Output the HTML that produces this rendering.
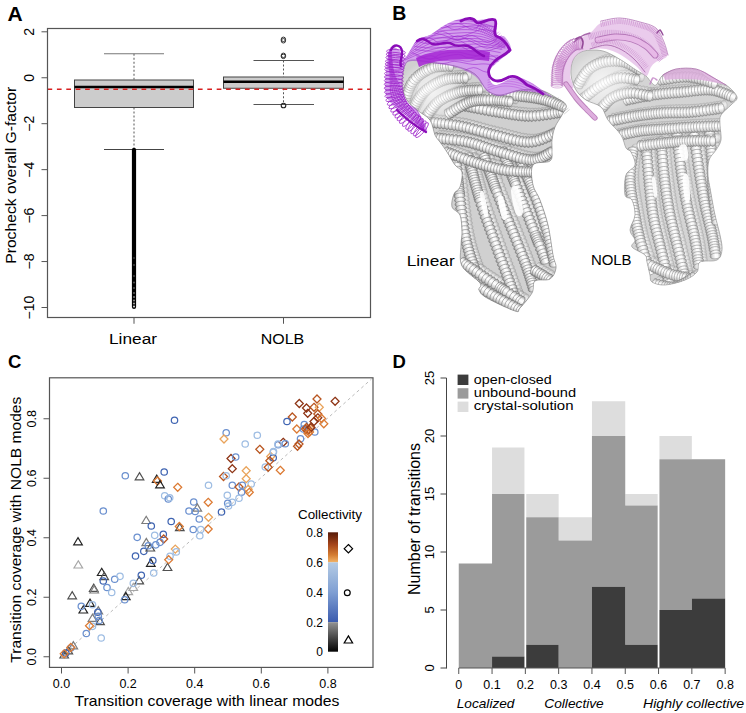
<!DOCTYPE html>
<html><head><meta charset="utf-8"><style>
html,body{margin:0;padding:0;background:#fff;}
svg{display:block;font-family:"Liberation Sans", sans-serif;}
</style></head><body>
<svg width="746" height="713" viewBox="0 0 746 713">
<rect width="746" height="713" fill="#fff"/>
<text x="7.5" y="21" font-size="21" text-anchor="start" font-weight="bold" font-style="normal" fill="#000">A</text>
<line x1="41.5" y1="31.8" x2="47.5" y2="31.8" stroke="#555" stroke-width="1"/>
<text x="34" y="31.8" font-size="14" text-anchor="middle" font-weight="normal" font-style="normal" fill="#000" transform="rotate(-90 34 31.8)">2</text>
<line x1="41.5" y1="77.75" x2="47.5" y2="77.75" stroke="#555" stroke-width="1"/>
<text x="34" y="77.75" font-size="14" text-anchor="middle" font-weight="normal" font-style="normal" fill="#000" transform="rotate(-90 34 77.75)">0</text>
<line x1="41.5" y1="123.7" x2="47.5" y2="123.7" stroke="#555" stroke-width="1"/>
<text x="34" y="123.7" font-size="14" text-anchor="middle" font-weight="normal" font-style="normal" fill="#000" transform="rotate(-90 34 123.7)">&#8722;2</text>
<line x1="41.5" y1="169.65" x2="47.5" y2="169.65" stroke="#555" stroke-width="1"/>
<text x="34" y="169.65" font-size="14" text-anchor="middle" font-weight="normal" font-style="normal" fill="#000" transform="rotate(-90 34 169.65)">&#8722;4</text>
<line x1="41.5" y1="215.6" x2="47.5" y2="215.6" stroke="#555" stroke-width="1"/>
<text x="34" y="215.6" font-size="14" text-anchor="middle" font-weight="normal" font-style="normal" fill="#000" transform="rotate(-90 34 215.6)">&#8722;6</text>
<line x1="41.5" y1="261.55" x2="47.5" y2="261.55" stroke="#555" stroke-width="1"/>
<text x="34" y="261.55" font-size="14" text-anchor="middle" font-weight="normal" font-style="normal" fill="#000" transform="rotate(-90 34 261.55)">&#8722;8</text>
<line x1="41.5" y1="307.5" x2="47.5" y2="307.5" stroke="#555" stroke-width="1"/>
<text x="34" y="307.5" font-size="14" text-anchor="middle" font-weight="normal" font-style="normal" fill="#000" transform="rotate(-90 34 307.5)">&#8722;10</text>
<text x="16.5" y="175.3" font-size="14.6" text-anchor="middle" font-weight="normal" font-style="normal" fill="#000" transform="rotate(-90 16.5 175.3)" textLength="177" lengthAdjust="spacingAndGlyphs">Procheck overall G-factor</text>
<line x1="134" y1="53.75" x2="134" y2="79.5" stroke="#555" stroke-width="1" stroke-dasharray="2,2"/>
<line x1="134" y1="107.5" x2="134" y2="149.5" stroke="#555" stroke-width="1" stroke-dasharray="2,2"/>
<line x1="104" y1="53.75" x2="164" y2="53.75" stroke="#777" stroke-width="1.2"/>
<line x1="104" y1="149.5" x2="164" y2="149.5" stroke="#444" stroke-width="1.2"/>
<rect x="74.5" y="80" width="119" height="27.5" fill="#cccccc" stroke="#444" stroke-width="1"/>
<line x1="74.5" y1="87" x2="193.5" y2="87" stroke="#000" stroke-width="2.6"/>
<rect x="131.9" y="147.7" width="4.2" height="161.3" rx="2.1" fill="#000"/>
<circle cx="134" cy="306.5" r="1.1" fill="#fff" opacity="0.8"/>
<circle cx="134" cy="303.5" r="1.1" fill="#fff" opacity="0.6"/>
<circle cx="134" cy="300.5" r="1.1" fill="#fff" opacity="0.5"/>
<circle cx="134" cy="297" r="1.1" fill="#fff" opacity="0.45"/>
<circle cx="134" cy="293" r="1.1" fill="#fff" opacity="0.35"/>
<circle cx="134" cy="288" r="1.1" fill="#fff" opacity="0.3"/>
<circle cx="134" cy="282.5" r="1.1" fill="#fff" opacity="0.3"/>
<circle cx="134" cy="276" r="1.1" fill="#fff" opacity="0.25"/>
<circle cx="134" cy="265" r="1.1" fill="#fff" opacity="0.25"/>
<circle cx="134" cy="258" r="1.1" fill="#fff" opacity="0.2"/>
<line x1="283.5" y1="60.5" x2="283.5" y2="76.75" stroke="#555" stroke-width="1" stroke-dasharray="2,2"/>
<line x1="283.5" y1="88.25" x2="283.5" y2="104.5" stroke="#555" stroke-width="1" stroke-dasharray="2,2"/>
<line x1="253.5" y1="60.5" x2="314" y2="60.5" stroke="#555" stroke-width="1.2"/>
<line x1="253.5" y1="104.5" x2="314" y2="104.5" stroke="#555" stroke-width="1.2"/>
<rect x="223.5" y="77" width="120" height="11.25" fill="#cccccc" stroke="#444" stroke-width="1"/>
<line x1="223.5" y1="81.75" x2="343.5" y2="81.75" stroke="#000" stroke-width="2.6"/>
<circle cx="283.4" cy="39.3" r="2.2" fill="none" stroke="#333" stroke-width="1"/>
<circle cx="283.4" cy="40.8" r="2.2" fill="none" stroke="#333" stroke-width="1"/>
<circle cx="283.4" cy="55.3" r="2.2" fill="none" stroke="#333" stroke-width="1"/>
<circle cx="283.4" cy="56.4" r="2.2" fill="none" stroke="#333" stroke-width="1"/>
<circle cx="283.5" cy="105.5" r="2.3" fill="none" stroke="#222" stroke-width="1.1"/>
<line x1="47.5" y1="89.25" x2="370.5" y2="89.25" stroke="#d82020" stroke-width="1.4" stroke-dasharray="4.7,4.7"/>
<rect x="47.5" y="28.5" width="323.0" height="289.0" fill="none" stroke="#555" stroke-width="1.2"/>
<line x1="134" y1="317.5" x2="134" y2="323.75" stroke="#555" stroke-width="1"/>
<line x1="283.5" y1="317.5" x2="283.5" y2="323.75" stroke="#555" stroke-width="1"/>
<text x="133" y="344.25" font-size="15.5" text-anchor="middle" font-weight="normal" font-style="normal" fill="#000" textLength="48" lengthAdjust="spacingAndGlyphs">Linear</text>
<text x="282.5" y="343.75" font-size="15.5" text-anchor="middle" font-weight="normal" font-style="normal" fill="#000" textLength="43.5" lengthAdjust="spacingAndGlyphs">NOLB</text>
<text x="392.3" y="20.4" font-size="19.5" text-anchor="start" font-weight="bold" font-style="normal" fill="#000">B</text>
<defs><linearGradient id="cg" x1="0" y1="0" x2="0" y2="1"><stop offset="0" stop-color="#9a9a9a"/><stop offset="0.3" stop-color="#f6f6f6"/><stop offset="0.5" stop-color="#ffffff"/><stop offset="0.8" stop-color="#cfcfcf"/><stop offset="1" stop-color="#888"/></linearGradient><linearGradient id="cg2" x1="0" y1="0" x2="0" y2="1"><stop offset="0" stop-color="#a8a8a8"/><stop offset="0.3" stop-color="#f8f8f8"/><stop offset="0.5" stop-color="#ffffff"/><stop offset="0.8" stop-color="#d8d8d8"/><stop offset="1" stop-color="#999"/></linearGradient></defs>
<clipPath id="clin"><path d="M405.0,65.0 C406.7,60.8 407.8,60.5 412.0,60.0 C416.2,59.5 422.8,61.0 430.0,62.0 C437.2,63.0 447.5,64.0 455.0,66.0 C462.5,68.0 469.7,70.0 475.0,74.0 C480.3,78.0 482.8,86.5 487.0,90.0 C491.2,93.5 494.5,95.0 500.0,95.0 C505.5,95.0 513.3,90.8 520.0,90.0 C526.7,89.2 534.2,88.8 540.0,90.0 C545.8,91.2 550.7,94.5 555.0,97.0 C559.3,99.5 564.8,102.0 566.0,105.0 C567.2,108.0 563.8,111.3 562.0,115.0 C560.2,118.7 556.7,122.8 555.0,127.0 C553.3,131.2 552.5,136.2 552.0,140.0 C551.5,143.8 552.3,146.5 552.0,150.0 C551.7,153.5 553.2,158.5 550.0,161.0 C546.8,163.5 535.8,161.0 533.0,165.0 C530.2,169.0 531.8,179.2 533.0,185.0 C534.2,190.8 537.5,193.3 540.0,200.0 C542.5,206.7 545.8,215.8 548.0,225.0 C550.2,234.2 551.7,247.8 553.0,255.0 C554.3,262.2 556.5,264.0 556.0,268.0 C555.5,272.0 553.5,276.8 550.0,279.0 C546.5,281.2 538.0,278.7 535.0,281.0 C532.0,283.3 534.5,288.5 532.0,293.0 C529.5,297.5 522.8,305.0 520.0,308.0 C517.2,311.0 520.5,312.7 515.0,311.0 C509.5,309.3 493.0,301.5 487.0,298.0 C481.0,294.5 480.2,292.5 479.0,290.0 C477.8,287.5 482.8,287.0 480.0,283.0 C477.2,279.0 465.2,272.3 462.0,266.0 C458.8,259.7 461.0,250.7 461.0,245.0 C461.0,239.3 462.2,237.0 462.0,232.0 C461.8,227.0 461.7,219.2 460.0,215.0 C458.3,210.8 453.0,210.5 452.0,207.0 C451.0,203.5 452.7,197.3 454.0,194.0 C455.3,190.7 458.7,190.7 460.0,187.0 C461.3,183.3 462.8,175.7 462.0,172.0 C461.2,168.3 457.5,168.3 455.0,165.0 C452.5,161.7 449.5,155.8 447.0,152.0 C444.5,148.2 442.0,144.8 440.0,142.0 C438.0,139.2 436.7,138.7 435.0,135.0 C433.3,131.3 433.0,124.2 430.0,120.0 C427.0,115.8 420.8,113.3 417.0,110.0 C413.2,106.7 409.5,104.2 407.0,100.0 C404.5,95.8 402.3,90.8 402.0,85.0 C401.7,79.2 403.3,69.2 405.0,65.0 Z"/></clipPath>
<path d="M405.0,65.0 C406.7,60.8 407.8,60.5 412.0,60.0 C416.2,59.5 422.8,61.0 430.0,62.0 C437.2,63.0 447.5,64.0 455.0,66.0 C462.5,68.0 469.7,70.0 475.0,74.0 C480.3,78.0 482.8,86.5 487.0,90.0 C491.2,93.5 494.5,95.0 500.0,95.0 C505.5,95.0 513.3,90.8 520.0,90.0 C526.7,89.2 534.2,88.8 540.0,90.0 C545.8,91.2 550.7,94.5 555.0,97.0 C559.3,99.5 564.8,102.0 566.0,105.0 C567.2,108.0 563.8,111.3 562.0,115.0 C560.2,118.7 556.7,122.8 555.0,127.0 C553.3,131.2 552.5,136.2 552.0,140.0 C551.5,143.8 552.3,146.5 552.0,150.0 C551.7,153.5 553.2,158.5 550.0,161.0 C546.8,163.5 535.8,161.0 533.0,165.0 C530.2,169.0 531.8,179.2 533.0,185.0 C534.2,190.8 537.5,193.3 540.0,200.0 C542.5,206.7 545.8,215.8 548.0,225.0 C550.2,234.2 551.7,247.8 553.0,255.0 C554.3,262.2 556.5,264.0 556.0,268.0 C555.5,272.0 553.5,276.8 550.0,279.0 C546.5,281.2 538.0,278.7 535.0,281.0 C532.0,283.3 534.5,288.5 532.0,293.0 C529.5,297.5 522.8,305.0 520.0,308.0 C517.2,311.0 520.5,312.7 515.0,311.0 C509.5,309.3 493.0,301.5 487.0,298.0 C481.0,294.5 480.2,292.5 479.0,290.0 C477.8,287.5 482.8,287.0 480.0,283.0 C477.2,279.0 465.2,272.3 462.0,266.0 C458.8,259.7 461.0,250.7 461.0,245.0 C461.0,239.3 462.2,237.0 462.0,232.0 C461.8,227.0 461.7,219.2 460.0,215.0 C458.3,210.8 453.0,210.5 452.0,207.0 C451.0,203.5 452.7,197.3 454.0,194.0 C455.3,190.7 458.7,190.7 460.0,187.0 C461.3,183.3 462.8,175.7 462.0,172.0 C461.2,168.3 457.5,168.3 455.0,165.0 C452.5,161.7 449.5,155.8 447.0,152.0 C444.5,148.2 442.0,144.8 440.0,142.0 C438.0,139.2 436.7,138.7 435.0,135.0 C433.3,131.3 433.0,124.2 430.0,120.0 C427.0,115.8 420.8,113.3 417.0,110.0 C413.2,106.7 409.5,104.2 407.0,100.0 C404.5,95.8 402.3,90.8 402.0,85.0 C401.7,79.2 403.3,69.2 405.0,65.0 Z" fill="#d0d0d0"/>
<g clip-path="url(#clin)">
<g fill="url(#cg)" stroke="#7a7a7a" stroke-width="0.45" opacity="0.55"><ellipse cx="460.0" cy="157.0" rx="2.8" ry="5.0" transform="rotate(84 460.0 157.0)"/><ellipse cx="460.4" cy="160.8" rx="2.8" ry="5.0" transform="rotate(85 460.4 160.8)"/><ellipse cx="460.7" cy="164.2" rx="2.8" ry="5.0" transform="rotate(85 460.7 164.2)"/><ellipse cx="461.0" cy="168.0" rx="2.8" ry="5.0" transform="rotate(85 461.0 168.0)"/><ellipse cx="461.4" cy="172.3" rx="2.8" ry="5.0" transform="rotate(85 461.4 172.3)"/><ellipse cx="461.8" cy="176.8" rx="2.8" ry="5.0" transform="rotate(85 461.8 176.8)"/><ellipse cx="462.3" cy="181.4" rx="2.8" ry="5.0" transform="rotate(84 462.3 181.4)"/><ellipse cx="462.8" cy="186.1" rx="2.8" ry="5.0" transform="rotate(84 462.8 186.1)"/><ellipse cx="463.3" cy="190.6" rx="2.8" ry="5.0" transform="rotate(84 463.3 190.6)"/><ellipse cx="463.8" cy="195.0" rx="2.8" ry="5.0" transform="rotate(83 463.8 195.0)"/><ellipse cx="464.3" cy="199.0" rx="2.8" ry="5.0" transform="rotate(83 464.3 199.0)"/><ellipse cx="464.8" cy="203.1" rx="2.8" ry="5.0" transform="rotate(83 464.8 203.1)"/><ellipse cx="465.3" cy="207.2" rx="2.8" ry="5.0" transform="rotate(83 465.3 207.2)"/><ellipse cx="465.8" cy="211.3" rx="2.8" ry="5.0" transform="rotate(83 465.8 211.3)"/><ellipse cx="466.3" cy="215.4" rx="2.8" ry="5.0" transform="rotate(82 466.3 215.4)"/><ellipse cx="466.9" cy="219.5" rx="2.8" ry="5.0" transform="rotate(82 466.9 219.5)"/><ellipse cx="467.5" cy="223.6" rx="2.8" ry="5.0" transform="rotate(81 467.5 223.6)"/><ellipse cx="468.2" cy="227.6" rx="2.8" ry="5.0" transform="rotate(80 468.2 227.6)"/><ellipse cx="468.9" cy="231.4" rx="2.8" ry="5.0" transform="rotate(79 468.9 231.4)"/><ellipse cx="469.6" cy="235.2" rx="2.8" ry="5.0" transform="rotate(78 469.6 235.2)"/><ellipse cx="470.4" cy="238.8" rx="2.8" ry="5.0" transform="rotate(77 470.4 238.8)"/><ellipse cx="471.2" cy="242.3" rx="2.8" ry="5.0" transform="rotate(76 471.2 242.3)"/><ellipse cx="472.1" cy="245.7" rx="2.8" ry="5.0" transform="rotate(75 472.1 245.7)"/><ellipse cx="473.0" cy="249.0" rx="2.8" ry="5.0" transform="rotate(74 473.0 249.0)"/><ellipse cx="474.0" cy="252.2" rx="2.8" ry="5.0" transform="rotate(73 474.0 252.2)"/><ellipse cx="475.0" cy="255.3" rx="2.8" ry="5.0" transform="rotate(72 475.0 255.3)"/><ellipse cx="476.0" cy="258.4" rx="2.8" ry="5.0" transform="rotate(71 476.0 258.4)"/><ellipse cx="477.1" cy="261.5" rx="2.8" ry="5.0" transform="rotate(70 477.1 261.5)"/><ellipse cx="478.2" cy="264.5" rx="2.8" ry="5.0" transform="rotate(69 478.2 264.5)"/><ellipse cx="479.4" cy="267.5" rx="2.8" ry="5.0" transform="rotate(69 479.4 267.5)"/><ellipse cx="480.6" cy="270.5" rx="2.8" ry="5.0" transform="rotate(67 480.6 270.5)"/><ellipse cx="482.0" cy="273.7" rx="2.8" ry="5.0" transform="rotate(65 482.0 273.7)"/><ellipse cx="483.5" cy="276.9" rx="2.8" ry="5.0" transform="rotate(64 483.5 276.9)"/><ellipse cx="485.2" cy="280.2" rx="2.8" ry="5.0" transform="rotate(63 485.2 280.2)"/><ellipse cx="486.8" cy="283.4" rx="2.8" ry="5.0" transform="rotate(63 486.8 283.4)"/><ellipse cx="488.4" cy="286.5" rx="2.8" ry="5.0" transform="rotate(62 488.4 286.5)"/><ellipse cx="490.0" cy="289.4" rx="2.8" ry="5.0" transform="rotate(62 490.0 289.4)"/><ellipse cx="491.4" cy="292.1" rx="2.8" ry="5.0" transform="rotate(62 491.4 292.1)"/><ellipse cx="492.6" cy="294.4" rx="2.8" ry="5.0" transform="rotate(62 492.6 294.4)"/><ellipse cx="494.0" cy="297.0" rx="2.8" ry="5.0" transform="rotate(63 494.0 297.0)"/></g>
<g fill="url(#cg)" stroke="#7a7a7a" stroke-width="0.45" opacity="0.55"><ellipse cx="472.0" cy="153.0" rx="2.8" ry="5.0" transform="rotate(75 472.0 153.0)"/><ellipse cx="472.7" cy="155.6" rx="2.8" ry="5.0" transform="rotate(75 472.7 155.6)"/><ellipse cx="473.6" cy="159.0" rx="2.8" ry="5.0" transform="rotate(75 473.6 159.0)"/><ellipse cx="474.7" cy="163.1" rx="2.8" ry="5.0" transform="rotate(75 474.7 163.1)"/><ellipse cx="475.8" cy="167.6" rx="2.8" ry="5.0" transform="rotate(75 475.8 167.6)"/><ellipse cx="476.5" cy="170.0" rx="2.8" ry="5.0" transform="rotate(75 476.5 170.0)"/><ellipse cx="477.1" cy="172.5" rx="2.8" ry="5.0" transform="rotate(75 477.1 172.5)"/><ellipse cx="477.8" cy="175.0" rx="2.8" ry="5.0" transform="rotate(75 477.8 175.0)"/><ellipse cx="478.5" cy="177.6" rx="2.8" ry="5.0" transform="rotate(75 478.5 177.6)"/><ellipse cx="479.2" cy="180.1" rx="2.8" ry="5.0" transform="rotate(75 479.2 180.1)"/><ellipse cx="479.9" cy="182.7" rx="2.8" ry="5.0" transform="rotate(75 479.9 182.7)"/><ellipse cx="480.6" cy="185.2" rx="2.8" ry="5.0" transform="rotate(74 480.6 185.2)"/><ellipse cx="481.3" cy="187.8" rx="2.8" ry="5.0" transform="rotate(74 481.3 187.8)"/><ellipse cx="482.0" cy="190.2" rx="2.8" ry="5.0" transform="rotate(74 482.0 190.2)"/><ellipse cx="482.7" cy="192.6" rx="2.8" ry="5.0" transform="rotate(74 482.7 192.6)"/><ellipse cx="484.0" cy="197.0" rx="2.8" ry="5.0" transform="rotate(73 484.0 197.0)"/><ellipse cx="485.3" cy="201.2" rx="2.8" ry="5.0" transform="rotate(72 485.3 201.2)"/><ellipse cx="486.7" cy="205.3" rx="2.8" ry="5.0" transform="rotate(72 486.7 205.3)"/><ellipse cx="488.1" cy="209.4" rx="2.8" ry="5.0" transform="rotate(71 488.1 209.4)"/><ellipse cx="489.5" cy="213.4" rx="2.8" ry="5.0" transform="rotate(71 489.5 213.4)"/><ellipse cx="490.9" cy="217.4" rx="2.8" ry="5.0" transform="rotate(70 490.9 217.4)"/><ellipse cx="492.3" cy="221.3" rx="2.8" ry="5.0" transform="rotate(70 492.3 221.3)"/><ellipse cx="493.7" cy="225.3" rx="2.8" ry="5.0" transform="rotate(70 493.7 225.3)"/><ellipse cx="495.2" cy="229.2" rx="2.8" ry="5.0" transform="rotate(70 495.2 229.2)"/><ellipse cx="496.6" cy="233.1" rx="2.8" ry="5.0" transform="rotate(70 496.6 233.1)"/><ellipse cx="498.0" cy="237.0" rx="2.8" ry="5.0" transform="rotate(70 498.0 237.0)"/><ellipse cx="499.4" cy="240.9" rx="2.8" ry="5.0" transform="rotate(70 499.4 240.9)"/><ellipse cx="500.9" cy="244.9" rx="2.8" ry="5.0" transform="rotate(70 500.9 244.9)"/><ellipse cx="502.3" cy="248.9" rx="2.8" ry="5.0" transform="rotate(70 502.3 248.9)"/><ellipse cx="503.8" cy="252.8" rx="2.8" ry="5.0" transform="rotate(70 503.8 252.8)"/><ellipse cx="505.2" cy="256.8" rx="2.8" ry="5.0" transform="rotate(70 505.2 256.8)"/><ellipse cx="506.7" cy="260.6" rx="2.8" ry="5.0" transform="rotate(70 506.7 260.6)"/><ellipse cx="508.1" cy="264.4" rx="2.8" ry="5.0" transform="rotate(70 508.1 264.4)"/><ellipse cx="509.5" cy="268.1" rx="2.8" ry="5.0" transform="rotate(70 509.5 268.1)"/><ellipse cx="510.8" cy="271.6" rx="2.8" ry="5.0" transform="rotate(70 510.8 271.6)"/><ellipse cx="512.0" cy="275.0" rx="2.8" ry="5.0" transform="rotate(70 512.0 275.0)"/><ellipse cx="513.2" cy="278.3" rx="2.8" ry="5.0" transform="rotate(70 513.2 278.3)"/><ellipse cx="514.4" cy="281.7" rx="2.8" ry="5.0" transform="rotate(70 514.4 281.7)"/><ellipse cx="515.6" cy="285.0" rx="2.8" ry="5.0" transform="rotate(70 515.6 285.0)"/><ellipse cx="516.8" cy="288.3" rx="2.8" ry="5.0" transform="rotate(70 516.8 288.3)"/><ellipse cx="517.9" cy="291.4" rx="2.8" ry="5.0" transform="rotate(70 517.9 291.4)"/><ellipse cx="518.9" cy="294.3" rx="2.8" ry="5.0" transform="rotate(70 518.9 294.3)"/><ellipse cx="519.9" cy="297.0" rx="2.8" ry="5.0" transform="rotate(70 519.9 297.0)"/><ellipse cx="520.7" cy="299.4" rx="2.8" ry="5.0" transform="rotate(70 520.7 299.4)"/><ellipse cx="521.7" cy="302.2" rx="2.8" ry="5.0" transform="rotate(70 521.7 302.2)"/></g>
<g fill="url(#cg)" stroke="#7a7a7a" stroke-width="0.45" opacity="0.55"><ellipse cx="488.0" cy="153.0" rx="2.8" ry="5.0" transform="rotate(70 488.0 153.0)"/><ellipse cx="488.8" cy="155.3" rx="2.8" ry="5.0" transform="rotate(71 488.8 155.3)"/><ellipse cx="489.9" cy="158.3" rx="2.8" ry="5.0" transform="rotate(71 489.9 158.3)"/><ellipse cx="491.1" cy="161.9" rx="2.8" ry="5.0" transform="rotate(71 491.1 161.9)"/><ellipse cx="492.5" cy="165.9" rx="2.8" ry="5.0" transform="rotate(71 492.5 165.9)"/><ellipse cx="494.1" cy="170.2" rx="2.8" ry="5.0" transform="rotate(70 494.1 170.2)"/><ellipse cx="495.7" cy="174.7" rx="2.8" ry="5.0" transform="rotate(70 495.7 174.7)"/><ellipse cx="496.5" cy="176.9" rx="2.8" ry="5.0" transform="rotate(70 496.5 176.9)"/><ellipse cx="497.3" cy="179.2" rx="2.8" ry="5.0" transform="rotate(70 497.3 179.2)"/><ellipse cx="498.1" cy="181.5" rx="2.8" ry="5.0" transform="rotate(70 498.1 181.5)"/><ellipse cx="499.7" cy="185.9" rx="2.8" ry="5.0" transform="rotate(70 499.7 185.9)"/><ellipse cx="501.3" cy="190.0" rx="2.8" ry="5.0" transform="rotate(69 501.3 190.0)"/><ellipse cx="502.7" cy="193.9" rx="2.8" ry="5.0" transform="rotate(69 502.7 193.9)"/><ellipse cx="504.2" cy="197.7" rx="2.8" ry="5.0" transform="rotate(68 504.2 197.7)"/><ellipse cx="505.7" cy="201.4" rx="2.8" ry="5.0" transform="rotate(68 505.7 201.4)"/><ellipse cx="507.2" cy="205.1" rx="2.8" ry="5.0" transform="rotate(68 507.2 205.1)"/><ellipse cx="508.7" cy="208.8" rx="2.8" ry="5.0" transform="rotate(68 508.7 208.8)"/><ellipse cx="510.3" cy="212.5" rx="2.8" ry="5.0" transform="rotate(68 510.3 212.5)"/><ellipse cx="511.8" cy="216.2" rx="2.8" ry="5.0" transform="rotate(68 511.8 216.2)"/><ellipse cx="513.3" cy="219.9" rx="2.8" ry="5.0" transform="rotate(68 513.3 219.9)"/><ellipse cx="514.8" cy="223.5" rx="2.8" ry="5.0" transform="rotate(68 514.8 223.5)"/><ellipse cx="516.3" cy="227.2" rx="2.8" ry="5.0" transform="rotate(68 516.3 227.2)"/><ellipse cx="517.7" cy="230.8" rx="2.8" ry="5.0" transform="rotate(68 517.7 230.8)"/><ellipse cx="519.2" cy="234.6" rx="2.8" ry="5.0" transform="rotate(68 519.2 234.6)"/><ellipse cx="520.7" cy="238.4" rx="2.8" ry="5.0" transform="rotate(68 520.7 238.4)"/><ellipse cx="522.3" cy="242.2" rx="2.8" ry="5.0" transform="rotate(68 522.3 242.2)"/><ellipse cx="523.8" cy="246.0" rx="2.8" ry="5.0" transform="rotate(69 523.8 246.0)"/><ellipse cx="525.2" cy="249.8" rx="2.8" ry="5.0" transform="rotate(69 525.2 249.8)"/><ellipse cx="526.7" cy="253.5" rx="2.8" ry="5.0" transform="rotate(69 526.7 253.5)"/><ellipse cx="528.0" cy="257.0" rx="2.8" ry="5.0" transform="rotate(69 528.0 257.0)"/><ellipse cx="529.3" cy="260.4" rx="2.8" ry="5.0" transform="rotate(69 529.3 260.4)"/><ellipse cx="530.5" cy="263.5" rx="2.8" ry="5.0" transform="rotate(70 530.5 263.5)"/><ellipse cx="531.5" cy="266.4" rx="2.8" ry="5.0" transform="rotate(70 531.5 266.4)"/><ellipse cx="532.5" cy="269.3" rx="2.8" ry="5.0" transform="rotate(71 532.5 269.3)"/><ellipse cx="533.4" cy="272.0" rx="2.8" ry="5.0" transform="rotate(72 533.4 272.0)"/><ellipse cx="534.2" cy="274.6" rx="2.8" ry="5.0" transform="rotate(72 534.2 274.6)"/><ellipse cx="535.0" cy="277.1" rx="2.8" ry="5.0" transform="rotate(73 535.0 277.1)"/><ellipse cx="535.7" cy="279.4" rx="2.8" ry="5.0" transform="rotate(73 535.7 279.4)"/><ellipse cx="536.6" cy="282.5" rx="2.8" ry="5.0" transform="rotate(74 536.6 282.5)"/><ellipse cx="537.4" cy="285.0" rx="2.8" ry="5.0" transform="rotate(73 537.4 285.0)"/></g>
<g fill="url(#cg)" stroke="#7a7a7a" stroke-width="0.45" opacity="0.55"><ellipse cx="506.0" cy="147.0" rx="2.8" ry="5.0" transform="rotate(68 506.0 147.0)"/><ellipse cx="506.9" cy="149.3" rx="2.8" ry="5.0" transform="rotate(68 506.9 149.3)"/><ellipse cx="508.0" cy="152.2" rx="2.8" ry="5.0" transform="rotate(68 508.0 152.2)"/><ellipse cx="509.4" cy="155.6" rx="2.8" ry="5.0" transform="rotate(68 509.4 155.6)"/><ellipse cx="510.9" cy="159.5" rx="2.8" ry="5.0" transform="rotate(68 510.9 159.5)"/><ellipse cx="512.6" cy="163.6" rx="2.8" ry="5.0" transform="rotate(68 512.6 163.6)"/><ellipse cx="514.3" cy="168.0" rx="2.8" ry="5.0" transform="rotate(68 514.3 168.0)"/><ellipse cx="516.0" cy="172.4" rx="2.8" ry="5.0" transform="rotate(68 516.0 172.4)"/><ellipse cx="517.8" cy="176.8" rx="2.8" ry="5.0" transform="rotate(68 517.8 176.8)"/><ellipse cx="519.4" cy="181.0" rx="2.8" ry="5.0" transform="rotate(68 519.4 181.0)"/><ellipse cx="521.0" cy="185.0" rx="2.8" ry="5.0" transform="rotate(68 521.0 185.0)"/><ellipse cx="522.5" cy="188.8" rx="2.8" ry="5.0" transform="rotate(68 522.5 188.8)"/><ellipse cx="524.0" cy="192.6" rx="2.8" ry="5.0" transform="rotate(68 524.0 192.6)"/><ellipse cx="525.5" cy="196.5" rx="2.8" ry="5.0" transform="rotate(68 525.5 196.5)"/><ellipse cx="527.0" cy="200.3" rx="2.8" ry="5.0" transform="rotate(68 527.0 200.3)"/><ellipse cx="528.6" cy="204.1" rx="2.8" ry="5.0" transform="rotate(68 528.6 204.1)"/><ellipse cx="530.1" cy="207.9" rx="2.8" ry="5.0" transform="rotate(68 530.1 207.9)"/><ellipse cx="531.6" cy="211.7" rx="2.8" ry="5.0" transform="rotate(68 531.6 211.7)"/><ellipse cx="533.1" cy="215.5" rx="2.8" ry="5.0" transform="rotate(69 533.1 215.5)"/><ellipse cx="534.5" cy="219.3" rx="2.8" ry="5.0" transform="rotate(69 534.5 219.3)"/><ellipse cx="536.0" cy="223.0" rx="2.8" ry="5.0" transform="rotate(69 536.0 223.0)"/><ellipse cx="537.5" cy="226.8" rx="2.8" ry="5.0" transform="rotate(69 537.5 226.8)"/><ellipse cx="539.1" cy="230.9" rx="2.8" ry="5.0" transform="rotate(69 539.1 230.9)"/><ellipse cx="540.7" cy="235.1" rx="2.8" ry="5.0" transform="rotate(69 540.7 235.1)"/><ellipse cx="542.3" cy="239.3" rx="2.8" ry="5.0" transform="rotate(69 542.3 239.3)"/><ellipse cx="543.9" cy="243.4" rx="2.8" ry="5.0" transform="rotate(69 543.9 243.4)"/><ellipse cx="545.5" cy="247.3" rx="2.8" ry="5.0" transform="rotate(69 545.5 247.3)"/><ellipse cx="546.9" cy="250.9" rx="2.8" ry="5.0" transform="rotate(69 546.9 250.9)"/><ellipse cx="548.1" cy="254.1" rx="2.8" ry="5.0" transform="rotate(69 548.1 254.1)"/><ellipse cx="549.2" cy="256.9" rx="2.8" ry="5.0" transform="rotate(69 549.2 256.9)"/></g>
<g fill="url(#cg)" stroke="#7a7a7a" stroke-width="0.45" opacity="0.55"><ellipse cx="524.0" cy="157.0" rx="2.8" ry="5.0" transform="rotate(67 524.0 157.0)"/><ellipse cx="525.0" cy="159.3" rx="2.8" ry="5.0" transform="rotate(67 525.0 159.3)"/><ellipse cx="526.2" cy="162.2" rx="2.8" ry="5.0" transform="rotate(66 526.2 162.2)"/><ellipse cx="527.8" cy="165.6" rx="2.8" ry="5.0" transform="rotate(66 527.8 165.6)"/><ellipse cx="529.4" cy="169.5" rx="2.8" ry="5.0" transform="rotate(66 529.4 169.5)"/><ellipse cx="531.2" cy="173.7" rx="2.8" ry="5.0" transform="rotate(67 531.2 173.7)"/><ellipse cx="533.1" cy="178.0" rx="2.8" ry="5.0" transform="rotate(67 533.1 178.0)"/><ellipse cx="534.1" cy="180.3" rx="2.8" ry="5.0" transform="rotate(67 534.1 180.3)"/><ellipse cx="535.0" cy="182.5" rx="2.8" ry="5.0" transform="rotate(67 535.0 182.5)"/><ellipse cx="536.8" cy="186.9" rx="2.8" ry="5.0" transform="rotate(68 536.8 186.9)"/><ellipse cx="538.5" cy="191.1" rx="2.8" ry="5.0" transform="rotate(69 538.5 191.1)"/><ellipse cx="540.0" cy="195.0" rx="2.8" ry="5.0" transform="rotate(69 540.0 195.0)"/><ellipse cx="541.4" cy="198.8" rx="2.8" ry="5.0" transform="rotate(70 541.4 198.8)"/><ellipse cx="542.7" cy="202.6" rx="2.8" ry="5.0" transform="rotate(71 542.7 202.6)"/><ellipse cx="544.1" cy="206.4" rx="2.8" ry="5.0" transform="rotate(71 544.1 206.4)"/><ellipse cx="545.3" cy="210.2" rx="2.8" ry="5.0" transform="rotate(72 545.3 210.2)"/><ellipse cx="546.6" cy="213.9" rx="2.8" ry="5.0" transform="rotate(72 546.6 213.9)"/><ellipse cx="547.8" cy="217.7" rx="2.8" ry="5.0" transform="rotate(73 547.8 217.7)"/><ellipse cx="548.9" cy="221.4" rx="2.8" ry="5.0" transform="rotate(73 548.9 221.4)"/><ellipse cx="550.0" cy="225.0" rx="2.8" ry="5.0" transform="rotate(73 550.0 225.0)"/><ellipse cx="551.0" cy="228.5" rx="2.8" ry="5.0" transform="rotate(74 551.0 228.5)"/><ellipse cx="552.0" cy="232.0" rx="2.8" ry="5.0" transform="rotate(74 552.0 232.0)"/><ellipse cx="552.9" cy="235.5" rx="2.8" ry="5.0" transform="rotate(76 552.9 235.5)"/><ellipse cx="553.8" cy="239.1" rx="2.8" ry="5.0" transform="rotate(76 553.8 239.1)"/><ellipse cx="554.7" cy="242.7" rx="2.8" ry="5.0" transform="rotate(77 554.7 242.7)"/><ellipse cx="555.5" cy="246.3" rx="2.8" ry="5.0" transform="rotate(78 555.5 246.3)"/><ellipse cx="556.2" cy="249.8" rx="2.8" ry="5.0" transform="rotate(78 556.2 249.8)"/><ellipse cx="556.9" cy="253.1" rx="2.8" ry="5.0" transform="rotate(78 556.9 253.1)"/><ellipse cx="557.6" cy="256.2" rx="2.8" ry="5.0" transform="rotate(78 557.6 256.2)"/><ellipse cx="558.1" cy="258.9" rx="2.8" ry="5.0" transform="rotate(78 558.1 258.9)"/><ellipse cx="558.8" cy="262.2" rx="2.8" ry="5.0" transform="rotate(78 558.8 262.2)"/></g>
<g fill="url(#cg)" stroke="#7a7a7a" stroke-width="0.45" opacity="0.55"><ellipse cx="466.0" cy="259.0" rx="2.8" ry="5.0" transform="rotate(34 466.0 259.0)"/><ellipse cx="468.6" cy="260.8" rx="2.8" ry="5.0" transform="rotate(34 468.6 260.8)"/><ellipse cx="470.9" cy="262.4" rx="2.8" ry="5.0" transform="rotate(34 470.9 262.4)"/><ellipse cx="473.6" cy="264.2" rx="2.8" ry="5.0" transform="rotate(34 473.6 264.2)"/><ellipse cx="476.5" cy="266.1" rx="2.8" ry="5.0" transform="rotate(34 476.5 266.1)"/><ellipse cx="479.6" cy="268.3" rx="2.8" ry="5.0" transform="rotate(34 479.6 268.3)"/><ellipse cx="482.8" cy="270.4" rx="2.8" ry="5.0" transform="rotate(34 482.8 270.4)"/><ellipse cx="486.1" cy="272.7" rx="2.8" ry="5.0" transform="rotate(34 486.1 272.7)"/><ellipse cx="489.3" cy="274.9" rx="2.8" ry="5.0" transform="rotate(34 489.3 274.9)"/><ellipse cx="492.5" cy="277.0" rx="2.8" ry="5.0" transform="rotate(34 492.5 277.0)"/><ellipse cx="495.5" cy="279.0" rx="2.8" ry="5.0" transform="rotate(34 495.5 279.0)"/><ellipse cx="498.9" cy="281.2" rx="2.8" ry="5.0" transform="rotate(33 498.9 281.2)"/><ellipse cx="502.5" cy="283.6" rx="2.8" ry="5.0" transform="rotate(33 502.5 283.6)"/><ellipse cx="506.2" cy="286.0" rx="2.8" ry="5.0" transform="rotate(33 506.2 286.0)"/><ellipse cx="509.9" cy="288.5" rx="2.8" ry="5.0" transform="rotate(33 509.9 288.5)"/><ellipse cx="513.6" cy="290.9" rx="2.8" ry="5.0" transform="rotate(33 513.6 290.9)"/><ellipse cx="517.0" cy="293.1" rx="2.8" ry="5.0" transform="rotate(33 517.0 293.1)"/><ellipse cx="520.2" cy="295.2" rx="2.8" ry="5.0" transform="rotate(33 520.2 295.2)"/><ellipse cx="522.9" cy="297.0" rx="2.8" ry="5.0" transform="rotate(33 522.9 297.0)"/><ellipse cx="525.1" cy="298.4" rx="2.8" ry="5.0" transform="rotate(33 525.1 298.4)"/></g>
<g fill="url(#cg)" stroke="#7a7a7a" stroke-width="0.45" opacity="0.55"><ellipse cx="474.0" cy="279.0" rx="2.8" ry="5.0" transform="rotate(30 474.0 279.0)"/><ellipse cx="476.7" cy="280.6" rx="2.8" ry="5.0" transform="rotate(30 476.7 280.6)"/><ellipse cx="479.1" cy="281.9" rx="2.8" ry="5.0" transform="rotate(30 479.1 281.9)"/><ellipse cx="481.8" cy="283.5" rx="2.8" ry="5.0" transform="rotate(30 481.8 283.5)"/><ellipse cx="484.8" cy="285.2" rx="2.8" ry="5.0" transform="rotate(30 484.8 285.2)"/><ellipse cx="488.0" cy="287.0" rx="2.8" ry="5.0" transform="rotate(30 488.0 287.0)"/><ellipse cx="491.2" cy="288.9" rx="2.8" ry="5.0" transform="rotate(30 491.2 288.9)"/><ellipse cx="494.5" cy="290.8" rx="2.8" ry="5.0" transform="rotate(30 494.5 290.8)"/><ellipse cx="497.6" cy="292.6" rx="2.8" ry="5.0" transform="rotate(29 497.6 292.6)"/><ellipse cx="500.6" cy="294.2" rx="2.8" ry="5.0" transform="rotate(29 500.6 294.2)"/><ellipse cx="503.4" cy="295.8" rx="2.8" ry="5.0" transform="rotate(29 503.4 295.8)"/><ellipse cx="506.3" cy="297.3" rx="2.8" ry="5.0" transform="rotate(29 506.3 297.3)"/><ellipse cx="509.2" cy="299.0" rx="2.8" ry="5.0" transform="rotate(28 509.2 299.0)"/><ellipse cx="512.3" cy="300.6" rx="2.8" ry="5.0" transform="rotate(28 512.3 300.6)"/><ellipse cx="515.3" cy="302.2" rx="2.8" ry="5.0" transform="rotate(28 515.3 302.2)"/><ellipse cx="518.2" cy="303.8" rx="2.8" ry="5.0" transform="rotate(28 518.2 303.8)"/><ellipse cx="520.9" cy="305.2" rx="2.8" ry="5.0" transform="rotate(28 520.9 305.2)"/><ellipse cx="523.4" cy="306.5" rx="2.8" ry="5.0" transform="rotate(28 523.4 306.5)"/><ellipse cx="525.5" cy="307.7" rx="2.8" ry="5.0" transform="rotate(28 525.5 307.7)"/><ellipse cx="528.0" cy="309.0" rx="2.8" ry="5.0" transform="rotate(28 528.0 309.0)"/></g>
<g fill="url(#cg)" stroke="#7a7a7a" stroke-width="0.45" opacity="0.55"><ellipse cx="538.0" cy="267.0" rx="2.8" ry="5.0" transform="rotate(31 538.0 267.0)"/><ellipse cx="540.7" cy="268.7" rx="2.8" ry="5.0" transform="rotate(31 540.7 268.7)"/><ellipse cx="543.7" cy="270.5" rx="2.8" ry="5.0" transform="rotate(31 543.7 270.5)"/><ellipse cx="545.9" cy="271.8" rx="2.8" ry="5.0" transform="rotate(31 545.9 271.8)"/><ellipse cx="548.1" cy="273.2" rx="2.8" ry="5.0" transform="rotate(31 548.1 273.2)"/><ellipse cx="550.3" cy="274.5" rx="2.8" ry="5.0" transform="rotate(31 550.3 274.5)"/><ellipse cx="553.3" cy="276.3" rx="2.8" ry="5.0" transform="rotate(31 553.3 276.3)"/><ellipse cx="555.5" cy="277.7" rx="2.8" ry="5.0" transform="rotate(31 555.5 277.7)"/></g>
<g fill="url(#cg)" stroke="#7a7a7a" stroke-width="0.45" opacity="0.55"><ellipse cx="440.0" cy="135.0" rx="2.8" ry="5.0" transform="rotate(7 440.0 135.0)"/><ellipse cx="443.1" cy="135.3" rx="2.8" ry="5.0" transform="rotate(6 443.1 135.3)"/><ellipse cx="445.8" cy="135.6" rx="2.8" ry="5.0" transform="rotate(5 445.8 135.6)"/><ellipse cx="448.8" cy="135.9" rx="2.8" ry="5.0" transform="rotate(5 448.8 135.9)"/><ellipse cx="452.2" cy="136.2" rx="2.8" ry="5.0" transform="rotate(6 452.2 136.2)"/><ellipse cx="455.8" cy="136.6" rx="2.8" ry="5.0" transform="rotate(6 455.8 136.6)"/><ellipse cx="459.5" cy="137.0" rx="2.8" ry="5.0" transform="rotate(7 459.5 137.0)"/><ellipse cx="463.2" cy="137.5" rx="2.8" ry="5.0" transform="rotate(8 463.2 137.5)"/><ellipse cx="466.9" cy="138.0" rx="2.8" ry="5.0" transform="rotate(9 466.9 138.0)"/><ellipse cx="470.4" cy="138.7" rx="2.8" ry="5.0" transform="rotate(11 470.4 138.7)"/><ellipse cx="473.6" cy="139.4" rx="2.8" ry="5.0" transform="rotate(13 473.6 139.4)"/><ellipse cx="476.8" cy="140.2" rx="2.8" ry="5.0" transform="rotate(15 476.8 140.2)"/><ellipse cx="480.0" cy="141.1" rx="2.8" ry="5.0" transform="rotate(17 480.0 141.1)"/><ellipse cx="483.2" cy="142.1" rx="2.8" ry="5.0" transform="rotate(18 483.2 142.1)"/><ellipse cx="486.4" cy="143.2" rx="2.8" ry="5.0" transform="rotate(19 486.4 143.2)"/><ellipse cx="489.6" cy="144.3" rx="2.8" ry="5.0" transform="rotate(19 489.6 144.3)"/><ellipse cx="492.8" cy="145.4" rx="2.8" ry="5.0" transform="rotate(19 492.8 145.4)"/><ellipse cx="496.0" cy="146.5" rx="2.8" ry="5.0" transform="rotate(19 496.0 146.5)"/><ellipse cx="499.2" cy="147.6" rx="2.8" ry="5.0" transform="rotate(18 499.2 147.6)"/><ellipse cx="502.4" cy="148.5" rx="2.8" ry="5.0" transform="rotate(16 502.4 148.5)"/><ellipse cx="505.6" cy="149.5" rx="2.8" ry="5.0" transform="rotate(16 505.6 149.5)"/><ellipse cx="508.9" cy="150.5" rx="2.8" ry="5.0" transform="rotate(17 508.9 150.5)"/><ellipse cx="512.3" cy="151.5" rx="2.8" ry="5.0" transform="rotate(17 512.3 151.5)"/><ellipse cx="515.7" cy="152.6" rx="2.8" ry="5.0" transform="rotate(17 515.7 152.6)"/><ellipse cx="519.1" cy="153.6" rx="2.8" ry="5.0" transform="rotate(17 519.1 153.6)"/><ellipse cx="522.4" cy="154.6" rx="2.8" ry="5.0" transform="rotate(16 522.4 154.6)"/><ellipse cx="525.7" cy="155.5" rx="2.8" ry="5.0" transform="rotate(14 525.7 155.5)"/><ellipse cx="528.8" cy="156.2" rx="2.8" ry="5.0" transform="rotate(11 528.8 156.2)"/><ellipse cx="531.9" cy="156.7" rx="2.8" ry="5.0" transform="rotate(8 531.9 156.7)"/><ellipse cx="534.7" cy="157.0" rx="2.8" ry="5.0" transform="rotate(3 534.7 157.0)"/><ellipse cx="537.3" cy="157.0" rx="2.8" ry="5.0" transform="rotate(-4 537.3 157.0)"/><ellipse cx="539.8" cy="156.6" rx="2.8" ry="5.0" transform="rotate(-12 539.8 156.6)"/><ellipse cx="542.3" cy="155.9" rx="2.8" ry="5.0" transform="rotate(-18 542.3 155.9)"/><ellipse cx="544.7" cy="155.1" rx="2.8" ry="5.0" transform="rotate(-22 544.7 155.1)"/><ellipse cx="546.9" cy="154.0" rx="2.8" ry="5.0" transform="rotate(-26 546.9 154.0)"/><ellipse cx="550.0" cy="152.4" rx="2.8" ry="5.0" transform="rotate(-30 550.0 152.4)"/><ellipse cx="552.7" cy="150.8" rx="2.8" ry="5.0" transform="rotate(-31 552.7 150.8)"/><ellipse cx="554.9" cy="149.5" rx="2.8" ry="5.0" transform="rotate(-28 554.9 149.5)"/></g>
<g fill="url(#cg)" stroke="#7a7a7a" stroke-width="0.45" opacity="0.55"><ellipse cx="432.0" cy="119.0" rx="2.8" ry="5.0" transform="rotate(7 432.0 119.0)"/><ellipse cx="435.0" cy="119.3" rx="2.8" ry="5.0" transform="rotate(6 435.0 119.3)"/><ellipse cx="437.7" cy="119.6" rx="2.8" ry="5.0" transform="rotate(6 437.7 119.6)"/><ellipse cx="440.7" cy="119.9" rx="2.8" ry="5.0" transform="rotate(6 440.7 119.9)"/><ellipse cx="444.1" cy="120.2" rx="2.8" ry="5.0" transform="rotate(6 444.1 120.2)"/><ellipse cx="447.6" cy="120.6" rx="2.8" ry="5.0" transform="rotate(6 447.6 120.6)"/><ellipse cx="451.3" cy="121.1" rx="2.8" ry="5.0" transform="rotate(7 451.3 121.1)"/><ellipse cx="455.0" cy="121.6" rx="2.8" ry="5.0" transform="rotate(8 455.0 121.6)"/><ellipse cx="458.7" cy="122.1" rx="2.8" ry="5.0" transform="rotate(9 458.7 122.1)"/><ellipse cx="462.3" cy="122.7" rx="2.8" ry="5.0" transform="rotate(10 462.3 122.7)"/><ellipse cx="465.7" cy="123.3" rx="2.8" ry="5.0" transform="rotate(12 465.7 123.3)"/><ellipse cx="469.1" cy="124.1" rx="2.8" ry="5.0" transform="rotate(13 469.1 124.1)"/><ellipse cx="472.5" cy="124.9" rx="2.8" ry="5.0" transform="rotate(14 472.5 124.9)"/><ellipse cx="476.0" cy="125.9" rx="2.8" ry="5.0" transform="rotate(15 476.0 125.9)"/><ellipse cx="479.5" cy="126.8" rx="2.8" ry="5.0" transform="rotate(15 479.5 126.8)"/><ellipse cx="483.1" cy="127.8" rx="2.8" ry="5.0" transform="rotate(16 483.1 127.8)"/><ellipse cx="486.6" cy="128.8" rx="2.8" ry="5.0" transform="rotate(16 486.6 128.8)"/><ellipse cx="490.2" cy="129.8" rx="2.8" ry="5.0" transform="rotate(15 490.2 129.8)"/><ellipse cx="493.7" cy="130.7" rx="2.8" ry="5.0" transform="rotate(14 493.7 130.7)"/><ellipse cx="497.2" cy="131.6" rx="2.8" ry="5.0" transform="rotate(13 497.2 131.6)"/><ellipse cx="500.8" cy="132.4" rx="2.8" ry="5.0" transform="rotate(14 500.8 132.4)"/><ellipse cx="504.3" cy="133.3" rx="2.8" ry="5.0" transform="rotate(15 504.3 133.3)"/><ellipse cx="507.9" cy="134.3" rx="2.8" ry="5.0" transform="rotate(15 507.9 134.3)"/><ellipse cx="511.5" cy="135.3" rx="2.8" ry="5.0" transform="rotate(15 511.5 135.3)"/><ellipse cx="515.1" cy="136.2" rx="2.8" ry="5.0" transform="rotate(14 515.1 136.2)"/><ellipse cx="518.7" cy="137.1" rx="2.8" ry="5.0" transform="rotate(13 518.7 137.1)"/><ellipse cx="522.3" cy="137.9" rx="2.8" ry="5.0" transform="rotate(11 522.3 137.9)"/><ellipse cx="525.7" cy="138.5" rx="2.8" ry="5.0" transform="rotate(8 525.7 138.5)"/><ellipse cx="529.1" cy="138.9" rx="2.8" ry="5.0" transform="rotate(5 529.1 138.9)"/><ellipse cx="532.4" cy="139.0" rx="2.8" ry="5.0" transform="rotate(0 532.4 139.0)"/><ellipse cx="535.6" cy="138.9" rx="2.8" ry="5.0" transform="rotate(-6 535.6 138.9)"/><ellipse cx="538.8" cy="138.3" rx="2.8" ry="5.0" transform="rotate(-12 538.8 138.3)"/><ellipse cx="542.1" cy="137.5" rx="2.8" ry="5.0" transform="rotate(-17 542.1 137.5)"/><ellipse cx="545.4" cy="136.4" rx="2.8" ry="5.0" transform="rotate(-20 545.4 136.4)"/><ellipse cx="548.6" cy="135.1" rx="2.8" ry="5.0" transform="rotate(-23 548.6 135.1)"/><ellipse cx="551.7" cy="133.8" rx="2.8" ry="5.0" transform="rotate(-24 551.7 133.8)"/><ellipse cx="554.5" cy="132.4" rx="2.8" ry="5.0" transform="rotate(-25 554.5 132.4)"/><ellipse cx="557.1" cy="131.2" rx="2.8" ry="5.0" transform="rotate(-26 557.1 131.2)"/><ellipse cx="559.4" cy="130.1" rx="2.8" ry="5.0" transform="rotate(-25 559.4 130.1)"/><ellipse cx="562.0" cy="129.0" rx="2.8" ry="5.0" transform="rotate(-21 562.0 129.0)"/></g>
<g fill="url(#cg)" stroke="#7a7a7a" stroke-width="0.45" opacity="0.55"><ellipse cx="470.0" cy="103.0" rx="2.8" ry="5.0" transform="rotate(11 470.0 103.0)"/><ellipse cx="473.1" cy="103.6" rx="2.8" ry="5.0" transform="rotate(11 473.1 103.6)"/><ellipse cx="475.8" cy="104.1" rx="2.8" ry="5.0" transform="rotate(11 475.8 104.1)"/><ellipse cx="478.8" cy="104.7" rx="2.8" ry="5.0" transform="rotate(11 478.8 104.7)"/><ellipse cx="482.2" cy="105.4" rx="2.8" ry="5.0" transform="rotate(11 482.2 105.4)"/><ellipse cx="485.8" cy="106.1" rx="2.8" ry="5.0" transform="rotate(11 485.8 106.1)"/><ellipse cx="489.5" cy="106.8" rx="2.8" ry="5.0" transform="rotate(11 489.5 106.8)"/><ellipse cx="493.2" cy="107.5" rx="2.8" ry="5.0" transform="rotate(10 493.2 107.5)"/><ellipse cx="496.9" cy="108.2" rx="2.8" ry="5.0" transform="rotate(10 496.9 108.2)"/><ellipse cx="500.4" cy="108.7" rx="2.8" ry="5.0" transform="rotate(9 500.4 108.7)"/><ellipse cx="503.6" cy="109.3" rx="2.8" ry="5.0" transform="rotate(9 503.6 109.3)"/><ellipse cx="506.8" cy="109.8" rx="2.8" ry="5.0" transform="rotate(10 506.8 109.8)"/><ellipse cx="510.0" cy="110.3" rx="2.8" ry="5.0" transform="rotate(10 510.0 110.3)"/><ellipse cx="513.2" cy="110.9" rx="2.8" ry="5.0" transform="rotate(9 513.2 110.9)"/><ellipse cx="516.4" cy="111.4" rx="2.8" ry="5.0" transform="rotate(9 516.4 111.4)"/><ellipse cx="519.6" cy="111.9" rx="2.8" ry="5.0" transform="rotate(8 519.6 111.9)"/><ellipse cx="522.8" cy="112.3" rx="2.8" ry="5.0" transform="rotate(7 522.8 112.3)"/><ellipse cx="526.0" cy="112.6" rx="2.8" ry="5.0" transform="rotate(5 526.0 112.6)"/><ellipse cx="529.2" cy="112.9" rx="2.8" ry="5.0" transform="rotate(3 529.2 112.9)"/><ellipse cx="532.4" cy="113.0" rx="2.8" ry="5.0" transform="rotate(1 532.4 113.0)"/><ellipse cx="535.6" cy="113.0" rx="2.8" ry="5.0" transform="rotate(-2 535.6 113.0)"/><ellipse cx="539.1" cy="112.8" rx="2.8" ry="5.0" transform="rotate(-4 539.1 112.8)"/><ellipse cx="542.8" cy="112.5" rx="2.8" ry="5.0" transform="rotate(-6 542.8 112.5)"/><ellipse cx="546.5" cy="112.0" rx="2.8" ry="5.0" transform="rotate(-7 546.5 112.0)"/><ellipse cx="550.2" cy="111.5" rx="2.8" ry="5.0" transform="rotate(-8 550.2 111.5)"/><ellipse cx="553.8" cy="111.0" rx="2.8" ry="5.0" transform="rotate(-9 553.8 111.0)"/><ellipse cx="557.2" cy="110.4" rx="2.8" ry="5.0" transform="rotate(-9 557.2 110.4)"/><ellipse cx="560.2" cy="109.9" rx="2.8" ry="5.0" transform="rotate(-10 560.2 109.9)"/><ellipse cx="562.9" cy="109.5" rx="2.8" ry="5.0" transform="rotate(-9 562.9 109.5)"/><ellipse cx="566.0" cy="109.0" rx="2.8" ry="5.0" transform="rotate(-8 566.0 109.0)"/></g>
<g fill="url(#cg)" stroke="#7a7a7a" stroke-width="0.45" opacity="0.55"><ellipse cx="496.0" cy="91.0" rx="2.8" ry="5.0" transform="rotate(4 496.0 91.0)"/><ellipse cx="498.7" cy="91.2" rx="2.8" ry="5.0" transform="rotate(3 498.7 91.2)"/><ellipse cx="502.4" cy="91.4" rx="2.8" ry="5.0" transform="rotate(3 502.4 91.4)"/><ellipse cx="505.3" cy="91.6" rx="2.8" ry="5.0" transform="rotate(3 505.3 91.6)"/><ellipse cx="508.4" cy="91.8" rx="2.8" ry="5.0" transform="rotate(4 508.4 91.8)"/><ellipse cx="511.7" cy="92.0" rx="2.8" ry="5.0" transform="rotate(4 511.7 92.0)"/><ellipse cx="514.9" cy="92.2" rx="2.8" ry="5.0" transform="rotate(4 514.9 92.2)"/><ellipse cx="518.1" cy="92.4" rx="2.8" ry="5.0" transform="rotate(5 518.1 92.4)"/><ellipse cx="521.2" cy="92.7" rx="2.8" ry="5.0" transform="rotate(5 521.2 92.7)"/><ellipse cx="524.0" cy="93.0" rx="2.8" ry="5.0" transform="rotate(6 524.0 93.0)"/><ellipse cx="526.6" cy="93.3" rx="2.8" ry="5.0" transform="rotate(7 526.6 93.3)"/><ellipse cx="529.3" cy="93.6" rx="2.8" ry="5.0" transform="rotate(7 529.3 93.6)"/><ellipse cx="531.8" cy="93.9" rx="2.8" ry="5.0" transform="rotate(7 531.8 93.9)"/><ellipse cx="534.4" cy="94.3" rx="2.8" ry="5.0" transform="rotate(8 534.4 94.3)"/><ellipse cx="536.9" cy="94.6" rx="2.8" ry="5.0" transform="rotate(8 536.9 94.6)"/><ellipse cx="539.4" cy="95.0" rx="2.8" ry="5.0" transform="rotate(9 539.4 95.0)"/><ellipse cx="541.9" cy="95.4" rx="2.8" ry="5.0" transform="rotate(10 541.9 95.4)"/><ellipse cx="544.3" cy="95.9" rx="2.8" ry="5.0" transform="rotate(12 544.3 95.9)"/><ellipse cx="546.7" cy="96.4" rx="2.8" ry="5.0" transform="rotate(13 546.7 96.4)"/><ellipse cx="550.2" cy="97.3" rx="2.8" ry="5.0" transform="rotate(16 550.2 97.3)"/><ellipse cx="552.6" cy="98.1" rx="2.8" ry="5.0" transform="rotate(18 552.6 98.1)"/><ellipse cx="555.0" cy="98.9" rx="2.8" ry="5.0" transform="rotate(20 555.0 98.9)"/><ellipse cx="557.5" cy="99.8" rx="2.8" ry="5.0" transform="rotate(21 557.5 99.8)"/><ellipse cx="559.9" cy="100.8" rx="2.8" ry="5.0" transform="rotate(22 559.9 100.8)"/><ellipse cx="562.2" cy="101.7" rx="2.8" ry="5.0" transform="rotate(23 562.2 101.7)"/><ellipse cx="565.4" cy="103.1" rx="2.8" ry="5.0" transform="rotate(23 565.4 103.1)"/><ellipse cx="568.0" cy="104.2" rx="2.8" ry="5.0" transform="rotate(23 568.0 104.2)"/></g>
<g fill="url(#cg)" stroke="#7a7a7a" stroke-width="0.45" opacity="0.55"><ellipse cx="450.0" cy="149.0" rx="2.8" ry="5.0" transform="rotate(20 450.0 149.0)"/><ellipse cx="452.7" cy="150.0" rx="2.8" ry="5.0" transform="rotate(20 452.7 150.0)"/><ellipse cx="455.0" cy="150.8" rx="2.8" ry="5.0" transform="rotate(21 455.0 150.8)"/><ellipse cx="457.7" cy="151.8" rx="2.8" ry="5.0" transform="rotate(20 457.7 151.8)"/><ellipse cx="460.6" cy="152.9" rx="2.8" ry="5.0" transform="rotate(20 460.6 152.9)"/><ellipse cx="463.7" cy="154.1" rx="2.8" ry="5.0" transform="rotate(20 463.7 154.1)"/><ellipse cx="466.9" cy="155.2" rx="2.8" ry="5.0" transform="rotate(20 466.9 155.2)"/><ellipse cx="470.2" cy="156.4" rx="2.8" ry="5.0" transform="rotate(19 470.2 156.4)"/><ellipse cx="473.4" cy="157.5" rx="2.8" ry="5.0" transform="rotate(19 473.4 157.5)"/><ellipse cx="476.5" cy="158.5" rx="2.8" ry="5.0" transform="rotate(18 476.5 158.5)"/><ellipse cx="479.5" cy="159.5" rx="2.8" ry="5.0" transform="rotate(17 479.5 159.5)"/><ellipse cx="482.4" cy="160.4" rx="2.8" ry="5.0" transform="rotate(17 482.4 160.4)"/><ellipse cx="485.4" cy="161.3" rx="2.8" ry="5.0" transform="rotate(17 485.4 161.3)"/><ellipse cx="488.4" cy="162.2" rx="2.8" ry="5.0" transform="rotate(16 488.4 162.2)"/><ellipse cx="491.5" cy="163.1" rx="2.8" ry="5.0" transform="rotate(16 491.5 163.1)"/><ellipse cx="494.5" cy="163.9" rx="2.8" ry="5.0" transform="rotate(15 494.5 163.9)"/><ellipse cx="497.6" cy="164.7" rx="2.8" ry="5.0" transform="rotate(14 497.6 164.7)"/><ellipse cx="500.6" cy="165.5" rx="2.8" ry="5.0" transform="rotate(13 500.6 165.5)"/><ellipse cx="503.6" cy="166.1" rx="2.8" ry="5.0" transform="rotate(12 503.6 166.1)"/><ellipse cx="506.5" cy="166.7" rx="2.8" ry="5.0" transform="rotate(11 506.5 166.7)"/><ellipse cx="509.5" cy="167.2" rx="2.8" ry="5.0" transform="rotate(9 509.5 167.2)"/><ellipse cx="512.6" cy="167.6" rx="2.8" ry="5.0" transform="rotate(7 512.6 167.6)"/><ellipse cx="515.8" cy="168.0" rx="2.8" ry="5.0" transform="rotate(5 515.8 168.0)"/><ellipse cx="519.1" cy="168.2" rx="2.8" ry="5.0" transform="rotate(4 519.1 168.2)"/><ellipse cx="522.3" cy="168.4" rx="2.8" ry="5.0" transform="rotate(3 522.3 168.4)"/><ellipse cx="525.4" cy="168.6" rx="2.8" ry="5.0" transform="rotate(2 525.4 168.6)"/><ellipse cx="528.3" cy="168.7" rx="2.8" ry="5.0" transform="rotate(2 528.3 168.7)"/><ellipse cx="531.0" cy="168.8" rx="2.8" ry="5.0" transform="rotate(2 531.0 168.8)"/><ellipse cx="534.3" cy="168.9" rx="2.8" ry="5.0" transform="rotate(3 534.3 168.9)"/></g>
<g fill="url(#cg)" stroke="#7a7a7a" stroke-width="0.45" opacity="0.55"><ellipse cx="410.0" cy="95.0" rx="2.8" ry="5.0" transform="rotate(-67 410.0 95.0)"/><ellipse cx="410.9" cy="92.5" rx="2.8" ry="5.0" transform="rotate(-72 410.9 92.5)"/><ellipse cx="411.8" cy="89.8" rx="2.8" ry="5.0" transform="rotate(-71 411.8 89.8)"/><ellipse cx="412.9" cy="86.8" rx="2.8" ry="5.0" transform="rotate(-70 412.9 86.8)"/><ellipse cx="414.1" cy="83.6" rx="2.8" ry="5.0" transform="rotate(-66 414.1 83.6)"/><ellipse cx="415.6" cy="80.5" rx="2.8" ry="5.0" transform="rotate(-61 415.6 80.5)"/><ellipse cx="417.4" cy="77.8" rx="2.8" ry="5.0" transform="rotate(-53 417.4 77.8)"/><ellipse cx="419.4" cy="75.5" rx="2.8" ry="5.0" transform="rotate(-45 419.4 75.5)"/><ellipse cx="421.8" cy="73.3" rx="2.8" ry="5.0" transform="rotate(-40 421.8 73.3)"/><ellipse cx="424.4" cy="71.3" rx="2.8" ry="5.0" transform="rotate(-36 424.4 71.3)"/><ellipse cx="427.2" cy="69.4" rx="2.8" ry="5.0" transform="rotate(-32 427.2 69.4)"/><ellipse cx="430.1" cy="67.7" rx="2.8" ry="5.0" transform="rotate(-28 430.1 67.7)"/><ellipse cx="433.1" cy="66.2" rx="2.8" ry="5.0" transform="rotate(-25 433.1 66.2)"/><ellipse cx="436.0" cy="65.0" rx="2.8" ry="5.0" transform="rotate(-20 436.0 65.0)"/><ellipse cx="439.1" cy="64.1" rx="2.8" ry="5.0" transform="rotate(-12 439.1 64.1)"/><ellipse cx="442.5" cy="63.6" rx="2.8" ry="5.0" transform="rotate(-7 442.5 63.6)"/><ellipse cx="446.0" cy="63.3" rx="2.8" ry="5.0" transform="rotate(-3 446.0 63.3)"/><ellipse cx="449.3" cy="63.2" rx="2.8" ry="5.0" transform="rotate(-1 449.3 63.2)"/><ellipse cx="452.4" cy="63.1" rx="2.8" ry="5.0" transform="rotate(-1 452.4 63.1)"/><ellipse cx="454.8" cy="63.1" rx="2.8" ry="5.0" transform="rotate(-2 454.8 63.1)"/></g>
<g fill="url(#cg)" stroke="#7a7a7a" stroke-width="0.45" opacity="0.55"><ellipse cx="416.0" cy="107.0" rx="2.8" ry="5.0" transform="rotate(-57 416.0 107.0)"/><ellipse cx="417.5" cy="104.5" rx="2.8" ry="5.0" transform="rotate(-61 417.5 104.5)"/><ellipse cx="419.0" cy="101.8" rx="2.8" ry="5.0" transform="rotate(-61 419.0 101.8)"/><ellipse cx="420.8" cy="98.8" rx="2.8" ry="5.0" transform="rotate(-59 420.8 98.8)"/><ellipse cx="422.0" cy="96.6" rx="2.8" ry="5.0" transform="rotate(-58 422.0 96.6)"/><ellipse cx="423.4" cy="94.5" rx="2.8" ry="5.0" transform="rotate(-55 423.4 94.5)"/><ellipse cx="424.9" cy="92.5" rx="2.8" ry="5.0" transform="rotate(-53 424.9 92.5)"/><ellipse cx="426.4" cy="90.6" rx="2.8" ry="5.0" transform="rotate(-49 426.4 90.6)"/><ellipse cx="428.8" cy="88.3" rx="2.8" ry="5.0" transform="rotate(-42 428.8 88.3)"/><ellipse cx="431.5" cy="86.1" rx="2.8" ry="5.0" transform="rotate(-38 431.5 86.1)"/><ellipse cx="434.3" cy="84.0" rx="2.8" ry="5.0" transform="rotate(-34 434.3 84.0)"/><ellipse cx="436.3" cy="82.6" rx="2.8" ry="5.0" transform="rotate(-32 436.3 82.6)"/><ellipse cx="438.4" cy="81.4" rx="2.8" ry="5.0" transform="rotate(-30 438.4 81.4)"/><ellipse cx="440.5" cy="80.2" rx="2.8" ry="5.0" transform="rotate(-28 440.5 80.2)"/><ellipse cx="443.7" cy="78.7" rx="2.8" ry="5.0" transform="rotate(-24 443.7 78.7)"/><ellipse cx="446.9" cy="77.4" rx="2.8" ry="5.0" transform="rotate(-20 446.9 77.4)"/><ellipse cx="450.2" cy="76.4" rx="2.8" ry="5.0" transform="rotate(-13 450.2 76.4)"/><ellipse cx="452.6" cy="75.9" rx="2.8" ry="5.0" transform="rotate(-9 452.6 75.9)"/><ellipse cx="455.1" cy="75.6" rx="2.8" ry="5.0" transform="rotate(-6 455.1 75.6)"/><ellipse cx="457.7" cy="75.4" rx="2.8" ry="5.0" transform="rotate(-4 457.7 75.4)"/><ellipse cx="460.2" cy="75.2" rx="2.8" ry="5.0" transform="rotate(-2 460.2 75.2)"/><ellipse cx="462.7" cy="75.2" rx="2.8" ry="5.0" transform="rotate(-1 462.7 75.2)"/><ellipse cx="466.0" cy="75.1" rx="2.8" ry="5.0" transform="rotate(-1 466.0 75.1)"/><ellipse cx="468.7" cy="75.1" rx="2.8" ry="5.0" transform="rotate(-2 468.7 75.1)"/></g>
<g fill="url(#cg)" stroke="#7a7a7a" stroke-width="0.45" opacity="0.55"><ellipse cx="428.0" cy="117.0" rx="2.8" ry="5.0" transform="rotate(-53 428.0 117.0)"/><ellipse cx="429.8" cy="114.4" rx="2.8" ry="5.0" transform="rotate(-57 429.8 114.4)"/><ellipse cx="431.5" cy="111.7" rx="2.8" ry="5.0" transform="rotate(-57 431.5 111.7)"/><ellipse cx="432.9" cy="109.7" rx="2.8" ry="5.0" transform="rotate(-56 432.9 109.7)"/><ellipse cx="434.4" cy="107.6" rx="2.8" ry="5.0" transform="rotate(-54 434.4 107.6)"/><ellipse cx="436.0" cy="105.4" rx="2.8" ry="5.0" transform="rotate(-52 436.0 105.4)"/><ellipse cx="437.6" cy="103.4" rx="2.8" ry="5.0" transform="rotate(-50 437.6 103.4)"/><ellipse cx="439.3" cy="101.4" rx="2.8" ry="5.0" transform="rotate(-46 439.3 101.4)"/><ellipse cx="441.1" cy="99.7" rx="2.8" ry="5.0" transform="rotate(-41 441.1 99.7)"/><ellipse cx="443.9" cy="97.6" rx="2.8" ry="5.0" transform="rotate(-34 443.9 97.6)"/><ellipse cx="446.9" cy="95.8" rx="2.8" ry="5.0" transform="rotate(-29 446.9 95.8)"/><ellipse cx="449.1" cy="94.6" rx="2.8" ry="5.0" transform="rotate(-27 449.1 94.6)"/><ellipse cx="451.4" cy="93.5" rx="2.8" ry="5.0" transform="rotate(-25 451.4 93.5)"/><ellipse cx="453.7" cy="92.5" rx="2.8" ry="5.0" transform="rotate(-23 453.7 92.5)"/><ellipse cx="456.0" cy="91.6" rx="2.8" ry="5.0" transform="rotate(-21 456.0 91.6)"/><ellipse cx="458.3" cy="90.8" rx="2.8" ry="5.0" transform="rotate(-19 458.3 90.8)"/><ellipse cx="460.6" cy="90.0" rx="2.8" ry="5.0" transform="rotate(-17 460.6 90.0)"/><ellipse cx="464.0" cy="89.0" rx="2.8" ry="5.0" transform="rotate(-15 464.0 89.0)"/><ellipse cx="467.5" cy="88.2" rx="2.8" ry="5.0" transform="rotate(-10 467.5 88.2)"/><ellipse cx="470.0" cy="87.9" rx="2.8" ry="5.0" transform="rotate(-7 470.0 87.9)"/><ellipse cx="472.6" cy="87.6" rx="2.8" ry="5.0" transform="rotate(-5 472.6 87.6)"/><ellipse cx="475.1" cy="87.4" rx="2.8" ry="5.0" transform="rotate(-3 475.1 87.4)"/><ellipse cx="477.6" cy="87.3" rx="2.8" ry="5.0" transform="rotate(-2 477.6 87.3)"/><ellipse cx="481.0" cy="87.2" rx="2.8" ry="5.0" transform="rotate(-2 481.0 87.2)"/><ellipse cx="483.9" cy="87.1" rx="2.8" ry="5.0" transform="rotate(-2 483.9 87.1)"/></g>
<g fill="url(#cg)" stroke="#7a7a7a" stroke-width="0.45" opacity="0.55"><ellipse cx="452.0" cy="111.0" rx="2.8" ry="5.0" transform="rotate(-29 452.0 111.0)"/><ellipse cx="454.1" cy="109.8" rx="2.8" ry="5.0" transform="rotate(-32 454.1 109.8)"/><ellipse cx="457.0" cy="108.0" rx="2.8" ry="5.0" transform="rotate(-32 457.0 108.0)"/><ellipse cx="459.2" cy="106.6" rx="2.8" ry="5.0" transform="rotate(-32 459.2 106.6)"/><ellipse cx="461.6" cy="105.1" rx="2.8" ry="5.0" transform="rotate(-31 461.6 105.1)"/><ellipse cx="464.1" cy="103.7" rx="2.8" ry="5.0" transform="rotate(-30 464.1 103.7)"/><ellipse cx="466.7" cy="102.2" rx="2.8" ry="5.0" transform="rotate(-28 466.7 102.2)"/><ellipse cx="469.2" cy="101.0" rx="2.8" ry="5.0" transform="rotate(-26 469.2 101.0)"/><ellipse cx="471.7" cy="99.8" rx="2.8" ry="5.0" transform="rotate(-22 471.7 99.8)"/><ellipse cx="474.0" cy="99.0" rx="2.8" ry="5.0" transform="rotate(-18 474.0 99.0)"/><ellipse cx="477.3" cy="98.1" rx="2.8" ry="5.0" transform="rotate(-12 477.3 98.1)"/><ellipse cx="480.7" cy="97.5" rx="2.8" ry="5.0" transform="rotate(-8 480.7 97.5)"/><ellipse cx="484.0" cy="97.2" rx="2.8" ry="5.0" transform="rotate(-4 484.0 97.2)"/><ellipse cx="487.3" cy="97.0" rx="2.8" ry="5.0" transform="rotate(-2 487.3 97.0)"/><ellipse cx="490.6" cy="97.0" rx="2.8" ry="5.0" transform="rotate(-0 490.6 97.0)"/><ellipse cx="493.9" cy="97.0" rx="2.8" ry="5.0" transform="rotate(0 493.9 97.0)"/><ellipse cx="497.1" cy="97.0" rx="2.8" ry="5.0" transform="rotate(1 497.1 97.0)"/><ellipse cx="500.4" cy="97.2" rx="2.8" ry="5.0" transform="rotate(4 500.4 97.2)"/><ellipse cx="503.9" cy="97.5" rx="2.8" ry="5.0" transform="rotate(6 503.9 97.5)"/><ellipse cx="507.4" cy="97.9" rx="2.8" ry="5.0" transform="rotate(7 507.4 97.9)"/><ellipse cx="510.6" cy="98.3" rx="2.8" ry="5.0" transform="rotate(8 510.6 98.3)"/><ellipse cx="513.3" cy="98.7" rx="2.8" ry="5.0" transform="rotate(8 513.3 98.7)"/><ellipse cx="516.0" cy="99.0" rx="2.8" ry="5.0" transform="rotate(6 516.0 99.0)"/></g>
<g fill="url(#cg)" stroke="#6c6c6c" stroke-width="0.5" opacity="1"><ellipse cx="456.0" cy="160.0" rx="2.8" ry="5.5" transform="rotate(84 456.0 160.0)"/><ellipse cx="456.2" cy="162.4" rx="2.8" ry="5.5" transform="rotate(85 456.2 162.4)"/><ellipse cx="456.5" cy="165.4" rx="2.8" ry="5.5" transform="rotate(85 456.5 165.4)"/><ellipse cx="456.8" cy="169.1" rx="2.8" ry="5.5" transform="rotate(85 456.8 169.1)"/><ellipse cx="457.2" cy="173.1" rx="2.8" ry="5.5" transform="rotate(85 457.2 173.1)"/><ellipse cx="457.6" cy="177.5" rx="2.8" ry="5.5" transform="rotate(85 457.6 177.5)"/><ellipse cx="457.8" cy="179.8" rx="2.8" ry="5.5" transform="rotate(85 457.8 179.8)"/><ellipse cx="458.1" cy="182.1" rx="2.8" ry="5.5" transform="rotate(84 458.1 182.1)"/><ellipse cx="458.3" cy="184.4" rx="2.8" ry="5.5" transform="rotate(84 458.3 184.4)"/><ellipse cx="458.5" cy="186.7" rx="2.8" ry="5.5" transform="rotate(84 458.5 186.7)"/><ellipse cx="458.8" cy="189.1" rx="2.8" ry="5.5" transform="rotate(84 458.8 189.1)"/><ellipse cx="459.0" cy="191.4" rx="2.8" ry="5.5" transform="rotate(84 459.0 191.4)"/><ellipse cx="459.3" cy="193.6" rx="2.8" ry="5.5" transform="rotate(84 459.3 193.6)"/><ellipse cx="459.5" cy="195.8" rx="2.8" ry="5.5" transform="rotate(83 459.5 195.8)"/><ellipse cx="460.0" cy="200.0" rx="2.8" ry="5.5" transform="rotate(83 460.0 200.0)"/><ellipse cx="460.5" cy="204.0" rx="2.8" ry="5.5" transform="rotate(83 460.5 204.0)"/><ellipse cx="461.0" cy="208.1" rx="2.8" ry="5.5" transform="rotate(83 461.0 208.1)"/><ellipse cx="461.5" cy="212.3" rx="2.8" ry="5.5" transform="rotate(83 461.5 212.3)"/><ellipse cx="462.1" cy="216.4" rx="2.8" ry="5.5" transform="rotate(82 462.1 216.4)"/><ellipse cx="462.6" cy="220.5" rx="2.8" ry="5.5" transform="rotate(82 462.6 220.5)"/><ellipse cx="463.2" cy="224.6" rx="2.8" ry="5.5" transform="rotate(81 463.2 224.6)"/><ellipse cx="463.8" cy="228.6" rx="2.8" ry="5.5" transform="rotate(81 463.8 228.6)"/><ellipse cx="464.5" cy="232.5" rx="2.8" ry="5.5" transform="rotate(80 464.5 232.5)"/><ellipse cx="465.2" cy="236.3" rx="2.8" ry="5.5" transform="rotate(79 465.2 236.3)"/><ellipse cx="466.0" cy="240.0" rx="2.8" ry="5.5" transform="rotate(78 466.0 240.0)"/><ellipse cx="466.8" cy="243.5" rx="2.8" ry="5.5" transform="rotate(76 466.8 243.5)"/><ellipse cx="467.7" cy="247.0" rx="2.8" ry="5.5" transform="rotate(75 467.7 247.0)"/><ellipse cx="468.6" cy="250.3" rx="2.8" ry="5.5" transform="rotate(74 468.6 250.3)"/><ellipse cx="469.5" cy="253.6" rx="2.8" ry="5.5" transform="rotate(73 469.5 253.6)"/><ellipse cx="470.5" cy="256.8" rx="2.8" ry="5.5" transform="rotate(72 470.5 256.8)"/><ellipse cx="471.5" cy="259.9" rx="2.8" ry="5.5" transform="rotate(71 471.5 259.9)"/><ellipse cx="472.6" cy="262.9" rx="2.8" ry="5.5" transform="rotate(71 472.6 262.9)"/><ellipse cx="473.7" cy="266.0" rx="2.8" ry="5.5" transform="rotate(70 473.7 266.0)"/><ellipse cx="474.8" cy="269.0" rx="2.8" ry="5.5" transform="rotate(69 474.8 269.0)"/><ellipse cx="476.0" cy="272.0" rx="2.8" ry="5.5" transform="rotate(68 476.0 272.0)"/><ellipse cx="477.3" cy="275.1" rx="2.8" ry="5.5" transform="rotate(66 477.3 275.1)"/><ellipse cx="478.8" cy="278.3" rx="2.8" ry="5.5" transform="rotate(65 478.8 278.3)"/><ellipse cx="480.3" cy="281.6" rx="2.8" ry="5.5" transform="rotate(64 480.3 281.6)"/><ellipse cx="482.0" cy="284.8" rx="2.8" ry="5.5" transform="rotate(63 482.0 284.8)"/><ellipse cx="483.6" cy="288.0" rx="2.8" ry="5.5" transform="rotate(62 483.6 288.0)"/><ellipse cx="485.2" cy="291.0" rx="2.8" ry="5.5" transform="rotate(62 485.2 291.0)"/><ellipse cx="486.7" cy="293.8" rx="2.8" ry="5.5" transform="rotate(62 486.7 293.8)"/><ellipse cx="488.0" cy="296.3" rx="2.8" ry="5.5" transform="rotate(62 488.0 296.3)"/><ellipse cx="489.1" cy="298.4" rx="2.8" ry="5.5" transform="rotate(62 489.1 298.4)"/></g>
<g fill="url(#cg)" stroke="#6c6c6c" stroke-width="0.5" opacity="1"><ellipse cx="468.0" cy="156.0" rx="2.8" ry="5.5" transform="rotate(75 468.0 156.0)"/><ellipse cx="468.7" cy="158.6" rx="2.8" ry="5.5" transform="rotate(75 468.7 158.6)"/><ellipse cx="469.6" cy="162.0" rx="2.8" ry="5.5" transform="rotate(75 469.6 162.0)"/><ellipse cx="470.7" cy="166.1" rx="2.8" ry="5.5" transform="rotate(75 470.7 166.1)"/><ellipse cx="471.2" cy="168.3" rx="2.8" ry="5.5" transform="rotate(75 471.2 168.3)"/><ellipse cx="471.8" cy="170.6" rx="2.8" ry="5.5" transform="rotate(75 471.8 170.6)"/><ellipse cx="472.5" cy="173.0" rx="2.8" ry="5.5" transform="rotate(75 472.5 173.0)"/><ellipse cx="473.1" cy="175.5" rx="2.8" ry="5.5" transform="rotate(75 473.1 175.5)"/><ellipse cx="473.8" cy="178.0" rx="2.8" ry="5.5" transform="rotate(75 473.8 178.0)"/><ellipse cx="474.5" cy="180.6" rx="2.8" ry="5.5" transform="rotate(75 474.5 180.6)"/><ellipse cx="475.2" cy="183.1" rx="2.8" ry="5.5" transform="rotate(75 475.2 183.1)"/><ellipse cx="475.9" cy="185.7" rx="2.8" ry="5.5" transform="rotate(75 475.9 185.7)"/><ellipse cx="476.6" cy="188.2" rx="2.8" ry="5.5" transform="rotate(74 476.6 188.2)"/><ellipse cx="477.3" cy="190.8" rx="2.8" ry="5.5" transform="rotate(74 477.3 190.8)"/><ellipse cx="478.0" cy="193.2" rx="2.8" ry="5.5" transform="rotate(74 478.0 193.2)"/><ellipse cx="478.7" cy="195.6" rx="2.8" ry="5.5" transform="rotate(74 478.7 195.6)"/><ellipse cx="479.3" cy="197.8" rx="2.8" ry="5.5" transform="rotate(73 479.3 197.8)"/><ellipse cx="480.0" cy="200.0" rx="2.8" ry="5.5" transform="rotate(73 480.0 200.0)"/><ellipse cx="481.3" cy="204.2" rx="2.8" ry="5.5" transform="rotate(72 481.3 204.2)"/><ellipse cx="482.7" cy="208.3" rx="2.8" ry="5.5" transform="rotate(72 482.7 208.3)"/><ellipse cx="484.1" cy="212.4" rx="2.8" ry="5.5" transform="rotate(71 484.1 212.4)"/><ellipse cx="485.5" cy="216.4" rx="2.8" ry="5.5" transform="rotate(71 485.5 216.4)"/><ellipse cx="486.9" cy="220.4" rx="2.8" ry="5.5" transform="rotate(70 486.9 220.4)"/><ellipse cx="488.3" cy="224.3" rx="2.8" ry="5.5" transform="rotate(70 488.3 224.3)"/><ellipse cx="489.7" cy="228.3" rx="2.8" ry="5.5" transform="rotate(70 489.7 228.3)"/><ellipse cx="491.2" cy="232.2" rx="2.8" ry="5.5" transform="rotate(70 491.2 232.2)"/><ellipse cx="492.6" cy="236.1" rx="2.8" ry="5.5" transform="rotate(70 492.6 236.1)"/><ellipse cx="494.0" cy="240.0" rx="2.8" ry="5.5" transform="rotate(70 494.0 240.0)"/><ellipse cx="495.4" cy="243.9" rx="2.8" ry="5.5" transform="rotate(70 495.4 243.9)"/><ellipse cx="496.9" cy="247.9" rx="2.8" ry="5.5" transform="rotate(70 496.9 247.9)"/><ellipse cx="498.3" cy="251.9" rx="2.8" ry="5.5" transform="rotate(70 498.3 251.9)"/><ellipse cx="499.8" cy="255.8" rx="2.8" ry="5.5" transform="rotate(70 499.8 255.8)"/><ellipse cx="501.2" cy="259.8" rx="2.8" ry="5.5" transform="rotate(70 501.2 259.8)"/><ellipse cx="502.7" cy="263.6" rx="2.8" ry="5.5" transform="rotate(70 502.7 263.6)"/><ellipse cx="504.1" cy="267.4" rx="2.8" ry="5.5" transform="rotate(70 504.1 267.4)"/><ellipse cx="505.5" cy="271.1" rx="2.8" ry="5.5" transform="rotate(70 505.5 271.1)"/><ellipse cx="506.8" cy="274.6" rx="2.8" ry="5.5" transform="rotate(70 506.8 274.6)"/><ellipse cx="508.0" cy="278.0" rx="2.8" ry="5.5" transform="rotate(70 508.0 278.0)"/><ellipse cx="509.2" cy="281.3" rx="2.8" ry="5.5" transform="rotate(70 509.2 281.3)"/><ellipse cx="510.4" cy="284.7" rx="2.8" ry="5.5" transform="rotate(70 510.4 284.7)"/><ellipse cx="511.6" cy="288.0" rx="2.8" ry="5.5" transform="rotate(70 511.6 288.0)"/><ellipse cx="512.8" cy="291.3" rx="2.8" ry="5.5" transform="rotate(70 512.8 291.3)"/><ellipse cx="513.9" cy="294.4" rx="2.8" ry="5.5" transform="rotate(70 513.9 294.4)"/><ellipse cx="514.9" cy="297.3" rx="2.8" ry="5.5" transform="rotate(70 514.9 297.3)"/><ellipse cx="515.9" cy="300.0" rx="2.8" ry="5.5" transform="rotate(70 515.9 300.0)"/><ellipse cx="516.7" cy="302.4" rx="2.8" ry="5.5" transform="rotate(70 516.7 302.4)"/><ellipse cx="517.7" cy="305.2" rx="2.8" ry="5.5" transform="rotate(70 517.7 305.2)"/></g>
<g fill="url(#cg)" stroke="#6c6c6c" stroke-width="0.5" opacity="1"><ellipse cx="484.0" cy="156.0" rx="2.8" ry="5.5" transform="rotate(70 484.0 156.0)"/><ellipse cx="484.8" cy="158.3" rx="2.8" ry="5.5" transform="rotate(71 484.8 158.3)"/><ellipse cx="485.9" cy="161.3" rx="2.8" ry="5.5" transform="rotate(71 485.9 161.3)"/><ellipse cx="487.1" cy="164.9" rx="2.8" ry="5.5" transform="rotate(71 487.1 164.9)"/><ellipse cx="488.5" cy="168.9" rx="2.8" ry="5.5" transform="rotate(71 488.5 168.9)"/><ellipse cx="489.3" cy="171.0" rx="2.8" ry="5.5" transform="rotate(71 489.3 171.0)"/><ellipse cx="490.1" cy="173.2" rx="2.8" ry="5.5" transform="rotate(70 490.1 173.2)"/><ellipse cx="490.9" cy="175.4" rx="2.8" ry="5.5" transform="rotate(70 490.9 175.4)"/><ellipse cx="491.7" cy="177.7" rx="2.8" ry="5.5" transform="rotate(70 491.7 177.7)"/><ellipse cx="492.5" cy="179.9" rx="2.8" ry="5.5" transform="rotate(70 492.5 179.9)"/><ellipse cx="493.3" cy="182.2" rx="2.8" ry="5.5" transform="rotate(70 493.3 182.2)"/><ellipse cx="494.1" cy="184.5" rx="2.8" ry="5.5" transform="rotate(70 494.1 184.5)"/><ellipse cx="494.9" cy="186.7" rx="2.8" ry="5.5" transform="rotate(70 494.9 186.7)"/><ellipse cx="495.7" cy="188.9" rx="2.8" ry="5.5" transform="rotate(70 495.7 188.9)"/><ellipse cx="496.5" cy="191.0" rx="2.8" ry="5.5" transform="rotate(70 496.5 191.0)"/><ellipse cx="498.0" cy="195.0" rx="2.8" ry="5.5" transform="rotate(69 498.0 195.0)"/><ellipse cx="499.5" cy="198.8" rx="2.8" ry="5.5" transform="rotate(69 499.5 198.8)"/><ellipse cx="501.0" cy="202.5" rx="2.8" ry="5.5" transform="rotate(68 501.0 202.5)"/><ellipse cx="502.5" cy="206.3" rx="2.8" ry="5.5" transform="rotate(68 502.5 206.3)"/><ellipse cx="504.0" cy="210.0" rx="2.8" ry="5.5" transform="rotate(68 504.0 210.0)"/><ellipse cx="505.5" cy="213.7" rx="2.8" ry="5.5" transform="rotate(68 505.5 213.7)"/><ellipse cx="507.0" cy="217.4" rx="2.8" ry="5.5" transform="rotate(68 507.0 217.4)"/><ellipse cx="508.5" cy="221.0" rx="2.8" ry="5.5" transform="rotate(68 508.5 221.0)"/><ellipse cx="510.0" cy="224.7" rx="2.8" ry="5.5" transform="rotate(68 510.0 224.7)"/><ellipse cx="511.5" cy="228.3" rx="2.8" ry="5.5" transform="rotate(68 511.5 228.3)"/><ellipse cx="513.0" cy="232.0" rx="2.8" ry="5.5" transform="rotate(68 513.0 232.0)"/><ellipse cx="514.5" cy="235.7" rx="2.8" ry="5.5" transform="rotate(68 514.5 235.7)"/><ellipse cx="516.0" cy="239.5" rx="2.8" ry="5.5" transform="rotate(68 516.0 239.5)"/><ellipse cx="517.5" cy="243.3" rx="2.8" ry="5.5" transform="rotate(68 517.5 243.3)"/><ellipse cx="519.0" cy="247.1" rx="2.8" ry="5.5" transform="rotate(68 519.0 247.1)"/><ellipse cx="520.5" cy="250.9" rx="2.8" ry="5.5" transform="rotate(69 520.5 250.9)"/><ellipse cx="522.0" cy="254.7" rx="2.8" ry="5.5" transform="rotate(69 522.0 254.7)"/><ellipse cx="523.3" cy="258.3" rx="2.8" ry="5.5" transform="rotate(69 523.3 258.3)"/><ellipse cx="524.7" cy="261.7" rx="2.8" ry="5.5" transform="rotate(69 524.7 261.7)"/><ellipse cx="525.9" cy="265.0" rx="2.8" ry="5.5" transform="rotate(70 525.9 265.0)"/><ellipse cx="527.0" cy="268.0" rx="2.8" ry="5.5" transform="rotate(70 527.0 268.0)"/><ellipse cx="528.0" cy="270.9" rx="2.8" ry="5.5" transform="rotate(71 528.0 270.9)"/><ellipse cx="529.0" cy="273.6" rx="2.8" ry="5.5" transform="rotate(72 529.0 273.6)"/><ellipse cx="529.8" cy="276.3" rx="2.8" ry="5.5" transform="rotate(72 529.8 276.3)"/><ellipse cx="530.6" cy="278.9" rx="2.8" ry="5.5" transform="rotate(73 530.6 278.9)"/><ellipse cx="531.4" cy="281.2" rx="2.8" ry="5.5" transform="rotate(73 531.4 281.2)"/><ellipse cx="532.0" cy="283.5" rx="2.8" ry="5.5" transform="rotate(73 532.0 283.5)"/><ellipse cx="532.9" cy="286.4" rx="2.8" ry="5.5" transform="rotate(74 532.9 286.4)"/><ellipse cx="533.6" cy="288.8" rx="2.8" ry="5.5" transform="rotate(73 533.6 288.8)"/></g>
<g fill="url(#cg)" stroke="#6c6c6c" stroke-width="0.5" opacity="1"><ellipse cx="502.0" cy="150.0" rx="2.8" ry="5.5" transform="rotate(68 502.0 150.0)"/><ellipse cx="502.9" cy="152.3" rx="2.8" ry="5.5" transform="rotate(68 502.9 152.3)"/><ellipse cx="504.0" cy="155.2" rx="2.8" ry="5.5" transform="rotate(68 504.0 155.2)"/><ellipse cx="505.4" cy="158.6" rx="2.8" ry="5.5" transform="rotate(68 505.4 158.6)"/><ellipse cx="506.9" cy="162.5" rx="2.8" ry="5.5" transform="rotate(68 506.9 162.5)"/><ellipse cx="507.7" cy="164.5" rx="2.8" ry="5.5" transform="rotate(68 507.7 164.5)"/><ellipse cx="508.6" cy="166.6" rx="2.8" ry="5.5" transform="rotate(68 508.6 166.6)"/><ellipse cx="509.4" cy="168.8" rx="2.8" ry="5.5" transform="rotate(68 509.4 168.8)"/><ellipse cx="510.3" cy="171.0" rx="2.8" ry="5.5" transform="rotate(68 510.3 171.0)"/><ellipse cx="511.2" cy="173.2" rx="2.8" ry="5.5" transform="rotate(68 511.2 173.2)"/><ellipse cx="512.0" cy="175.4" rx="2.8" ry="5.5" transform="rotate(68 512.0 175.4)"/><ellipse cx="512.9" cy="177.6" rx="2.8" ry="5.5" transform="rotate(68 512.9 177.6)"/><ellipse cx="513.8" cy="179.8" rx="2.8" ry="5.5" transform="rotate(68 513.8 179.8)"/><ellipse cx="514.6" cy="181.9" rx="2.8" ry="5.5" transform="rotate(68 514.6 181.9)"/><ellipse cx="515.4" cy="184.0" rx="2.8" ry="5.5" transform="rotate(68 515.4 184.0)"/><ellipse cx="517.0" cy="188.0" rx="2.8" ry="5.5" transform="rotate(68 517.0 188.0)"/><ellipse cx="518.5" cy="191.8" rx="2.8" ry="5.5" transform="rotate(68 518.5 191.8)"/><ellipse cx="520.0" cy="195.6" rx="2.8" ry="5.5" transform="rotate(68 520.0 195.6)"/><ellipse cx="521.5" cy="199.5" rx="2.8" ry="5.5" transform="rotate(68 521.5 199.5)"/><ellipse cx="523.0" cy="203.3" rx="2.8" ry="5.5" transform="rotate(68 523.0 203.3)"/><ellipse cx="524.6" cy="207.1" rx="2.8" ry="5.5" transform="rotate(68 524.6 207.1)"/><ellipse cx="526.1" cy="210.9" rx="2.8" ry="5.5" transform="rotate(68 526.1 210.9)"/><ellipse cx="527.6" cy="214.7" rx="2.8" ry="5.5" transform="rotate(68 527.6 214.7)"/><ellipse cx="529.1" cy="218.5" rx="2.8" ry="5.5" transform="rotate(69 529.1 218.5)"/><ellipse cx="530.5" cy="222.3" rx="2.8" ry="5.5" transform="rotate(69 530.5 222.3)"/><ellipse cx="532.0" cy="226.0" rx="2.8" ry="5.5" transform="rotate(69 532.0 226.0)"/><ellipse cx="533.5" cy="229.8" rx="2.8" ry="5.5" transform="rotate(69 533.5 229.8)"/><ellipse cx="535.1" cy="233.9" rx="2.8" ry="5.5" transform="rotate(69 535.1 233.9)"/><ellipse cx="535.9" cy="236.0" rx="2.8" ry="5.5" transform="rotate(69 535.9 236.0)"/><ellipse cx="536.7" cy="238.1" rx="2.8" ry="5.5" transform="rotate(69 536.7 238.1)"/><ellipse cx="537.5" cy="240.2" rx="2.8" ry="5.5" transform="rotate(69 537.5 240.2)"/><ellipse cx="538.3" cy="242.3" rx="2.8" ry="5.5" transform="rotate(69 538.3 242.3)"/><ellipse cx="539.1" cy="244.3" rx="2.8" ry="5.5" transform="rotate(69 539.1 244.3)"/><ellipse cx="540.7" cy="248.4" rx="2.8" ry="5.5" transform="rotate(69 540.7 248.4)"/><ellipse cx="542.2" cy="252.1" rx="2.8" ry="5.5" transform="rotate(69 542.2 252.1)"/><ellipse cx="543.5" cy="255.6" rx="2.8" ry="5.5" transform="rotate(69 543.5 255.6)"/><ellipse cx="544.7" cy="258.6" rx="2.8" ry="5.5" transform="rotate(69 544.7 258.6)"/><ellipse cx="545.6" cy="261.0" rx="2.8" ry="5.5" transform="rotate(69 545.6 261.0)"/></g>
<g fill="url(#cg)" stroke="#6c6c6c" stroke-width="0.5" opacity="1"><ellipse cx="520.0" cy="160.0" rx="2.8" ry="5.5" transform="rotate(67 520.0 160.0)"/><ellipse cx="521.0" cy="162.3" rx="2.8" ry="5.5" transform="rotate(67 521.0 162.3)"/><ellipse cx="522.2" cy="165.2" rx="2.8" ry="5.5" transform="rotate(66 522.2 165.2)"/><ellipse cx="523.8" cy="168.6" rx="2.8" ry="5.5" transform="rotate(66 523.8 168.6)"/><ellipse cx="525.4" cy="172.5" rx="2.8" ry="5.5" transform="rotate(66 525.4 172.5)"/><ellipse cx="526.3" cy="174.6" rx="2.8" ry="5.5" transform="rotate(67 526.3 174.6)"/><ellipse cx="527.2" cy="176.7" rx="2.8" ry="5.5" transform="rotate(67 527.2 176.7)"/><ellipse cx="528.2" cy="178.9" rx="2.8" ry="5.5" transform="rotate(67 528.2 178.9)"/><ellipse cx="529.1" cy="181.0" rx="2.8" ry="5.5" transform="rotate(67 529.1 181.0)"/><ellipse cx="530.1" cy="183.3" rx="2.8" ry="5.5" transform="rotate(67 530.1 183.3)"/><ellipse cx="531.0" cy="185.5" rx="2.8" ry="5.5" transform="rotate(67 531.0 185.5)"/><ellipse cx="531.9" cy="187.7" rx="2.8" ry="5.5" transform="rotate(68 531.9 187.7)"/><ellipse cx="532.8" cy="189.9" rx="2.8" ry="5.5" transform="rotate(68 532.8 189.9)"/><ellipse cx="533.7" cy="192.0" rx="2.8" ry="5.5" transform="rotate(68 533.7 192.0)"/><ellipse cx="534.5" cy="194.1" rx="2.8" ry="5.5" transform="rotate(69 534.5 194.1)"/><ellipse cx="536.0" cy="198.0" rx="2.8" ry="5.5" transform="rotate(69 536.0 198.0)"/><ellipse cx="537.4" cy="201.8" rx="2.8" ry="5.5" transform="rotate(70 537.4 201.8)"/><ellipse cx="538.7" cy="205.6" rx="2.8" ry="5.5" transform="rotate(71 538.7 205.6)"/><ellipse cx="540.1" cy="209.4" rx="2.8" ry="5.5" transform="rotate(71 540.1 209.4)"/><ellipse cx="541.3" cy="213.2" rx="2.8" ry="5.5" transform="rotate(72 541.3 213.2)"/><ellipse cx="542.6" cy="216.9" rx="2.8" ry="5.5" transform="rotate(72 542.6 216.9)"/><ellipse cx="543.8" cy="220.7" rx="2.8" ry="5.5" transform="rotate(73 543.8 220.7)"/><ellipse cx="544.9" cy="224.4" rx="2.8" ry="5.5" transform="rotate(73 544.9 224.4)"/><ellipse cx="546.0" cy="228.0" rx="2.8" ry="5.5" transform="rotate(73 546.0 228.0)"/><ellipse cx="547.0" cy="231.5" rx="2.8" ry="5.5" transform="rotate(74 547.0 231.5)"/><ellipse cx="548.0" cy="235.0" rx="2.8" ry="5.5" transform="rotate(74 548.0 235.0)"/><ellipse cx="548.9" cy="238.5" rx="2.8" ry="5.5" transform="rotate(76 548.9 238.5)"/><ellipse cx="549.8" cy="242.1" rx="2.8" ry="5.5" transform="rotate(76 549.8 242.1)"/><ellipse cx="550.7" cy="245.7" rx="2.8" ry="5.5" transform="rotate(77 550.7 245.7)"/><ellipse cx="551.5" cy="249.3" rx="2.8" ry="5.5" transform="rotate(78 551.5 249.3)"/><ellipse cx="552.2" cy="252.8" rx="2.8" ry="5.5" transform="rotate(78 552.2 252.8)"/><ellipse cx="552.9" cy="256.1" rx="2.8" ry="5.5" transform="rotate(78 552.9 256.1)"/><ellipse cx="553.6" cy="259.2" rx="2.8" ry="5.5" transform="rotate(78 553.6 259.2)"/><ellipse cx="554.1" cy="261.9" rx="2.8" ry="5.5" transform="rotate(78 554.1 261.9)"/><ellipse cx="554.6" cy="264.2" rx="2.8" ry="5.5" transform="rotate(78 554.6 264.2)"/></g>
<g fill="url(#cg)" stroke="#6c6c6c" stroke-width="0.5" opacity="1"><ellipse cx="462.0" cy="262.0" rx="2.8" ry="5.5" transform="rotate(34 462.0 262.0)"/><ellipse cx="464.6" cy="263.8" rx="2.8" ry="5.5" transform="rotate(34 464.6 263.8)"/><ellipse cx="466.9" cy="265.4" rx="2.8" ry="5.5" transform="rotate(34 466.9 265.4)"/><ellipse cx="469.6" cy="267.2" rx="2.8" ry="5.5" transform="rotate(34 469.6 267.2)"/><ellipse cx="472.5" cy="269.1" rx="2.8" ry="5.5" transform="rotate(34 472.5 269.1)"/><ellipse cx="475.6" cy="271.3" rx="2.8" ry="5.5" transform="rotate(34 475.6 271.3)"/><ellipse cx="478.8" cy="273.4" rx="2.8" ry="5.5" transform="rotate(34 478.8 273.4)"/><ellipse cx="482.1" cy="275.7" rx="2.8" ry="5.5" transform="rotate(34 482.1 275.7)"/><ellipse cx="485.3" cy="277.9" rx="2.8" ry="5.5" transform="rotate(34 485.3 277.9)"/><ellipse cx="488.5" cy="280.0" rx="2.8" ry="5.5" transform="rotate(34 488.5 280.0)"/><ellipse cx="491.5" cy="282.0" rx="2.8" ry="5.5" transform="rotate(34 491.5 282.0)"/><ellipse cx="494.9" cy="284.2" rx="2.8" ry="5.5" transform="rotate(33 494.9 284.2)"/><ellipse cx="498.5" cy="286.6" rx="2.8" ry="5.5" transform="rotate(33 498.5 286.6)"/><ellipse cx="500.3" cy="287.8" rx="2.8" ry="5.5" transform="rotate(33 500.3 287.8)"/><ellipse cx="502.2" cy="289.0" rx="2.8" ry="5.5" transform="rotate(33 502.2 289.0)"/><ellipse cx="504.0" cy="290.3" rx="2.8" ry="5.5" transform="rotate(33 504.0 290.3)"/><ellipse cx="505.9" cy="291.5" rx="2.8" ry="5.5" transform="rotate(33 505.9 291.5)"/><ellipse cx="509.6" cy="293.9" rx="2.8" ry="5.5" transform="rotate(33 509.6 293.9)"/><ellipse cx="513.0" cy="296.1" rx="2.8" ry="5.5" transform="rotate(33 513.0 296.1)"/><ellipse cx="516.2" cy="298.2" rx="2.8" ry="5.5" transform="rotate(33 516.2 298.2)"/><ellipse cx="518.9" cy="300.0" rx="2.8" ry="5.5" transform="rotate(33 518.9 300.0)"/><ellipse cx="521.1" cy="301.4" rx="2.8" ry="5.5" transform="rotate(33 521.1 301.4)"/></g>
<g fill="url(#cg)" stroke="#6c6c6c" stroke-width="0.5" opacity="1"><ellipse cx="470.0" cy="282.0" rx="2.8" ry="5.5" transform="rotate(30 470.0 282.0)"/><ellipse cx="472.7" cy="283.6" rx="2.8" ry="5.5" transform="rotate(30 472.7 283.6)"/><ellipse cx="475.1" cy="284.9" rx="2.8" ry="5.5" transform="rotate(30 475.1 284.9)"/><ellipse cx="477.8" cy="286.5" rx="2.8" ry="5.5" transform="rotate(30 477.8 286.5)"/><ellipse cx="480.8" cy="288.2" rx="2.8" ry="5.5" transform="rotate(30 480.8 288.2)"/><ellipse cx="484.0" cy="290.0" rx="2.8" ry="5.5" transform="rotate(30 484.0 290.0)"/><ellipse cx="487.2" cy="291.9" rx="2.8" ry="5.5" transform="rotate(30 487.2 291.9)"/><ellipse cx="490.5" cy="293.8" rx="2.8" ry="5.5" transform="rotate(30 490.5 293.8)"/><ellipse cx="493.6" cy="295.6" rx="2.8" ry="5.5" transform="rotate(29 493.6 295.6)"/><ellipse cx="496.6" cy="297.2" rx="2.8" ry="5.5" transform="rotate(29 496.6 297.2)"/><ellipse cx="499.4" cy="298.8" rx="2.8" ry="5.5" transform="rotate(29 499.4 298.8)"/><ellipse cx="502.3" cy="300.3" rx="2.8" ry="5.5" transform="rotate(29 502.3 300.3)"/><ellipse cx="505.2" cy="302.0" rx="2.8" ry="5.5" transform="rotate(28 505.2 302.0)"/><ellipse cx="508.3" cy="303.6" rx="2.8" ry="5.5" transform="rotate(28 508.3 303.6)"/><ellipse cx="511.3" cy="305.2" rx="2.8" ry="5.5" transform="rotate(28 511.3 305.2)"/><ellipse cx="514.2" cy="306.8" rx="2.8" ry="5.5" transform="rotate(28 514.2 306.8)"/><ellipse cx="516.9" cy="308.2" rx="2.8" ry="5.5" transform="rotate(28 516.9 308.2)"/><ellipse cx="519.4" cy="309.5" rx="2.8" ry="5.5" transform="rotate(28 519.4 309.5)"/><ellipse cx="521.5" cy="310.7" rx="2.8" ry="5.5" transform="rotate(28 521.5 310.7)"/><ellipse cx="524.0" cy="312.0" rx="2.8" ry="5.5" transform="rotate(28 524.0 312.0)"/></g>
<g fill="url(#cg)" stroke="#6c6c6c" stroke-width="0.5" opacity="1"><ellipse cx="534.0" cy="270.0" rx="2.8" ry="5.5" transform="rotate(31 534.0 270.0)"/><ellipse cx="535.9" cy="271.2" rx="2.8" ry="5.5" transform="rotate(31 535.9 271.2)"/><ellipse cx="538.6" cy="272.8" rx="2.8" ry="5.5" transform="rotate(31 538.6 272.8)"/><ellipse cx="540.8" cy="274.1" rx="2.8" ry="5.5" transform="rotate(31 540.8 274.1)"/><ellipse cx="543.0" cy="275.5" rx="2.8" ry="5.5" transform="rotate(31 543.0 275.5)"/><ellipse cx="545.2" cy="276.9" rx="2.8" ry="5.5" transform="rotate(31 545.2 276.9)"/><ellipse cx="547.4" cy="278.2" rx="2.8" ry="5.5" transform="rotate(31 547.4 278.2)"/><ellipse cx="549.3" cy="279.3" rx="2.8" ry="5.5" transform="rotate(31 549.3 279.3)"/><ellipse cx="551.5" cy="280.7" rx="2.8" ry="5.5" transform="rotate(31 551.5 280.7)"/></g>
<g fill="url(#cg)" stroke="#6c6c6c" stroke-width="0.5" opacity="1"><ellipse cx="436.0" cy="138.0" rx="2.8" ry="5.5" transform="rotate(7 436.0 138.0)"/><ellipse cx="439.1" cy="138.3" rx="2.8" ry="5.5" transform="rotate(6 439.1 138.3)"/><ellipse cx="441.8" cy="138.6" rx="2.8" ry="5.5" transform="rotate(5 441.8 138.6)"/><ellipse cx="444.8" cy="138.9" rx="2.8" ry="5.5" transform="rotate(5 444.8 138.9)"/><ellipse cx="448.2" cy="139.2" rx="2.8" ry="5.5" transform="rotate(6 448.2 139.2)"/><ellipse cx="451.8" cy="139.6" rx="2.8" ry="5.5" transform="rotate(6 451.8 139.6)"/><ellipse cx="455.5" cy="140.0" rx="2.8" ry="5.5" transform="rotate(7 455.5 140.0)"/><ellipse cx="459.2" cy="140.5" rx="2.8" ry="5.5" transform="rotate(8 459.2 140.5)"/><ellipse cx="462.9" cy="141.0" rx="2.8" ry="5.5" transform="rotate(9 462.9 141.0)"/><ellipse cx="466.4" cy="141.7" rx="2.8" ry="5.5" transform="rotate(11 466.4 141.7)"/><ellipse cx="469.6" cy="142.4" rx="2.8" ry="5.5" transform="rotate(13 469.6 142.4)"/><ellipse cx="472.8" cy="143.2" rx="2.8" ry="5.5" transform="rotate(15 472.8 143.2)"/><ellipse cx="476.0" cy="144.1" rx="2.8" ry="5.5" transform="rotate(17 476.0 144.1)"/><ellipse cx="479.2" cy="145.1" rx="2.8" ry="5.5" transform="rotate(18 479.2 145.1)"/><ellipse cx="482.4" cy="146.2" rx="2.8" ry="5.5" transform="rotate(19 482.4 146.2)"/><ellipse cx="485.6" cy="147.3" rx="2.8" ry="5.5" transform="rotate(19 485.6 147.3)"/><ellipse cx="488.8" cy="148.4" rx="2.8" ry="5.5" transform="rotate(19 488.8 148.4)"/><ellipse cx="492.0" cy="149.5" rx="2.8" ry="5.5" transform="rotate(19 492.0 149.5)"/><ellipse cx="495.2" cy="150.6" rx="2.8" ry="5.5" transform="rotate(18 495.2 150.6)"/><ellipse cx="498.4" cy="151.5" rx="2.8" ry="5.5" transform="rotate(16 498.4 151.5)"/><ellipse cx="501.6" cy="152.5" rx="2.8" ry="5.5" transform="rotate(16 501.6 152.5)"/><ellipse cx="504.9" cy="153.5" rx="2.8" ry="5.5" transform="rotate(17 504.9 153.5)"/><ellipse cx="508.3" cy="154.5" rx="2.8" ry="5.5" transform="rotate(17 508.3 154.5)"/><ellipse cx="511.7" cy="155.6" rx="2.8" ry="5.5" transform="rotate(17 511.7 155.6)"/><ellipse cx="515.1" cy="156.6" rx="2.8" ry="5.5" transform="rotate(17 515.1 156.6)"/><ellipse cx="518.4" cy="157.6" rx="2.8" ry="5.5" transform="rotate(16 518.4 157.6)"/><ellipse cx="521.7" cy="158.5" rx="2.8" ry="5.5" transform="rotate(14 521.7 158.5)"/><ellipse cx="524.8" cy="159.2" rx="2.8" ry="5.5" transform="rotate(11 524.8 159.2)"/><ellipse cx="527.9" cy="159.7" rx="2.8" ry="5.5" transform="rotate(8 527.9 159.7)"/><ellipse cx="530.7" cy="160.0" rx="2.8" ry="5.5" transform="rotate(3 530.7 160.0)"/><ellipse cx="533.3" cy="160.0" rx="2.8" ry="5.5" transform="rotate(-4 533.3 160.0)"/><ellipse cx="535.8" cy="159.6" rx="2.8" ry="5.5" transform="rotate(-12 535.8 159.6)"/><ellipse cx="538.3" cy="158.9" rx="2.8" ry="5.5" transform="rotate(-18 538.3 158.9)"/><ellipse cx="540.7" cy="158.1" rx="2.8" ry="5.5" transform="rotate(-22 540.7 158.1)"/><ellipse cx="542.9" cy="157.0" rx="2.8" ry="5.5" transform="rotate(-26 542.9 157.0)"/><ellipse cx="545.0" cy="155.9" rx="2.8" ry="5.5" transform="rotate(-29 545.0 155.9)"/><ellipse cx="547.0" cy="154.8" rx="2.8" ry="5.5" transform="rotate(-30 547.0 154.8)"/><ellipse cx="549.5" cy="153.3" rx="2.8" ry="5.5" transform="rotate(-31 549.5 153.3)"/><ellipse cx="551.5" cy="152.2" rx="2.8" ry="5.5" transform="rotate(-26 551.5 152.2)"/></g>
<g fill="url(#cg)" stroke="#6c6c6c" stroke-width="0.5" opacity="1"><ellipse cx="428.0" cy="122.0" rx="2.8" ry="5.5" transform="rotate(7 428.0 122.0)"/><ellipse cx="431.0" cy="122.3" rx="2.8" ry="5.5" transform="rotate(6 431.0 122.3)"/><ellipse cx="433.7" cy="122.6" rx="2.8" ry="5.5" transform="rotate(6 433.7 122.6)"/><ellipse cx="436.7" cy="122.9" rx="2.8" ry="5.5" transform="rotate(6 436.7 122.9)"/><ellipse cx="440.1" cy="123.2" rx="2.8" ry="5.5" transform="rotate(6 440.1 123.2)"/><ellipse cx="443.6" cy="123.6" rx="2.8" ry="5.5" transform="rotate(6 443.6 123.6)"/><ellipse cx="447.3" cy="124.1" rx="2.8" ry="5.5" transform="rotate(7 447.3 124.1)"/><ellipse cx="451.0" cy="124.6" rx="2.8" ry="5.5" transform="rotate(8 451.0 124.6)"/><ellipse cx="454.7" cy="125.1" rx="2.8" ry="5.5" transform="rotate(9 454.7 125.1)"/><ellipse cx="458.3" cy="125.7" rx="2.8" ry="5.5" transform="rotate(10 458.3 125.7)"/><ellipse cx="461.7" cy="126.3" rx="2.8" ry="5.5" transform="rotate(12 461.7 126.3)"/><ellipse cx="465.1" cy="127.1" rx="2.8" ry="5.5" transform="rotate(13 465.1 127.1)"/><ellipse cx="468.5" cy="127.9" rx="2.8" ry="5.5" transform="rotate(14 468.5 127.9)"/><ellipse cx="472.0" cy="128.9" rx="2.8" ry="5.5" transform="rotate(15 472.0 128.9)"/><ellipse cx="475.5" cy="129.8" rx="2.8" ry="5.5" transform="rotate(15 475.5 129.8)"/><ellipse cx="479.1" cy="130.8" rx="2.8" ry="5.5" transform="rotate(16 479.1 130.8)"/><ellipse cx="482.6" cy="131.8" rx="2.8" ry="5.5" transform="rotate(16 482.6 131.8)"/><ellipse cx="486.2" cy="132.8" rx="2.8" ry="5.5" transform="rotate(15 486.2 132.8)"/><ellipse cx="489.7" cy="133.7" rx="2.8" ry="5.5" transform="rotate(14 489.7 133.7)"/><ellipse cx="493.2" cy="134.6" rx="2.8" ry="5.5" transform="rotate(13 493.2 134.6)"/><ellipse cx="496.8" cy="135.4" rx="2.8" ry="5.5" transform="rotate(14 496.8 135.4)"/><ellipse cx="500.3" cy="136.3" rx="2.8" ry="5.5" transform="rotate(15 500.3 136.3)"/><ellipse cx="503.9" cy="137.3" rx="2.8" ry="5.5" transform="rotate(15 503.9 137.3)"/><ellipse cx="507.5" cy="138.3" rx="2.8" ry="5.5" transform="rotate(15 507.5 138.3)"/><ellipse cx="511.1" cy="139.2" rx="2.8" ry="5.5" transform="rotate(14 511.1 139.2)"/><ellipse cx="514.7" cy="140.1" rx="2.8" ry="5.5" transform="rotate(13 514.7 140.1)"/><ellipse cx="518.3" cy="140.9" rx="2.8" ry="5.5" transform="rotate(11 518.3 140.9)"/><ellipse cx="521.7" cy="141.5" rx="2.8" ry="5.5" transform="rotate(8 521.7 141.5)"/><ellipse cx="525.1" cy="141.9" rx="2.8" ry="5.5" transform="rotate(5 525.1 141.9)"/><ellipse cx="528.4" cy="142.0" rx="2.8" ry="5.5" transform="rotate(0 528.4 142.0)"/><ellipse cx="531.6" cy="141.9" rx="2.8" ry="5.5" transform="rotate(-6 531.6 141.9)"/><ellipse cx="534.8" cy="141.3" rx="2.8" ry="5.5" transform="rotate(-12 534.8 141.3)"/><ellipse cx="538.1" cy="140.5" rx="2.8" ry="5.5" transform="rotate(-17 538.1 140.5)"/><ellipse cx="541.4" cy="139.4" rx="2.8" ry="5.5" transform="rotate(-20 541.4 139.4)"/><ellipse cx="544.6" cy="138.1" rx="2.8" ry="5.5" transform="rotate(-23 544.6 138.1)"/><ellipse cx="547.7" cy="136.8" rx="2.8" ry="5.5" transform="rotate(-24 547.7 136.8)"/><ellipse cx="550.5" cy="135.4" rx="2.8" ry="5.5" transform="rotate(-25 550.5 135.4)"/><ellipse cx="553.1" cy="134.2" rx="2.8" ry="5.5" transform="rotate(-26 553.1 134.2)"/><ellipse cx="555.4" cy="133.1" rx="2.8" ry="5.5" transform="rotate(-25 555.4 133.1)"/><ellipse cx="558.0" cy="132.0" rx="2.8" ry="5.5" transform="rotate(-21 558.0 132.0)"/></g>
<g fill="url(#cg)" stroke="#6c6c6c" stroke-width="0.5" opacity="1"><ellipse cx="466.0" cy="106.0" rx="2.8" ry="5.5" transform="rotate(11 466.0 106.0)"/><ellipse cx="469.1" cy="106.6" rx="2.8" ry="5.5" transform="rotate(11 469.1 106.6)"/><ellipse cx="471.8" cy="107.1" rx="2.8" ry="5.5" transform="rotate(11 471.8 107.1)"/><ellipse cx="474.8" cy="107.7" rx="2.8" ry="5.5" transform="rotate(11 474.8 107.7)"/><ellipse cx="478.2" cy="108.4" rx="2.8" ry="5.5" transform="rotate(11 478.2 108.4)"/><ellipse cx="481.8" cy="109.1" rx="2.8" ry="5.5" transform="rotate(11 481.8 109.1)"/><ellipse cx="485.5" cy="109.8" rx="2.8" ry="5.5" transform="rotate(11 485.5 109.8)"/><ellipse cx="489.2" cy="110.5" rx="2.8" ry="5.5" transform="rotate(10 489.2 110.5)"/><ellipse cx="492.9" cy="111.2" rx="2.8" ry="5.5" transform="rotate(10 492.9 111.2)"/><ellipse cx="496.4" cy="111.7" rx="2.8" ry="5.5" transform="rotate(9 496.4 111.7)"/><ellipse cx="499.6" cy="112.3" rx="2.8" ry="5.5" transform="rotate(9 499.6 112.3)"/><ellipse cx="502.8" cy="112.8" rx="2.8" ry="5.5" transform="rotate(10 502.8 112.8)"/><ellipse cx="506.0" cy="113.3" rx="2.8" ry="5.5" transform="rotate(10 506.0 113.3)"/><ellipse cx="509.2" cy="113.9" rx="2.8" ry="5.5" transform="rotate(9 509.2 113.9)"/><ellipse cx="512.4" cy="114.4" rx="2.8" ry="5.5" transform="rotate(9 512.4 114.4)"/><ellipse cx="515.6" cy="114.9" rx="2.8" ry="5.5" transform="rotate(8 515.6 114.9)"/><ellipse cx="518.8" cy="115.3" rx="2.8" ry="5.5" transform="rotate(7 518.8 115.3)"/><ellipse cx="522.0" cy="115.6" rx="2.8" ry="5.5" transform="rotate(5 522.0 115.6)"/><ellipse cx="525.2" cy="115.9" rx="2.8" ry="5.5" transform="rotate(3 525.2 115.9)"/><ellipse cx="528.4" cy="116.0" rx="2.8" ry="5.5" transform="rotate(1 528.4 116.0)"/><ellipse cx="531.6" cy="116.0" rx="2.8" ry="5.5" transform="rotate(-2 531.6 116.0)"/><ellipse cx="535.1" cy="115.8" rx="2.8" ry="5.5" transform="rotate(-4 535.1 115.8)"/><ellipse cx="538.8" cy="115.5" rx="2.8" ry="5.5" transform="rotate(-6 538.8 115.5)"/><ellipse cx="542.5" cy="115.0" rx="2.8" ry="5.5" transform="rotate(-7 542.5 115.0)"/><ellipse cx="546.2" cy="114.5" rx="2.8" ry="5.5" transform="rotate(-8 546.2 114.5)"/><ellipse cx="549.8" cy="114.0" rx="2.8" ry="5.5" transform="rotate(-9 549.8 114.0)"/><ellipse cx="553.2" cy="113.4" rx="2.8" ry="5.5" transform="rotate(-9 553.2 113.4)"/><ellipse cx="556.2" cy="112.9" rx="2.8" ry="5.5" transform="rotate(-10 556.2 112.9)"/><ellipse cx="558.9" cy="112.5" rx="2.8" ry="5.5" transform="rotate(-9 558.9 112.5)"/><ellipse cx="561.1" cy="112.1" rx="2.8" ry="5.5" transform="rotate(-8 561.1 112.1)"/></g>
<g fill="url(#cg)" stroke="#6c6c6c" stroke-width="0.5" opacity="1"><ellipse cx="492.0" cy="94.0" rx="2.8" ry="5.5" transform="rotate(4 492.0 94.0)"/><ellipse cx="494.7" cy="94.2" rx="2.8" ry="5.5" transform="rotate(3 494.7 94.2)"/><ellipse cx="497.1" cy="94.3" rx="2.8" ry="5.5" transform="rotate(3 497.1 94.3)"/><ellipse cx="499.8" cy="94.5" rx="2.8" ry="5.5" transform="rotate(3 499.8 94.5)"/><ellipse cx="502.9" cy="94.7" rx="2.8" ry="5.5" transform="rotate(3 502.9 94.7)"/><ellipse cx="506.0" cy="94.9" rx="2.8" ry="5.5" transform="rotate(4 506.0 94.9)"/><ellipse cx="509.3" cy="95.1" rx="2.8" ry="5.5" transform="rotate(4 509.3 95.1)"/><ellipse cx="512.6" cy="95.3" rx="2.8" ry="5.5" transform="rotate(4 512.6 95.3)"/><ellipse cx="515.7" cy="95.6" rx="2.8" ry="5.5" transform="rotate(5 515.7 95.6)"/><ellipse cx="518.6" cy="95.9" rx="2.8" ry="5.5" transform="rotate(6 518.6 95.9)"/><ellipse cx="521.3" cy="96.2" rx="2.8" ry="5.5" transform="rotate(7 521.3 96.2)"/><ellipse cx="524.0" cy="96.5" rx="2.8" ry="5.5" transform="rotate(7 524.0 96.5)"/><ellipse cx="526.6" cy="96.8" rx="2.8" ry="5.5" transform="rotate(7 526.6 96.8)"/><ellipse cx="529.1" cy="97.1" rx="2.8" ry="5.5" transform="rotate(7 529.1 97.1)"/><ellipse cx="531.7" cy="97.4" rx="2.8" ry="5.5" transform="rotate(8 531.7 97.4)"/><ellipse cx="534.2" cy="97.8" rx="2.8" ry="5.5" transform="rotate(9 534.2 97.8)"/><ellipse cx="536.7" cy="98.2" rx="2.8" ry="5.5" transform="rotate(10 536.7 98.2)"/><ellipse cx="539.1" cy="98.7" rx="2.8" ry="5.5" transform="rotate(11 539.1 98.7)"/><ellipse cx="541.5" cy="99.2" rx="2.8" ry="5.5" transform="rotate(12 541.5 99.2)"/><ellipse cx="543.8" cy="99.7" rx="2.8" ry="5.5" transform="rotate(14 543.8 99.7)"/><ellipse cx="546.2" cy="100.3" rx="2.8" ry="5.5" transform="rotate(16 546.2 100.3)"/><ellipse cx="548.6" cy="101.1" rx="2.8" ry="5.5" transform="rotate(18 548.6 101.1)"/><ellipse cx="551.0" cy="101.9" rx="2.8" ry="5.5" transform="rotate(20 551.0 101.9)"/><ellipse cx="553.5" cy="102.8" rx="2.8" ry="5.5" transform="rotate(21 553.5 102.8)"/><ellipse cx="555.9" cy="103.8" rx="2.8" ry="5.5" transform="rotate(22 555.9 103.8)"/><ellipse cx="558.2" cy="104.7" rx="2.8" ry="5.5" transform="rotate(23 558.2 104.7)"/><ellipse cx="560.4" cy="105.6" rx="2.8" ry="5.5" transform="rotate(23 560.4 105.6)"/><ellipse cx="563.2" cy="106.8" rx="2.8" ry="5.5" transform="rotate(23 563.2 106.8)"/><ellipse cx="565.4" cy="107.8" rx="2.8" ry="5.5" transform="rotate(22 565.4 107.8)"/></g>
<g fill="url(#cg)" stroke="#6c6c6c" stroke-width="0.5" opacity="1"><ellipse cx="446.0" cy="152.0" rx="2.8" ry="5.5" transform="rotate(20 446.0 152.0)"/><ellipse cx="448.7" cy="153.0" rx="2.8" ry="5.5" transform="rotate(20 448.7 153.0)"/><ellipse cx="451.0" cy="153.8" rx="2.8" ry="5.5" transform="rotate(21 451.0 153.8)"/><ellipse cx="453.7" cy="154.8" rx="2.8" ry="5.5" transform="rotate(20 453.7 154.8)"/><ellipse cx="456.6" cy="155.9" rx="2.8" ry="5.5" transform="rotate(20 456.6 155.9)"/><ellipse cx="459.7" cy="157.1" rx="2.8" ry="5.5" transform="rotate(20 459.7 157.1)"/><ellipse cx="462.9" cy="158.2" rx="2.8" ry="5.5" transform="rotate(20 462.9 158.2)"/><ellipse cx="466.2" cy="159.4" rx="2.8" ry="5.5" transform="rotate(19 466.2 159.4)"/><ellipse cx="469.4" cy="160.5" rx="2.8" ry="5.5" transform="rotate(19 469.4 160.5)"/><ellipse cx="472.5" cy="161.5" rx="2.8" ry="5.5" transform="rotate(18 472.5 161.5)"/><ellipse cx="475.5" cy="162.5" rx="2.8" ry="5.5" transform="rotate(17 475.5 162.5)"/><ellipse cx="478.4" cy="163.4" rx="2.8" ry="5.5" transform="rotate(17 478.4 163.4)"/><ellipse cx="481.4" cy="164.3" rx="2.8" ry="5.5" transform="rotate(17 481.4 164.3)"/><ellipse cx="484.4" cy="165.2" rx="2.8" ry="5.5" transform="rotate(16 484.4 165.2)"/><ellipse cx="487.5" cy="166.1" rx="2.8" ry="5.5" transform="rotate(16 487.5 166.1)"/><ellipse cx="490.5" cy="166.9" rx="2.8" ry="5.5" transform="rotate(15 490.5 166.9)"/><ellipse cx="493.6" cy="167.7" rx="2.8" ry="5.5" transform="rotate(14 493.6 167.7)"/><ellipse cx="496.6" cy="168.5" rx="2.8" ry="5.5" transform="rotate(13 496.6 168.5)"/><ellipse cx="499.6" cy="169.1" rx="2.8" ry="5.5" transform="rotate(12 499.6 169.1)"/><ellipse cx="502.5" cy="169.7" rx="2.8" ry="5.5" transform="rotate(11 502.5 169.7)"/><ellipse cx="505.5" cy="170.2" rx="2.8" ry="5.5" transform="rotate(9 505.5 170.2)"/><ellipse cx="508.6" cy="170.6" rx="2.8" ry="5.5" transform="rotate(7 508.6 170.6)"/><ellipse cx="511.8" cy="171.0" rx="2.8" ry="5.5" transform="rotate(5 511.8 171.0)"/><ellipse cx="515.1" cy="171.2" rx="2.8" ry="5.5" transform="rotate(4 515.1 171.2)"/><ellipse cx="518.3" cy="171.4" rx="2.8" ry="5.5" transform="rotate(3 518.3 171.4)"/><ellipse cx="521.4" cy="171.6" rx="2.8" ry="5.5" transform="rotate(2 521.4 171.6)"/><ellipse cx="524.3" cy="171.7" rx="2.8" ry="5.5" transform="rotate(2 524.3 171.7)"/><ellipse cx="527.0" cy="171.8" rx="2.8" ry="5.5" transform="rotate(2 527.0 171.8)"/><ellipse cx="529.3" cy="171.9" rx="2.8" ry="5.5" transform="rotate(2 529.3 171.9)"/><ellipse cx="532.0" cy="172.0" rx="2.8" ry="5.5" transform="rotate(4 532.0 172.0)"/></g>
<g fill="url(#cg)" stroke="#6c6c6c" stroke-width="0.5" opacity="1"><ellipse cx="406.0" cy="98.0" rx="2.8" ry="5.5" transform="rotate(-67 406.0 98.0)"/><ellipse cx="406.9" cy="95.5" rx="2.8" ry="5.5" transform="rotate(-72 406.9 95.5)"/><ellipse cx="407.8" cy="92.8" rx="2.8" ry="5.5" transform="rotate(-71 407.8 92.8)"/><ellipse cx="408.9" cy="89.8" rx="2.8" ry="5.5" transform="rotate(-70 408.9 89.8)"/><ellipse cx="409.7" cy="87.6" rx="2.8" ry="5.5" transform="rotate(-68 409.7 87.6)"/><ellipse cx="410.6" cy="85.5" rx="2.8" ry="5.5" transform="rotate(-65 410.6 85.5)"/><ellipse cx="411.6" cy="83.5" rx="2.8" ry="5.5" transform="rotate(-61 411.6 83.5)"/><ellipse cx="413.4" cy="80.8" rx="2.8" ry="5.5" transform="rotate(-53 413.4 80.8)"/><ellipse cx="415.4" cy="78.5" rx="2.8" ry="5.5" transform="rotate(-45 415.4 78.5)"/><ellipse cx="417.8" cy="76.3" rx="2.8" ry="5.5" transform="rotate(-40 417.8 76.3)"/><ellipse cx="419.5" cy="75.0" rx="2.8" ry="5.5" transform="rotate(-37 419.5 75.0)"/><ellipse cx="421.3" cy="73.6" rx="2.8" ry="5.5" transform="rotate(-35 421.3 73.6)"/><ellipse cx="423.2" cy="72.4" rx="2.8" ry="5.5" transform="rotate(-32 423.2 72.4)"/><ellipse cx="425.2" cy="71.2" rx="2.8" ry="5.5" transform="rotate(-30 425.2 71.2)"/><ellipse cx="427.1" cy="70.2" rx="2.8" ry="5.5" transform="rotate(-27 427.1 70.2)"/><ellipse cx="430.1" cy="68.8" rx="2.8" ry="5.5" transform="rotate(-23 430.1 68.8)"/><ellipse cx="433.0" cy="67.7" rx="2.8" ry="5.5" transform="rotate(-17 433.0 67.7)"/><ellipse cx="436.2" cy="66.9" rx="2.8" ry="5.5" transform="rotate(-10 436.2 66.9)"/><ellipse cx="438.5" cy="66.6" rx="2.8" ry="5.5" transform="rotate(-7 438.5 66.6)"/><ellipse cx="440.8" cy="66.4" rx="2.8" ry="5.5" transform="rotate(-4 440.8 66.4)"/><ellipse cx="443.1" cy="66.2" rx="2.8" ry="5.5" transform="rotate(-3 443.1 66.2)"/><ellipse cx="445.3" cy="66.2" rx="2.8" ry="5.5" transform="rotate(-1 445.3 66.2)"/><ellipse cx="448.4" cy="66.1" rx="2.8" ry="5.5" transform="rotate(-1 448.4 66.1)"/><ellipse cx="450.8" cy="66.1" rx="2.8" ry="5.5" transform="rotate(-2 450.8 66.1)"/></g>
<g fill="url(#cg)" stroke="#6c6c6c" stroke-width="0.5" opacity="1"><ellipse cx="412.0" cy="110.0" rx="2.8" ry="5.5" transform="rotate(-57 412.0 110.0)"/><ellipse cx="413.5" cy="107.5" rx="2.8" ry="5.5" transform="rotate(-61 413.5 107.5)"/><ellipse cx="415.0" cy="104.8" rx="2.8" ry="5.5" transform="rotate(-61 415.0 104.8)"/><ellipse cx="416.1" cy="102.8" rx="2.8" ry="5.5" transform="rotate(-60 416.1 102.8)"/><ellipse cx="417.4" cy="100.7" rx="2.8" ry="5.5" transform="rotate(-58 417.4 100.7)"/><ellipse cx="418.7" cy="98.6" rx="2.8" ry="5.5" transform="rotate(-57 418.7 98.6)"/><ellipse cx="420.2" cy="96.5" rx="2.8" ry="5.5" transform="rotate(-54 420.2 96.5)"/><ellipse cx="421.7" cy="94.5" rx="2.8" ry="5.5" transform="rotate(-51 421.7 94.5)"/><ellipse cx="423.2" cy="92.8" rx="2.8" ry="5.5" transform="rotate(-46 423.2 92.8)"/><ellipse cx="424.8" cy="91.3" rx="2.8" ry="5.5" transform="rotate(-42 424.8 91.3)"/><ellipse cx="426.5" cy="89.8" rx="2.8" ry="5.5" transform="rotate(-39 426.5 89.8)"/><ellipse cx="428.4" cy="88.3" rx="2.8" ry="5.5" transform="rotate(-37 428.4 88.3)"/><ellipse cx="430.3" cy="87.0" rx="2.8" ry="5.5" transform="rotate(-34 430.3 87.0)"/><ellipse cx="432.3" cy="85.6" rx="2.8" ry="5.5" transform="rotate(-32 432.3 85.6)"/><ellipse cx="434.4" cy="84.4" rx="2.8" ry="5.5" transform="rotate(-30 434.4 84.4)"/><ellipse cx="436.5" cy="83.2" rx="2.8" ry="5.5" transform="rotate(-28 436.5 83.2)"/><ellipse cx="438.7" cy="82.2" rx="2.8" ry="5.5" transform="rotate(-25 438.7 82.2)"/><ellipse cx="440.8" cy="81.2" rx="2.8" ry="5.5" transform="rotate(-23 440.8 81.2)"/><ellipse cx="442.9" cy="80.4" rx="2.8" ry="5.5" transform="rotate(-20 442.9 80.4)"/><ellipse cx="445.1" cy="79.7" rx="2.8" ry="5.5" transform="rotate(-15 445.1 79.7)"/><ellipse cx="447.4" cy="79.1" rx="2.8" ry="5.5" transform="rotate(-11 447.4 79.1)"/><ellipse cx="449.9" cy="78.8" rx="2.8" ry="5.5" transform="rotate(-7 449.9 78.8)"/><ellipse cx="452.4" cy="78.5" rx="2.8" ry="5.5" transform="rotate(-5 452.4 78.5)"/><ellipse cx="455.0" cy="78.3" rx="2.8" ry="5.5" transform="rotate(-3 455.0 78.3)"/><ellipse cx="457.5" cy="78.2" rx="2.8" ry="5.5" transform="rotate(-2 457.5 78.2)"/><ellipse cx="459.8" cy="78.2" rx="2.8" ry="5.5" transform="rotate(-1 459.8 78.2)"/><ellipse cx="463.0" cy="78.1" rx="2.8" ry="5.5" transform="rotate(-1 463.0 78.1)"/><ellipse cx="465.4" cy="78.0" rx="2.8" ry="5.5" transform="rotate(-3 465.4 78.0)"/></g>
<g fill="url(#cg)" stroke="#6c6c6c" stroke-width="0.5" opacity="1"><ellipse cx="424.0" cy="120.0" rx="2.8" ry="5.5" transform="rotate(-53 424.0 120.0)"/><ellipse cx="425.3" cy="118.2" rx="2.8" ry="5.5" transform="rotate(-56 425.3 118.2)"/><ellipse cx="426.9" cy="115.7" rx="2.8" ry="5.5" transform="rotate(-57 426.9 115.7)"/><ellipse cx="428.2" cy="113.7" rx="2.8" ry="5.5" transform="rotate(-56 428.2 113.7)"/><ellipse cx="429.6" cy="111.6" rx="2.8" ry="5.5" transform="rotate(-55 429.6 111.6)"/><ellipse cx="431.2" cy="109.5" rx="2.8" ry="5.5" transform="rotate(-54 431.2 109.5)"/><ellipse cx="432.8" cy="107.4" rx="2.8" ry="5.5" transform="rotate(-51 432.8 107.4)"/><ellipse cx="434.5" cy="105.4" rx="2.8" ry="5.5" transform="rotate(-48 434.5 105.4)"/><ellipse cx="436.2" cy="103.6" rx="2.8" ry="5.5" transform="rotate(-44 436.2 103.6)"/><ellipse cx="438.0" cy="102.0" rx="2.8" ry="5.5" transform="rotate(-38 438.0 102.0)"/><ellipse cx="439.9" cy="100.6" rx="2.8" ry="5.5" transform="rotate(-34 439.9 100.6)"/><ellipse cx="441.9" cy="99.4" rx="2.8" ry="5.5" transform="rotate(-31 441.9 99.4)"/><ellipse cx="444.0" cy="98.2" rx="2.8" ry="5.5" transform="rotate(-28 444.0 98.2)"/><ellipse cx="446.2" cy="97.0" rx="2.8" ry="5.5" transform="rotate(-26 446.2 97.0)"/><ellipse cx="448.5" cy="96.0" rx="2.8" ry="5.5" transform="rotate(-24 448.5 96.0)"/><ellipse cx="450.8" cy="95.0" rx="2.8" ry="5.5" transform="rotate(-22 450.8 95.0)"/><ellipse cx="453.1" cy="94.2" rx="2.8" ry="5.5" transform="rotate(-20 453.1 94.2)"/><ellipse cx="455.5" cy="93.4" rx="2.8" ry="5.5" transform="rotate(-18 455.5 93.4)"/><ellipse cx="457.8" cy="92.6" rx="2.8" ry="5.5" transform="rotate(-17 457.8 92.6)"/><ellipse cx="460.0" cy="92.0" rx="2.8" ry="5.5" transform="rotate(-15 460.0 92.0)"/><ellipse cx="462.3" cy="91.5" rx="2.8" ry="5.5" transform="rotate(-11 462.3 91.5)"/><ellipse cx="464.8" cy="91.1" rx="2.8" ry="5.5" transform="rotate(-8 464.8 91.1)"/><ellipse cx="467.3" cy="90.7" rx="2.8" ry="5.5" transform="rotate(-6 467.3 90.7)"/><ellipse cx="469.9" cy="90.5" rx="2.8" ry="5.5" transform="rotate(-4 469.9 90.5)"/><ellipse cx="472.4" cy="90.4" rx="2.8" ry="5.5" transform="rotate(-3 472.4 90.4)"/><ellipse cx="474.8" cy="90.3" rx="2.8" ry="5.5" transform="rotate(-2 474.8 90.3)"/><ellipse cx="477.0" cy="90.2" rx="2.8" ry="5.5" transform="rotate(-2 477.0 90.2)"/><ellipse cx="479.9" cy="90.1" rx="2.8" ry="5.5" transform="rotate(-2 479.9 90.1)"/></g>
<g fill="url(#cg)" stroke="#6c6c6c" stroke-width="0.5" opacity="1"><ellipse cx="448.0" cy="114.0" rx="2.8" ry="5.5" transform="rotate(-29 448.0 114.0)"/><ellipse cx="450.1" cy="112.8" rx="2.8" ry="5.5" transform="rotate(-32 450.1 112.8)"/><ellipse cx="453.0" cy="111.0" rx="2.8" ry="5.5" transform="rotate(-32 453.0 111.0)"/><ellipse cx="455.2" cy="109.6" rx="2.8" ry="5.5" transform="rotate(-32 455.2 109.6)"/><ellipse cx="457.6" cy="108.1" rx="2.8" ry="5.5" transform="rotate(-31 457.6 108.1)"/><ellipse cx="460.1" cy="106.7" rx="2.8" ry="5.5" transform="rotate(-30 460.1 106.7)"/><ellipse cx="462.7" cy="105.2" rx="2.8" ry="5.5" transform="rotate(-28 462.7 105.2)"/><ellipse cx="465.2" cy="104.0" rx="2.8" ry="5.5" transform="rotate(-26 465.2 104.0)"/><ellipse cx="467.7" cy="102.8" rx="2.8" ry="5.5" transform="rotate(-22 467.7 102.8)"/><ellipse cx="470.0" cy="102.0" rx="2.8" ry="5.5" transform="rotate(-18 470.0 102.0)"/><ellipse cx="472.2" cy="101.4" rx="2.8" ry="5.5" transform="rotate(-14 472.2 101.4)"/><ellipse cx="474.4" cy="100.9" rx="2.8" ry="5.5" transform="rotate(-11 474.4 100.9)"/><ellipse cx="476.7" cy="100.5" rx="2.8" ry="5.5" transform="rotate(-8 476.7 100.5)"/><ellipse cx="478.9" cy="100.3" rx="2.8" ry="5.5" transform="rotate(-5 478.9 100.3)"/><ellipse cx="481.1" cy="100.1" rx="2.8" ry="5.5" transform="rotate(-3 481.1 100.1)"/><ellipse cx="483.3" cy="100.0" rx="2.8" ry="5.5" transform="rotate(-2 483.3 100.0)"/><ellipse cx="485.5" cy="100.0" rx="2.8" ry="5.5" transform="rotate(-1 485.5 100.0)"/><ellipse cx="488.8" cy="100.0" rx="2.8" ry="5.5" transform="rotate(0 488.8 100.0)"/><ellipse cx="492.0" cy="100.0" rx="2.8" ry="5.5" transform="rotate(0 492.0 100.0)"/><ellipse cx="495.3" cy="100.1" rx="2.8" ry="5.5" transform="rotate(3 495.3 100.1)"/><ellipse cx="497.6" cy="100.3" rx="2.8" ry="5.5" transform="rotate(5 497.6 100.3)"/><ellipse cx="499.9" cy="100.5" rx="2.8" ry="5.5" transform="rotate(6 499.9 100.5)"/><ellipse cx="502.2" cy="100.7" rx="2.8" ry="5.5" transform="rotate(7 502.2 100.7)"/><ellipse cx="504.5" cy="101.0" rx="2.8" ry="5.5" transform="rotate(7 504.5 101.0)"/><ellipse cx="507.5" cy="101.4" rx="2.8" ry="5.5" transform="rotate(8 507.5 101.4)"/><ellipse cx="510.1" cy="101.8" rx="2.8" ry="5.5" transform="rotate(8 510.1 101.8)"/></g>
<defs><radialGradient id="rgw"><stop offset="0" stop-color="#fff" stop-opacity="0.75"/><stop offset="0.6" stop-color="#fff" stop-opacity="0.45"/><stop offset="1" stop-color="#fff" stop-opacity="0"/></radialGradient></defs>
<ellipse cx="432" cy="92" rx="34" ry="32" fill="url(#rgw)"/>
<path d="M480.0,194.0 C480.0,190.3 482.7,189.7 484.0,193.0 C485.3,196.3 488.0,210.3 488.0,214.0 C488.0,217.7 485.3,218.3 484.0,215.0 C482.7,211.7 480.0,197.7 480.0,194.0 Z" fill="#fff" opacity="0.92"/>
<path d="M498.0,198.0 C498.2,194.5 501.5,193.8 503.0,197.0 C504.5,200.2 507.2,213.5 507.0,217.0 C506.8,220.5 503.5,221.2 502.0,218.0 C500.5,214.8 497.8,201.5 498.0,198.0 Z" fill="#fff" opacity="0.92"/>
<path d="M511.0,190.0 C511.3,185.7 516.0,184.3 518.0,188.0 C520.0,191.7 523.3,207.7 523.0,212.0 C522.7,216.3 518.0,217.7 516.0,214.0 C514.0,210.3 510.7,194.3 511.0,190.0 Z" fill="#fff" opacity="0.92"/>
</g>
<path d="M405.0,65.0 C406.7,60.8 407.8,60.5 412.0,60.0 C416.2,59.5 422.8,61.0 430.0,62.0 C437.2,63.0 447.5,64.0 455.0,66.0 C462.5,68.0 469.7,70.0 475.0,74.0 C480.3,78.0 482.8,86.5 487.0,90.0 C491.2,93.5 494.5,95.0 500.0,95.0 C505.5,95.0 513.3,90.8 520.0,90.0 C526.7,89.2 534.2,88.8 540.0,90.0 C545.8,91.2 550.7,94.5 555.0,97.0 C559.3,99.5 564.8,102.0 566.0,105.0 C567.2,108.0 563.8,111.3 562.0,115.0 C560.2,118.7 556.7,122.8 555.0,127.0 C553.3,131.2 552.5,136.2 552.0,140.0 C551.5,143.8 552.3,146.5 552.0,150.0 C551.7,153.5 553.2,158.5 550.0,161.0 C546.8,163.5 535.8,161.0 533.0,165.0 C530.2,169.0 531.8,179.2 533.0,185.0 C534.2,190.8 537.5,193.3 540.0,200.0 C542.5,206.7 545.8,215.8 548.0,225.0 C550.2,234.2 551.7,247.8 553.0,255.0 C554.3,262.2 556.5,264.0 556.0,268.0 C555.5,272.0 553.5,276.8 550.0,279.0 C546.5,281.2 538.0,278.7 535.0,281.0 C532.0,283.3 534.5,288.5 532.0,293.0 C529.5,297.5 522.8,305.0 520.0,308.0 C517.2,311.0 520.5,312.7 515.0,311.0 C509.5,309.3 493.0,301.5 487.0,298.0 C481.0,294.5 480.2,292.5 479.0,290.0 C477.8,287.5 482.8,287.0 480.0,283.0 C477.2,279.0 465.2,272.3 462.0,266.0 C458.8,259.7 461.0,250.7 461.0,245.0 C461.0,239.3 462.2,237.0 462.0,232.0 C461.8,227.0 461.7,219.2 460.0,215.0 C458.3,210.8 453.0,210.5 452.0,207.0 C451.0,203.5 452.7,197.3 454.0,194.0 C455.3,190.7 458.7,190.7 460.0,187.0 C461.3,183.3 462.8,175.7 462.0,172.0 C461.2,168.3 457.5,168.3 455.0,165.0 C452.5,161.7 449.5,155.8 447.0,152.0 C444.5,148.2 442.0,144.8 440.0,142.0 C438.0,139.2 436.7,138.7 435.0,135.0 C433.3,131.3 433.0,124.2 430.0,120.0 C427.0,115.8 420.8,113.3 417.0,110.0 C413.2,106.7 409.5,104.2 407.0,100.0 C404.5,95.8 402.3,90.8 402.0,85.0 C401.7,79.2 403.3,69.2 405.0,65.0 Z" fill="none" stroke="#8a8a8a" stroke-width="0.7"/>
<path d="M386.0,72.0 C386.7,64.2 387.8,51.7 390.0,48.0 C392.2,44.3 396.5,48.3 399.0,50.0 C401.5,51.7 402.0,59.7 405.0,58.0 C408.0,56.3 412.8,43.8 417.0,40.0 C421.2,36.2 425.3,37.5 430.0,35.0 C434.7,32.5 440.0,27.7 445.0,25.0 C450.0,22.3 455.0,19.8 460.0,19.0 C465.0,18.2 469.2,19.8 475.0,20.0 C480.8,20.2 491.3,17.5 495.0,20.0 C498.7,22.5 495.3,32.2 497.0,35.0 C498.7,37.8 502.7,34.5 505.0,37.0 C507.3,39.5 511.8,46.2 511.0,50.0 C510.2,53.8 503.5,56.7 500.0,60.0 C496.5,63.3 491.7,66.7 490.0,70.0 C488.3,73.3 488.8,77.5 490.0,80.0 C491.2,82.5 492.8,85.5 497.0,85.0 C501.2,84.5 509.5,77.5 515.0,77.0 C520.5,76.5 525.5,79.8 530.0,82.0 C534.5,84.2 538.3,87.5 542.0,90.0 C545.7,92.5 552.3,96.5 552.0,97.0 C551.7,97.5 545.3,94.0 540.0,93.0 C534.7,92.0 526.7,90.5 520.0,91.0 C513.3,91.5 505.5,96.0 500.0,96.0 C494.5,96.0 491.2,94.3 487.0,91.0 C482.8,87.7 480.3,80.0 475.0,76.0 C469.7,72.0 462.5,69.2 455.0,67.0 C447.5,64.8 437.2,64.0 430.0,63.0 C422.8,62.0 416.2,60.5 412.0,61.0 C407.8,61.5 406.7,62.0 405.0,66.0 C403.3,70.0 401.7,79.0 402.0,85.0 C402.3,91.0 404.5,97.8 407.0,102.0 C409.5,106.2 413.8,106.0 417.0,110.0 C420.2,114.0 424.5,122.3 426.0,126.0 C427.5,129.7 427.5,132.2 426.0,132.0 C424.5,131.8 420.5,127.8 417.0,125.0 C413.5,122.2 408.7,118.0 405.0,115.0 C401.3,112.0 398.2,110.3 395.0,107.0 C391.8,103.7 387.5,100.8 386.0,95.0 C384.5,89.2 385.3,79.8 386.0,72.0 Z" fill="#a840dc" opacity="0.5"/>
<clipPath id="cpur"><path d="M386.0,72.0 C386.7,64.2 387.8,51.7 390.0,48.0 C392.2,44.3 396.5,48.3 399.0,50.0 C401.5,51.7 402.0,59.7 405.0,58.0 C408.0,56.3 412.8,43.8 417.0,40.0 C421.2,36.2 425.3,37.5 430.0,35.0 C434.7,32.5 440.0,27.7 445.0,25.0 C450.0,22.3 455.0,19.8 460.0,19.0 C465.0,18.2 469.2,19.8 475.0,20.0 C480.8,20.2 491.3,17.5 495.0,20.0 C498.7,22.5 495.3,32.2 497.0,35.0 C498.7,37.8 502.7,34.5 505.0,37.0 C507.3,39.5 511.8,46.2 511.0,50.0 C510.2,53.8 503.5,56.7 500.0,60.0 C496.5,63.3 491.7,66.7 490.0,70.0 C488.3,73.3 488.8,77.5 490.0,80.0 C491.2,82.5 492.8,85.5 497.0,85.0 C501.2,84.5 509.5,77.5 515.0,77.0 C520.5,76.5 525.5,79.8 530.0,82.0 C534.5,84.2 538.3,87.5 542.0,90.0 C545.7,92.5 552.3,96.5 552.0,97.0 C551.7,97.5 545.3,94.0 540.0,93.0 C534.7,92.0 526.7,90.5 520.0,91.0 C513.3,91.5 505.5,96.0 500.0,96.0 C494.5,96.0 491.2,94.3 487.0,91.0 C482.8,87.7 480.3,80.0 475.0,76.0 C469.7,72.0 462.5,69.2 455.0,67.0 C447.5,64.8 437.2,64.0 430.0,63.0 C422.8,62.0 416.2,60.5 412.0,61.0 C407.8,61.5 406.7,62.0 405.0,66.0 C403.3,70.0 401.7,79.0 402.0,85.0 C402.3,91.0 404.5,97.8 407.0,102.0 C409.5,106.2 413.8,106.0 417.0,110.0 C420.2,114.0 424.5,122.3 426.0,126.0 C427.5,129.7 427.5,132.2 426.0,132.0 C424.5,131.8 420.5,127.8 417.0,125.0 C413.5,122.2 408.7,118.0 405.0,115.0 C401.3,112.0 398.2,110.3 395.0,107.0 C391.8,103.7 387.5,100.8 386.0,95.0 C384.5,89.2 385.3,79.8 386.0,72.0 Z"/></clipPath>
<g clip-path="url(#cpur)">
<path d="M405.0,60.0 C409.2,58.3 421.7,52.3 430.0,50.0 C438.3,47.7 446.7,47.0 455.0,46.0 C463.3,45.0 471.7,43.7 480.0,44.0 C488.3,44.3 500.8,47.3 505.0,48.0" fill="none" stroke="#a028d0" stroke-width="0.7" opacity="0.8" stroke-linecap="round"/>
<path d="M405.0,58.7 C409.2,56.7 421.7,49.5 430.0,46.8 C438.3,44.1 446.7,43.7 455.0,42.8 C463.3,41.9 471.7,40.7 480.0,41.4 C488.3,42.1 500.8,46.1 505.0,47.0" fill="none" stroke="#a028d0" stroke-width="0.7" opacity="0.8" stroke-linecap="round"/>
<path d="M405.0,57.4 C409.2,55.1 421.7,46.6 430.0,43.6 C438.3,40.6 446.7,40.4 455.0,39.6 C463.3,38.8 471.7,37.8 480.0,38.9 C488.3,40.0 500.8,44.9 505.0,46.1" fill="none" stroke="#a028d0" stroke-width="0.7" opacity="0.8" stroke-linecap="round"/>
<path d="M405.0,56.2 C409.2,53.5 421.7,43.7 430.0,40.4 C438.3,37.1 446.7,37.1 455.0,36.4 C463.3,35.7 471.7,34.9 480.0,36.3 C488.3,37.8 500.8,43.7 505.0,45.1" fill="none" stroke="#a028d0" stroke-width="0.7" opacity="0.8" stroke-linecap="round"/>
<path d="M405.0,54.9 C409.2,51.9 421.7,40.8 430.0,37.2 C438.3,33.6 446.7,33.8 455.0,33.2 C463.3,32.6 471.7,31.9 480.0,33.8 C488.3,35.6 500.8,42.4 505.0,44.2" fill="none" stroke="#a028d0" stroke-width="0.7" opacity="0.8" stroke-linecap="round"/>
<path d="M405.0,53.6 C409.2,50.3 421.7,37.9 430.0,34.0 C438.3,30.1 446.7,30.5 455.0,30.0 C463.3,29.5 471.7,29.0 480.0,31.2 C488.3,33.4 500.8,41.2 505.0,43.2" fill="none" stroke="#a028d0" stroke-width="0.7" opacity="0.8" stroke-linecap="round"/>
<path d="M405.0,52.3 C409.2,48.7 421.7,35.1 430.0,30.8 C438.3,26.5 446.7,27.2 455.0,26.8 C463.3,26.4 471.7,26.1 480.0,28.6 C488.3,31.2 500.8,40.0 505.0,42.2" fill="none" stroke="#a028d0" stroke-width="0.7" opacity="0.8" stroke-linecap="round"/>
<path d="M405.0,51.0 C409.2,47.1 421.7,32.2 430.0,27.6 C438.3,23.0 446.7,23.9 455.0,23.6 C463.3,23.3 471.7,23.1 480.0,26.1 C488.3,29.0 500.8,38.7 505.0,41.3" fill="none" stroke="#a028d0" stroke-width="0.7" opacity="0.8" stroke-linecap="round"/>
<path d="M405.0,49.8 C409.2,45.5 421.7,29.3 430.0,24.4 C438.3,19.5 446.7,20.5 455.0,20.4 C463.3,20.3 471.7,20.2 480.0,23.5 C488.3,26.8 500.8,37.5 505.0,40.3" fill="none" stroke="#a028d0" stroke-width="0.7" opacity="0.8" stroke-linecap="round"/>
<path d="M388.0,50.0 C388.3,54.2 389.3,67.0 390.0,75.0 C390.7,83.0 389.5,91.8 392.0,98.0 C394.5,104.2 399.7,106.7 405.0,112.0 C410.3,117.3 420.8,127.0 424.0,130.0" fill="none" stroke="#a028d0" stroke-width="0.7" opacity="0.8" stroke-linecap="round"/>
<path d="M388.5,50.0 C388.9,54.2 389.8,67.0 390.8,75.0 C391.8,83.0 391.8,91.8 394.6,98.0 C397.4,104.2 402.7,106.7 407.6,112.0 C412.5,117.3 421.3,127.0 424.0,130.0" fill="none" stroke="#a028d0" stroke-width="0.7" opacity="0.8" stroke-linecap="round"/>
<path d="M389.0,50.0 C389.5,54.2 390.2,67.0 391.6,75.0 C392.9,83.0 394.1,91.8 397.2,98.0 C400.3,104.2 405.7,106.7 410.2,112.0 C414.7,117.3 421.7,127.0 424.0,130.0" fill="none" stroke="#a028d0" stroke-width="0.7" opacity="0.8" stroke-linecap="round"/>
<path d="M389.6,50.0 C390.0,54.2 390.6,67.0 392.3,75.0 C394.0,83.0 396.4,91.8 399.8,98.0 C403.2,104.2 408.8,106.7 412.8,112.0 C416.8,117.3 422.1,127.0 424.0,130.0" fill="none" stroke="#a028d0" stroke-width="0.7" opacity="0.8" stroke-linecap="round"/>
<path d="M390.1,50.0 C390.6,54.2 391.1,67.0 393.1,75.0 C395.2,83.0 398.7,91.8 402.4,98.0 C406.1,104.2 411.8,106.7 415.4,112.0 C419.0,117.3 422.6,127.0 424.0,130.0" fill="none" stroke="#a028d0" stroke-width="0.7" opacity="0.8" stroke-linecap="round"/>
<path d="M390.6,50.0 C391.2,54.2 391.5,67.0 393.9,75.0 C396.3,83.0 401.0,91.8 405.0,98.0 C409.0,104.2 414.8,106.7 418.0,112.0 C421.2,117.3 423.0,127.0 424.0,130.0" fill="none" stroke="#a028d0" stroke-width="0.7" opacity="0.8" stroke-linecap="round"/>
<path d="M391.1,50.0 C391.7,54.2 391.9,67.0 394.7,75.0 C397.4,83.0 403.3,91.8 407.6,98.0 C411.9,104.2 417.9,106.7 420.6,112.0 C423.3,117.3 423.4,127.0 424.0,130.0" fill="none" stroke="#a028d0" stroke-width="0.7" opacity="0.8" stroke-linecap="round"/>
<path d="M488.0,80.0 C490.8,79.3 498.8,76.0 505.0,76.0 C511.2,76.0 517.8,77.0 525.0,80.0 C532.2,83.0 544.2,91.7 548.0,94.0" fill="none" stroke="#b040d8" stroke-width="0.6" opacity="0.7" stroke-linecap="round"/>
<path d="M488.0,82.5 C490.8,81.8 498.8,78.5 505.0,78.5 C511.2,78.5 517.8,79.5 525.0,82.5 C532.2,85.5 544.2,94.2 548.0,96.5" fill="none" stroke="#b040d8" stroke-width="0.6" opacity="0.7" stroke-linecap="round"/>
<path d="M488.0,85.0 C490.8,84.3 498.8,81.0 505.0,81.0 C511.2,81.0 517.8,82.0 525.0,85.0 C532.2,88.0 544.2,96.7 548.0,99.0" fill="none" stroke="#b040d8" stroke-width="0.6" opacity="0.7" stroke-linecap="round"/>
<path d="M488.0,87.5 C490.8,86.8 498.8,83.5 505.0,83.5 C511.2,83.5 517.8,84.5 525.0,87.5 C532.2,90.5 544.2,99.2 548.0,101.5" fill="none" stroke="#b040d8" stroke-width="0.6" opacity="0.7" stroke-linecap="round"/>
<path d="M488.0,90.0 C490.8,89.3 498.8,86.0 505.0,86.0 C511.2,86.0 517.8,87.0 525.0,90.0 C532.2,93.0 544.2,101.7 548.0,104.0" fill="none" stroke="#b040d8" stroke-width="0.6" opacity="0.7" stroke-linecap="round"/>
<path d="M413.4,24.0 C415.9,24.3 423.2,25.6 428.2,25.7 C433.3,25.9 439.4,24.4 443.8,25.0 C448.1,25.6 449.8,29.4 454.1,29.5 C458.4,29.7 463.9,26.6 469.6,26.0 C475.2,25.4 482.7,26.0 488.0,26.1 C493.2,26.3 498.8,26.9 501.0,27.0" fill="none" stroke="#9a22d0" stroke-width="0.7" opacity="0.75" stroke-linecap="round"/>
<path d="M415.8,27.2 C418.2,28.0 425.3,31.9 429.8,32.1 C434.4,32.3 438.4,29.6 443.1,28.2 C447.8,26.8 453.1,23.3 458.0,23.5 C462.9,23.6 468.3,29.1 472.5,29.2 C476.8,29.3 479.0,23.9 483.8,24.1 C488.6,24.2 498.3,29.2 501.2,30.2" fill="none" stroke="#9a22d0" stroke-width="0.7" opacity="0.75" stroke-linecap="round"/>
<path d="M416.3,30.4 C418.6,31.3 425.9,35.8 430.3,36.0 C434.6,36.1 438.0,31.2 442.4,31.4 C446.8,31.6 451.5,37.0 456.7,37.1 C461.8,37.3 468.9,33.7 473.3,32.4 C477.6,31.1 478.1,29.3 482.8,29.5 C487.6,29.7 498.6,32.8 501.8,33.4" fill="none" stroke="#9a22d0" stroke-width="0.7" opacity="0.75" stroke-linecap="round"/>
<path d="M415.8,33.6 C418.0,33.5 424.7,32.6 429.0,32.7 C433.4,32.9 437.4,33.4 442.1,34.6 C446.8,35.8 452.5,39.8 457.5,40.0 C462.5,40.1 467.2,35.3 472.1,35.6 C477.0,35.9 482.5,41.8 487.1,42.0 C491.8,42.2 497.9,37.5 500.0,36.6" fill="none" stroke="#9a22d0" stroke-width="0.7" opacity="0.75" stroke-linecap="round"/>
<path d="M417.2,36.8 C419.5,37.0 426.9,38.0 431.4,38.1 C435.9,38.3 439.7,37.6 444.3,37.8 C448.9,38.0 454.8,39.0 459.0,39.2 C463.2,39.3 465.0,37.8 469.7,38.8 C474.4,39.8 482.7,45.0 487.1,45.2 C491.6,45.3 495.0,40.7 496.5,39.8" fill="none" stroke="#9a22d0" stroke-width="0.7" opacity="0.75" stroke-linecap="round"/>
<path d="M414.5,40.0 C416.7,40.6 422.6,43.6 427.8,43.7 C432.9,43.9 440.2,42.3 445.2,41.0 C450.2,39.7 453.2,35.9 457.7,36.0 C462.2,36.2 467.4,40.0 472.3,42.0 C477.2,44.0 482.8,48.1 487.3,48.3 C491.7,48.4 497.1,43.9 499.0,43.0" fill="none" stroke="#9a22d0" stroke-width="0.7" opacity="0.75" stroke-linecap="round"/>
<path d="M413.9,43.2 C416.5,42.3 425.0,37.9 429.6,38.1 C434.2,38.2 436.5,43.8 441.2,44.2 C445.9,44.6 453.2,40.4 457.7,40.6 C462.2,40.7 463.9,43.4 468.3,45.2 C472.6,47.0 478.4,51.0 483.9,51.2 C489.4,51.4 498.5,47.0 501.4,46.2" fill="none" stroke="#9a22d0" stroke-width="0.7" opacity="0.75" stroke-linecap="round"/>
<path d="M414.8,46.4 C417.3,46.7 425.1,47.9 429.9,48.0 C434.6,48.2 438.4,47.4 443.4,47.4 C448.3,47.4 455.1,47.8 459.6,48.0 C464.2,48.2 466.6,48.6 470.6,48.4 C474.6,48.2 478.2,46.3 483.4,46.5 C488.6,46.7 498.8,48.9 501.9,49.4" fill="none" stroke="#9a22d0" stroke-width="0.7" opacity="0.75" stroke-linecap="round"/>
<path d="M415.3,49.6 C417.5,49.8 424.4,50.9 428.5,51.1 C432.6,51.2 435.2,51.5 440.1,50.6 C445.0,49.7 452.5,45.7 457.8,45.8 C463.1,46.0 467.1,50.8 471.8,51.6 C476.5,52.4 481.3,50.2 486.1,50.3 C490.8,50.5 497.9,52.2 500.2,52.6" fill="none" stroke="#9a22d0" stroke-width="0.7" opacity="0.75" stroke-linecap="round"/>
<path d="M412.1,52.8 C415.1,53.8 425.2,58.7 430.1,58.9 C435.0,59.0 436.9,54.9 441.5,53.8 C446.1,52.7 452.8,52.0 457.6,52.1 C462.3,52.3 465.7,54.1 470.2,54.8 C474.6,55.5 479.6,56.3 484.2,56.4 C488.8,56.6 495.5,55.9 497.8,55.8" fill="none" stroke="#9a22d0" stroke-width="0.7" opacity="0.75" stroke-linecap="round"/>
<path d="M416.6,56.0 C418.8,56.6 425.2,59.2 429.4,59.3 C433.6,59.5 437.0,57.8 441.9,57.0 C446.8,56.2 454.3,54.2 458.8,54.4 C463.4,54.5 464.6,58.1 469.1,58.0 C473.7,57.9 481.4,53.6 486.2,53.7 C491.0,53.9 496.0,58.1 497.9,59.0" fill="none" stroke="#9a22d0" stroke-width="0.7" opacity="0.75" stroke-linecap="round"/>
<path d="M417.0,59.2 C419.4,58.6 427.0,55.6 431.1,55.7 C435.3,55.9 437.3,59.5 442.0,60.2 C446.7,60.9 454.8,59.9 459.3,60.1 C463.9,60.3 465.0,61.6 469.4,61.2 C473.7,60.8 479.9,57.8 485.2,58.0 C490.4,58.2 498.2,61.5 500.8,62.2" fill="none" stroke="#9a22d0" stroke-width="0.7" opacity="0.75" stroke-linecap="round"/>
<path d="M413.1,62.4 C416.1,62.8 425.6,64.4 430.8,64.6 C436.1,64.8 440.8,63.9 444.8,63.4 C448.8,62.9 450.1,61.2 454.8,61.4 C459.4,61.6 467.9,64.0 472.8,64.4 C477.6,64.8 479.8,63.7 484.1,63.9 C488.4,64.1 496.1,65.2 498.5,65.4" fill="none" stroke="#9a22d0" stroke-width="0.7" opacity="0.75" stroke-linecap="round"/>
<path d="M417.5,65.6 C418.9,66.6 421.4,71.3 426.0,71.4 C430.7,71.6 440.2,66.4 445.3,66.6 C450.4,66.8 451.9,72.3 456.6,72.5 C461.3,72.7 468.6,67.7 473.6,67.6 C478.5,67.5 482.1,72.0 486.5,72.1 C490.9,72.3 497.7,69.2 500.0,68.6" fill="none" stroke="#9a22d0" stroke-width="0.7" opacity="0.75" stroke-linecap="round"/>
</g>
<g fill="none" stroke="#9a1cc8" stroke-width="0.8" opacity="0.9"><ellipse cx="396.0" cy="52.0" rx="2.6" ry="9.5" transform="rotate(95 396.0 52.0)"/><ellipse cx="395.7" cy="55.1" rx="2.6" ry="9.5" transform="rotate(96 395.7 55.1)"/><ellipse cx="395.3" cy="58.3" rx="2.6" ry="9.5" transform="rotate(96 395.3 58.3)"/><ellipse cx="394.9" cy="62.1" rx="2.6" ry="9.5" transform="rotate(96 394.9 62.1)"/><ellipse cx="394.7" cy="64.7" rx="2.6" ry="9.5" transform="rotate(95 394.7 64.7)"/><ellipse cx="394.4" cy="67.4" rx="2.6" ry="9.5" transform="rotate(95 394.4 67.4)"/><ellipse cx="394.2" cy="70.0" rx="2.6" ry="9.5" transform="rotate(94 394.2 70.0)"/><ellipse cx="394.0" cy="73.8" rx="2.6" ry="9.5" transform="rotate(92 394.0 73.8)"/><ellipse cx="393.9" cy="77.3" rx="2.6" ry="9.5" transform="rotate(92 393.9 77.3)"/><ellipse cx="393.8" cy="80.9" rx="2.6" ry="9.5" transform="rotate(92 393.8 80.9)"/><ellipse cx="393.7" cy="84.4" rx="2.6" ry="9.5" transform="rotate(91 393.7 84.4)"/><ellipse cx="393.7" cy="88.0" rx="2.6" ry="9.5" transform="rotate(89 393.7 88.0)"/><ellipse cx="393.9" cy="91.5" rx="2.6" ry="9.5" transform="rotate(85 393.9 91.5)"/><ellipse cx="394.3" cy="94.8" rx="2.6" ry="9.5" transform="rotate(80 394.3 94.8)"/><ellipse cx="395.0" cy="98.0" rx="2.6" ry="9.5" transform="rotate(74 395.0 98.0)"/><ellipse cx="396.1" cy="101.0" rx="2.6" ry="9.5" transform="rotate(68 396.1 101.0)"/><ellipse cx="397.4" cy="103.9" rx="2.6" ry="9.5" transform="rotate(63 397.4 103.9)"/><ellipse cx="398.9" cy="106.6" rx="2.6" ry="9.5" transform="rotate(58 398.9 106.6)"/><ellipse cx="400.7" cy="109.3" rx="2.6" ry="9.5" transform="rotate(55 400.7 109.3)"/><ellipse cx="402.6" cy="111.8" rx="2.6" ry="9.5" transform="rotate(52 402.6 111.8)"/><ellipse cx="404.6" cy="114.3" rx="2.6" ry="9.5" transform="rotate(50 404.6 114.3)"/><ellipse cx="406.7" cy="116.8" rx="2.6" ry="9.5" transform="rotate(48 406.7 116.8)"/><ellipse cx="409.3" cy="119.4" rx="2.6" ry="9.5" transform="rotate(44 409.3 119.4)"/><ellipse cx="412.2" cy="122.1" rx="2.6" ry="9.5" transform="rotate(41 412.2 122.1)"/><ellipse cx="414.2" cy="123.8" rx="2.6" ry="9.5" transform="rotate(40 414.2 123.8)"/><ellipse cx="417.1" cy="126.2" rx="2.6" ry="9.5" transform="rotate(39 417.1 126.2)"/><ellipse cx="419.8" cy="128.4" rx="2.6" ry="9.5" transform="rotate(39 419.8 128.4)"/><ellipse cx="422.0" cy="130.1" rx="2.6" ry="9.5" transform="rotate(40 422.0 130.1)"/></g>
<path d="M475.8,30.5L480.2,21.5M478.3,31.6L482.2,22.4M480.7,32.6L484.5,23.4M482.4,33.3L486.4,24.1M484.2,34.1L488.3,25.0M485.9,34.9L490.3,26.0M487.6,35.8L492.4,27.0M489.1,36.6L494.4,28.1M490.3,37.5L496.3,29.4M491.8,38.8L498.9,31.7M493.0,40.0L500.4,33.3M494.1,41.3L501.9,35.1M495.3,42.8L503.3,36.8M496.4,44.4L504.6,38.6M497.5,46.0L505.8,40.3M498.5,47.4L506.8,41.8M499.9,49.4L508.1,43.8" fill="none" stroke="#a030d0" stroke-width="0.55" opacity="0.7"/>
<path d="M416,58 C432,50 460,47 490,52 L489,61 C460,57 432,60 419,67 Z" fill="#a524d4" opacity="0.85"/>
<path d="M461,21 C468,17 474,18 476,22 C480,26 488,17 495,20 C498,24 492,32 496,36 C502,38 506,42 510,50 C505,56 498,57 494,62 C489,66 487,72 490,77 C494,82 500,82 507,78 C514,74 520,78 527,85 C533,87 538,90 543,94" fill="none" stroke="#8a0cb8" stroke-width="2.8" stroke-linecap="round"/>
<path d="M391,50 C394,43 401,45 402,51 C403,57 399,62 401,66 M417,41 C424,36 428,42 432,44 C440,46 446,40 452,44 C458,48 462,44 468,46 C474,48 478,54 484,56 M397,110 C405,118 415,126 426,132" fill="none" stroke="#8a0cb8" stroke-width="2.4" stroke-linecap="round"/>
<clipPath id="cnolb"><path d="M573.0,60.0 C574.7,56.2 577.5,53.7 581.0,52.0 C584.5,50.3 589.8,50.0 594.0,50.0 C598.2,50.0 601.5,50.3 606.0,52.0 C610.5,53.7 616.0,57.0 621.0,60.0 C626.0,63.0 631.8,67.3 636.0,70.0 C640.2,72.7 643.5,74.0 646.0,76.0 C648.5,78.0 649.3,80.5 651.0,82.0 C652.7,83.5 654.0,86.2 656.0,85.0 C658.0,83.8 659.7,77.5 663.0,75.0 C666.3,72.5 670.5,70.8 676.0,70.0 C681.5,69.2 690.2,68.3 696.0,70.0 C701.8,71.7 706.0,77.5 711.0,80.0 C716.0,82.5 721.7,82.2 726.0,85.0 C730.3,87.8 736.2,93.7 737.0,97.0 C737.8,100.3 733.7,102.0 731.0,105.0 C728.3,108.0 722.8,111.7 721.0,115.0 C719.2,118.3 720.0,120.8 720.0,125.0 C720.0,129.2 721.7,135.8 721.0,140.0 C720.3,144.2 718.0,146.7 716.0,150.0 C714.0,153.3 710.3,155.8 709.0,160.0 C707.7,164.2 707.8,170.3 708.0,175.0 C708.2,179.7 708.8,181.3 710.0,188.0 C711.2,194.7 713.3,207.2 715.0,215.0 C716.7,222.8 718.8,229.2 720.0,235.0 C721.2,240.8 722.5,245.8 722.0,250.0 C721.5,254.2 720.7,258.0 717.0,260.0 C713.3,262.0 703.3,260.0 700.0,262.0 C696.7,264.0 699.5,269.0 697.0,272.0 C694.5,275.0 690.3,277.8 685.0,280.0 C679.7,282.2 670.5,284.7 665.0,285.0 C659.5,285.3 654.5,283.7 652.0,282.0 C649.5,280.3 650.8,278.3 650.0,275.0 C649.2,271.7 647.8,265.3 647.0,262.0 C646.2,258.7 647.5,257.5 645.0,255.0 C642.5,252.5 633.7,249.5 632.0,247.0 C630.3,244.5 635.3,242.8 635.0,240.0 C634.7,237.2 630.0,234.2 630.0,230.0 C630.0,225.8 634.7,220.0 635.0,215.0 C635.3,210.0 633.7,203.3 632.0,200.0 C630.3,196.7 626.0,199.2 625.0,195.0 C624.0,190.8 624.3,180.0 626.0,175.0 C627.7,170.0 634.2,168.8 635.0,165.0 C635.8,161.2 632.5,154.8 631.0,152.0 C629.5,149.2 627.7,150.8 626.0,148.0 C624.3,145.2 624.0,139.7 621.0,135.0 C618.0,130.3 611.3,124.7 608.0,120.0 C604.7,115.3 604.7,110.3 601.0,107.0 C597.3,103.7 590.2,102.8 586.0,100.0 C581.8,97.2 578.5,94.2 576.0,90.0 C573.5,85.8 571.5,80.0 571.0,75.0 C570.5,70.0 571.3,63.8 573.0,60.0 Z"/></clipPath>
<path d="M573.0,60.0 C574.7,56.2 577.5,53.7 581.0,52.0 C584.5,50.3 589.8,50.0 594.0,50.0 C598.2,50.0 601.5,50.3 606.0,52.0 C610.5,53.7 616.0,57.0 621.0,60.0 C626.0,63.0 631.8,67.3 636.0,70.0 C640.2,72.7 643.5,74.0 646.0,76.0 C648.5,78.0 649.3,80.5 651.0,82.0 C652.7,83.5 654.0,86.2 656.0,85.0 C658.0,83.8 659.7,77.5 663.0,75.0 C666.3,72.5 670.5,70.8 676.0,70.0 C681.5,69.2 690.2,68.3 696.0,70.0 C701.8,71.7 706.0,77.5 711.0,80.0 C716.0,82.5 721.7,82.2 726.0,85.0 C730.3,87.8 736.2,93.7 737.0,97.0 C737.8,100.3 733.7,102.0 731.0,105.0 C728.3,108.0 722.8,111.7 721.0,115.0 C719.2,118.3 720.0,120.8 720.0,125.0 C720.0,129.2 721.7,135.8 721.0,140.0 C720.3,144.2 718.0,146.7 716.0,150.0 C714.0,153.3 710.3,155.8 709.0,160.0 C707.7,164.2 707.8,170.3 708.0,175.0 C708.2,179.7 708.8,181.3 710.0,188.0 C711.2,194.7 713.3,207.2 715.0,215.0 C716.7,222.8 718.8,229.2 720.0,235.0 C721.2,240.8 722.5,245.8 722.0,250.0 C721.5,254.2 720.7,258.0 717.0,260.0 C713.3,262.0 703.3,260.0 700.0,262.0 C696.7,264.0 699.5,269.0 697.0,272.0 C694.5,275.0 690.3,277.8 685.0,280.0 C679.7,282.2 670.5,284.7 665.0,285.0 C659.5,285.3 654.5,283.7 652.0,282.0 C649.5,280.3 650.8,278.3 650.0,275.0 C649.2,271.7 647.8,265.3 647.0,262.0 C646.2,258.7 647.5,257.5 645.0,255.0 C642.5,252.5 633.7,249.5 632.0,247.0 C630.3,244.5 635.3,242.8 635.0,240.0 C634.7,237.2 630.0,234.2 630.0,230.0 C630.0,225.8 634.7,220.0 635.0,215.0 C635.3,210.0 633.7,203.3 632.0,200.0 C630.3,196.7 626.0,199.2 625.0,195.0 C624.0,190.8 624.3,180.0 626.0,175.0 C627.7,170.0 634.2,168.8 635.0,165.0 C635.8,161.2 632.5,154.8 631.0,152.0 C629.5,149.2 627.7,150.8 626.0,148.0 C624.3,145.2 624.0,139.7 621.0,135.0 C618.0,130.3 611.3,124.7 608.0,120.0 C604.7,115.3 604.7,110.3 601.0,107.0 C597.3,103.7 590.2,102.8 586.0,100.0 C581.8,97.2 578.5,94.2 576.0,90.0 C573.5,85.8 571.5,80.0 571.0,75.0 C570.5,70.0 571.3,63.8 573.0,60.0 Z" fill="#d4d4d4"/>
<g clip-path="url(#cnolb)">
<g fill="url(#cg2)" stroke="#8a8a8a" stroke-width="0.45" opacity="0.55"><ellipse cx="637.0" cy="147.0" rx="2.9" ry="5.0" transform="rotate(96 637.0 147.0)"/><ellipse cx="636.6" cy="149.9" rx="2.9" ry="5.0" transform="rotate(98 636.6 149.9)"/><ellipse cx="636.1" cy="153.8" rx="2.9" ry="5.0" transform="rotate(98 636.1 153.8)"/><ellipse cx="635.7" cy="156.8" rx="2.9" ry="5.0" transform="rotate(98 635.7 156.8)"/><ellipse cx="635.2" cy="160.1" rx="2.9" ry="5.0" transform="rotate(97 635.2 160.1)"/><ellipse cx="634.8" cy="163.6" rx="2.9" ry="5.0" transform="rotate(96 634.8 163.6)"/><ellipse cx="634.5" cy="167.1" rx="2.9" ry="5.0" transform="rotate(95 634.5 167.1)"/><ellipse cx="634.2" cy="170.5" rx="2.9" ry="5.0" transform="rotate(94 634.2 170.5)"/><ellipse cx="634.0" cy="173.9" rx="2.9" ry="5.0" transform="rotate(92 634.0 173.9)"/><ellipse cx="634.0" cy="177.0" rx="2.9" ry="5.0" transform="rotate(89 634.0 177.0)"/><ellipse cx="634.1" cy="180.0" rx="2.9" ry="5.0" transform="rotate(87 634.1 180.0)"/><ellipse cx="634.3" cy="183.0" rx="2.9" ry="5.0" transform="rotate(85 634.3 183.0)"/><ellipse cx="634.6" cy="186.0" rx="2.9" ry="5.0" transform="rotate(83 634.6 186.0)"/><ellipse cx="635.0" cy="189.0" rx="2.9" ry="5.0" transform="rotate(82 635.0 189.0)"/><ellipse cx="635.4" cy="192.0" rx="2.9" ry="5.0" transform="rotate(81 635.4 192.0)"/><ellipse cx="635.9" cy="195.0" rx="2.9" ry="5.0" transform="rotate(81 635.9 195.0)"/><ellipse cx="636.4" cy="198.0" rx="2.9" ry="5.0" transform="rotate(80 636.4 198.0)"/><ellipse cx="637.0" cy="201.0" rx="2.9" ry="5.0" transform="rotate(80 637.0 201.0)"/><ellipse cx="637.5" cy="204.0" rx="2.9" ry="5.0" transform="rotate(80 637.5 204.0)"/><ellipse cx="638.0" cy="207.0" rx="2.9" ry="5.0" transform="rotate(80 638.0 207.0)"/><ellipse cx="638.5" cy="210.0" rx="2.9" ry="5.0" transform="rotate(80 638.5 210.0)"/><ellipse cx="639.0" cy="213.0" rx="2.9" ry="5.0" transform="rotate(80 639.0 213.0)"/><ellipse cx="639.5" cy="215.9" rx="2.9" ry="5.0" transform="rotate(80 639.5 215.9)"/><ellipse cx="640.1" cy="218.9" rx="2.9" ry="5.0" transform="rotate(80 640.1 218.9)"/><ellipse cx="640.6" cy="221.9" rx="2.9" ry="5.0" transform="rotate(79 640.6 221.9)"/><ellipse cx="641.2" cy="224.9" rx="2.9" ry="5.0" transform="rotate(78 641.2 224.9)"/><ellipse cx="641.8" cy="227.9" rx="2.9" ry="5.0" transform="rotate(78 641.8 227.9)"/><ellipse cx="642.5" cy="230.9" rx="2.9" ry="5.0" transform="rotate(77 642.5 230.9)"/><ellipse cx="643.2" cy="233.9" rx="2.9" ry="5.0" transform="rotate(76 643.2 233.9)"/><ellipse cx="644.0" cy="237.0" rx="2.9" ry="5.0" transform="rotate(75 644.0 237.0)"/><ellipse cx="644.9" cy="240.3" rx="2.9" ry="5.0" transform="rotate(74 644.9 240.3)"/><ellipse cx="645.9" cy="243.8" rx="2.9" ry="5.0" transform="rotate(73 645.9 243.8)"/><ellipse cx="647.0" cy="247.5" rx="2.9" ry="5.0" transform="rotate(73 647.0 247.5)"/><ellipse cx="648.2" cy="251.2" rx="2.9" ry="5.0" transform="rotate(72 648.2 251.2)"/><ellipse cx="649.4" cy="254.9" rx="2.9" ry="5.0" transform="rotate(72 649.4 254.9)"/><ellipse cx="650.5" cy="258.4" rx="2.9" ry="5.0" transform="rotate(72 650.5 258.4)"/><ellipse cx="651.6" cy="261.7" rx="2.9" ry="5.0" transform="rotate(72 651.6 261.7)"/><ellipse cx="652.6" cy="264.6" rx="2.9" ry="5.0" transform="rotate(72 652.6 264.6)"/><ellipse cx="653.4" cy="267.1" rx="2.9" ry="5.0" transform="rotate(72 653.4 267.1)"/></g>
<g fill="url(#cg2)" stroke="#8a8a8a" stroke-width="0.45" opacity="0.55"><ellipse cx="650.0" cy="142.0" rx="2.9" ry="5.0" transform="rotate(85 650.0 142.0)"/><ellipse cx="650.3" cy="145.4" rx="2.9" ry="5.0" transform="rotate(85 650.3 145.4)"/><ellipse cx="650.5" cy="148.3" rx="2.9" ry="5.0" transform="rotate(85 650.5 148.3)"/><ellipse cx="650.8" cy="151.7" rx="2.9" ry="5.0" transform="rotate(85 650.8 151.7)"/><ellipse cx="651.1" cy="155.4" rx="2.9" ry="5.0" transform="rotate(85 651.1 155.4)"/><ellipse cx="651.4" cy="159.3" rx="2.9" ry="5.0" transform="rotate(85 651.4 159.3)"/><ellipse cx="651.8" cy="163.4" rx="2.9" ry="5.0" transform="rotate(85 651.8 163.4)"/><ellipse cx="652.1" cy="167.4" rx="2.9" ry="5.0" transform="rotate(85 652.1 167.4)"/><ellipse cx="652.5" cy="171.4" rx="2.9" ry="5.0" transform="rotate(85 652.5 171.4)"/><ellipse cx="652.8" cy="175.2" rx="2.9" ry="5.0" transform="rotate(84 652.8 175.2)"/><ellipse cx="653.2" cy="178.8" rx="2.9" ry="5.0" transform="rotate(84 653.2 178.8)"/><ellipse cx="653.5" cy="182.2" rx="2.9" ry="5.0" transform="rotate(85 653.5 182.2)"/><ellipse cx="653.8" cy="185.8" rx="2.9" ry="5.0" transform="rotate(85 653.8 185.8)"/><ellipse cx="654.2" cy="189.2" rx="2.9" ry="5.0" transform="rotate(85 654.2 189.2)"/><ellipse cx="654.5" cy="192.8" rx="2.9" ry="5.0" transform="rotate(84 654.5 192.8)"/><ellipse cx="654.9" cy="196.2" rx="2.9" ry="5.0" transform="rotate(84 654.9 196.2)"/><ellipse cx="655.3" cy="199.8" rx="2.9" ry="5.0" transform="rotate(83 655.3 199.8)"/><ellipse cx="655.7" cy="203.2" rx="2.9" ry="5.0" transform="rotate(83 655.7 203.2)"/><ellipse cx="656.2" cy="206.8" rx="2.9" ry="5.0" transform="rotate(82 656.2 206.8)"/><ellipse cx="656.7" cy="210.2" rx="2.9" ry="5.0" transform="rotate(81 656.7 210.2)"/><ellipse cx="657.3" cy="213.8" rx="2.9" ry="5.0" transform="rotate(80 657.3 213.8)"/><ellipse cx="658.0" cy="217.3" rx="2.9" ry="5.0" transform="rotate(79 658.0 217.3)"/><ellipse cx="658.7" cy="220.8" rx="2.9" ry="5.0" transform="rotate(78 658.7 220.8)"/><ellipse cx="659.5" cy="224.4" rx="2.9" ry="5.0" transform="rotate(77 659.5 224.4)"/><ellipse cx="660.3" cy="227.9" rx="2.9" ry="5.0" transform="rotate(77 660.3 227.9)"/><ellipse cx="661.2" cy="231.5" rx="2.9" ry="5.0" transform="rotate(76 661.2 231.5)"/><ellipse cx="662.0" cy="235.0" rx="2.9" ry="5.0" transform="rotate(76 662.0 235.0)"/><ellipse cx="662.9" cy="238.5" rx="2.9" ry="5.0" transform="rotate(76 662.9 238.5)"/><ellipse cx="663.8" cy="241.9" rx="2.9" ry="5.0" transform="rotate(76 663.8 241.9)"/><ellipse cx="664.6" cy="245.3" rx="2.9" ry="5.0" transform="rotate(76 664.6 245.3)"/><ellipse cx="665.4" cy="248.7" rx="2.9" ry="5.0" transform="rotate(76 665.4 248.7)"/><ellipse cx="666.3" cy="252.3" rx="2.9" ry="5.0" transform="rotate(76 666.3 252.3)"/><ellipse cx="667.2" cy="256.0" rx="2.9" ry="5.0" transform="rotate(76 667.2 256.0)"/><ellipse cx="668.1" cy="259.7" rx="2.9" ry="5.0" transform="rotate(76 668.1 259.7)"/><ellipse cx="669.0" cy="263.4" rx="2.9" ry="5.0" transform="rotate(76 669.0 263.4)"/><ellipse cx="669.9" cy="266.9" rx="2.9" ry="5.0" transform="rotate(76 669.9 266.9)"/><ellipse cx="670.8" cy="270.3" rx="2.9" ry="5.0" transform="rotate(76 670.8 270.3)"/><ellipse cx="671.6" cy="273.3" rx="2.9" ry="5.0" transform="rotate(76 671.6 273.3)"/><ellipse cx="672.2" cy="276.0" rx="2.9" ry="5.0" transform="rotate(76 672.2 276.0)"/><ellipse cx="673.0" cy="279.0" rx="2.9" ry="5.0" transform="rotate(76 673.0 279.0)"/></g>
<g fill="url(#cg2)" stroke="#8a8a8a" stroke-width="0.45" opacity="0.55"><ellipse cx="665.0" cy="137.0" rx="2.9" ry="5.0" transform="rotate(85 665.0 137.0)"/><ellipse cx="665.3" cy="140.4" rx="2.9" ry="5.0" transform="rotate(86 665.3 140.4)"/><ellipse cx="665.5" cy="143.3" rx="2.9" ry="5.0" transform="rotate(86 665.5 143.3)"/><ellipse cx="665.7" cy="146.7" rx="2.9" ry="5.0" transform="rotate(86 665.7 146.7)"/><ellipse cx="666.0" cy="150.4" rx="2.9" ry="5.0" transform="rotate(86 666.0 150.4)"/><ellipse cx="666.3" cy="154.3" rx="2.9" ry="5.0" transform="rotate(85 666.3 154.3)"/><ellipse cx="666.7" cy="158.4" rx="2.9" ry="5.0" transform="rotate(85 666.7 158.4)"/><ellipse cx="667.0" cy="162.4" rx="2.9" ry="5.0" transform="rotate(85 667.0 162.4)"/><ellipse cx="667.4" cy="166.4" rx="2.9" ry="5.0" transform="rotate(84 667.4 166.4)"/><ellipse cx="667.8" cy="170.2" rx="2.9" ry="5.0" transform="rotate(84 667.8 170.2)"/><ellipse cx="668.2" cy="173.8" rx="2.9" ry="5.0" transform="rotate(83 668.2 173.8)"/><ellipse cx="668.6" cy="177.2" rx="2.9" ry="5.0" transform="rotate(83 668.6 177.2)"/><ellipse cx="669.0" cy="180.8" rx="2.9" ry="5.0" transform="rotate(83 669.0 180.8)"/><ellipse cx="669.5" cy="184.2" rx="2.9" ry="5.0" transform="rotate(83 669.5 184.2)"/><ellipse cx="669.9" cy="187.8" rx="2.9" ry="5.0" transform="rotate(82 669.9 187.8)"/><ellipse cx="670.4" cy="191.2" rx="2.9" ry="5.0" transform="rotate(82 670.4 191.2)"/><ellipse cx="670.9" cy="194.8" rx="2.9" ry="5.0" transform="rotate(81 670.9 194.8)"/><ellipse cx="671.5" cy="198.2" rx="2.9" ry="5.0" transform="rotate(81 671.5 198.2)"/><ellipse cx="672.1" cy="201.8" rx="2.9" ry="5.0" transform="rotate(80 672.1 201.8)"/><ellipse cx="672.7" cy="205.2" rx="2.9" ry="5.0" transform="rotate(80 672.7 205.2)"/><ellipse cx="673.3" cy="208.8" rx="2.9" ry="5.0" transform="rotate(79 673.3 208.8)"/><ellipse cx="674.0" cy="212.3" rx="2.9" ry="5.0" transform="rotate(78 674.0 212.3)"/><ellipse cx="674.8" cy="215.8" rx="2.9" ry="5.0" transform="rotate(78 674.8 215.8)"/><ellipse cx="675.6" cy="219.3" rx="2.9" ry="5.0" transform="rotate(77 675.6 219.3)"/><ellipse cx="676.4" cy="222.9" rx="2.9" ry="5.0" transform="rotate(77 676.4 222.9)"/><ellipse cx="677.2" cy="226.4" rx="2.9" ry="5.0" transform="rotate(77 677.2 226.4)"/><ellipse cx="678.1" cy="229.9" rx="2.9" ry="5.0" transform="rotate(76 678.1 229.9)"/><ellipse cx="678.9" cy="233.4" rx="2.9" ry="5.0" transform="rotate(76 678.9 233.4)"/><ellipse cx="679.8" cy="236.9" rx="2.9" ry="5.0" transform="rotate(76 679.8 236.9)"/><ellipse cx="680.6" cy="240.3" rx="2.9" ry="5.0" transform="rotate(77 680.6 240.3)"/><ellipse cx="681.4" cy="243.7" rx="2.9" ry="5.0" transform="rotate(77 681.4 243.7)"/><ellipse cx="682.3" cy="247.4" rx="2.9" ry="5.0" transform="rotate(77 682.3 247.4)"/><ellipse cx="683.2" cy="251.2" rx="2.9" ry="5.0" transform="rotate(76 683.2 251.2)"/><ellipse cx="684.1" cy="255.0" rx="2.9" ry="5.0" transform="rotate(76 684.1 255.0)"/><ellipse cx="685.0" cy="258.8" rx="2.9" ry="5.0" transform="rotate(76 685.0 258.8)"/><ellipse cx="685.9" cy="262.5" rx="2.9" ry="5.0" transform="rotate(76 685.9 262.5)"/><ellipse cx="686.8" cy="266.0" rx="2.9" ry="5.0" transform="rotate(76 686.8 266.0)"/><ellipse cx="687.6" cy="269.1" rx="2.9" ry="5.0" transform="rotate(76 687.6 269.1)"/><ellipse cx="688.2" cy="271.9" rx="2.9" ry="5.0" transform="rotate(76 688.2 271.9)"/><ellipse cx="689.0" cy="275.0" rx="2.9" ry="5.0" transform="rotate(76 689.0 275.0)"/></g>
<g fill="url(#cg2)" stroke="#8a8a8a" stroke-width="0.45" opacity="0.55"><ellipse cx="681.0" cy="132.0" rx="2.9" ry="5.0" transform="rotate(84 681.0 132.0)"/><ellipse cx="681.4" cy="135.4" rx="2.9" ry="5.0" transform="rotate(84 681.4 135.4)"/><ellipse cx="681.7" cy="138.3" rx="2.9" ry="5.0" transform="rotate(84 681.7 138.3)"/><ellipse cx="682.0" cy="141.7" rx="2.9" ry="5.0" transform="rotate(84 682.0 141.7)"/><ellipse cx="682.4" cy="145.4" rx="2.9" ry="5.0" transform="rotate(84 682.4 145.4)"/><ellipse cx="682.8" cy="149.3" rx="2.9" ry="5.0" transform="rotate(84 682.8 149.3)"/><ellipse cx="683.3" cy="153.4" rx="2.9" ry="5.0" transform="rotate(84 683.3 153.4)"/><ellipse cx="683.8" cy="157.4" rx="2.9" ry="5.0" transform="rotate(83 683.8 157.4)"/><ellipse cx="684.3" cy="161.4" rx="2.9" ry="5.0" transform="rotate(83 684.3 161.4)"/><ellipse cx="684.8" cy="165.2" rx="2.9" ry="5.0" transform="rotate(82 684.8 165.2)"/><ellipse cx="685.3" cy="168.8" rx="2.9" ry="5.0" transform="rotate(82 685.3 168.8)"/><ellipse cx="685.8" cy="172.2" rx="2.9" ry="5.0" transform="rotate(81 685.8 172.2)"/><ellipse cx="686.3" cy="175.8" rx="2.9" ry="5.0" transform="rotate(81 686.3 175.8)"/><ellipse cx="686.9" cy="179.2" rx="2.9" ry="5.0" transform="rotate(81 686.9 179.2)"/><ellipse cx="687.5" cy="182.8" rx="2.9" ry="5.0" transform="rotate(80 687.5 182.8)"/><ellipse cx="688.1" cy="186.2" rx="2.9" ry="5.0" transform="rotate(80 688.1 186.2)"/><ellipse cx="688.7" cy="189.8" rx="2.9" ry="5.0" transform="rotate(80 688.7 189.8)"/><ellipse cx="689.3" cy="193.2" rx="2.9" ry="5.0" transform="rotate(79 689.3 193.2)"/><ellipse cx="690.0" cy="196.8" rx="2.9" ry="5.0" transform="rotate(79 690.0 196.8)"/><ellipse cx="690.7" cy="200.2" rx="2.9" ry="5.0" transform="rotate(79 690.7 200.2)"/><ellipse cx="691.4" cy="203.8" rx="2.9" ry="5.0" transform="rotate(78 691.4 203.8)"/><ellipse cx="692.1" cy="207.3" rx="2.9" ry="5.0" transform="rotate(77 692.1 207.3)"/><ellipse cx="693.0" cy="210.9" rx="2.9" ry="5.0" transform="rotate(77 693.0 210.9)"/><ellipse cx="693.8" cy="214.5" rx="2.9" ry="5.0" transform="rotate(76 693.8 214.5)"/><ellipse cx="694.7" cy="218.1" rx="2.9" ry="5.0" transform="rotate(76 694.7 218.1)"/><ellipse cx="695.6" cy="221.7" rx="2.9" ry="5.0" transform="rotate(76 695.6 221.7)"/><ellipse cx="696.4" cy="225.3" rx="2.9" ry="5.0" transform="rotate(77 696.4 225.3)"/><ellipse cx="697.2" cy="228.7" rx="2.9" ry="5.0" transform="rotate(77 697.2 228.7)"/><ellipse cx="698.0" cy="232.1" rx="2.9" ry="5.0" transform="rotate(78 698.0 232.1)"/><ellipse cx="698.7" cy="235.4" rx="2.9" ry="5.0" transform="rotate(79 698.7 235.4)"/><ellipse cx="699.3" cy="238.6" rx="2.9" ry="5.0" transform="rotate(80 699.3 238.6)"/><ellipse cx="699.9" cy="241.8" rx="2.9" ry="5.0" transform="rotate(81 699.9 241.8)"/><ellipse cx="700.4" cy="245.1" rx="2.9" ry="5.0" transform="rotate(81 700.4 245.1)"/><ellipse cx="700.9" cy="248.4" rx="2.9" ry="5.0" transform="rotate(82 700.9 248.4)"/><ellipse cx="701.3" cy="251.6" rx="2.9" ry="5.0" transform="rotate(82 701.3 251.6)"/><ellipse cx="701.7" cy="254.7" rx="2.9" ry="5.0" transform="rotate(83 701.7 254.7)"/><ellipse cx="702.1" cy="257.5" rx="2.9" ry="5.0" transform="rotate(83 702.1 257.5)"/><ellipse cx="702.4" cy="260.1" rx="2.9" ry="5.0" transform="rotate(83 702.4 260.1)"/><ellipse cx="702.8" cy="263.4" rx="2.9" ry="5.0" transform="rotate(83 702.8 263.4)"/></g>
<g fill="url(#cg2)" stroke="#8a8a8a" stroke-width="0.45" opacity="0.55"><ellipse cx="698.0" cy="132.0" rx="2.9" ry="5.0" transform="rotate(82 698.0 132.0)"/><ellipse cx="698.5" cy="135.4" rx="2.9" ry="5.0" transform="rotate(82 698.5 135.4)"/><ellipse cx="698.9" cy="138.3" rx="2.9" ry="5.0" transform="rotate(82 698.9 138.3)"/><ellipse cx="699.3" cy="141.7" rx="2.9" ry="5.0" transform="rotate(82 699.3 141.7)"/><ellipse cx="699.9" cy="145.4" rx="2.9" ry="5.0" transform="rotate(82 699.9 145.4)"/><ellipse cx="700.4" cy="149.3" rx="2.9" ry="5.0" transform="rotate(82 700.4 149.3)"/><ellipse cx="701.0" cy="153.4" rx="2.9" ry="5.0" transform="rotate(82 701.0 153.4)"/><ellipse cx="701.6" cy="157.4" rx="2.9" ry="5.0" transform="rotate(82 701.6 157.4)"/><ellipse cx="702.1" cy="161.4" rx="2.9" ry="5.0" transform="rotate(82 702.1 161.4)"/><ellipse cx="702.7" cy="165.2" rx="2.9" ry="5.0" transform="rotate(81 702.7 165.2)"/><ellipse cx="703.3" cy="168.8" rx="2.9" ry="5.0" transform="rotate(81 703.3 168.8)"/><ellipse cx="703.8" cy="172.3" rx="2.9" ry="5.0" transform="rotate(81 703.8 172.3)"/><ellipse cx="704.4" cy="175.9" rx="2.9" ry="5.0" transform="rotate(81 704.4 175.9)"/><ellipse cx="705.0" cy="179.4" rx="2.9" ry="5.0" transform="rotate(81 705.0 179.4)"/><ellipse cx="705.6" cy="183.0" rx="2.9" ry="5.0" transform="rotate(81 705.6 183.0)"/><ellipse cx="706.2" cy="186.6" rx="2.9" ry="5.0" transform="rotate(80 706.2 186.6)"/><ellipse cx="706.8" cy="190.1" rx="2.9" ry="5.0" transform="rotate(80 706.8 190.1)"/><ellipse cx="707.4" cy="193.6" rx="2.9" ry="5.0" transform="rotate(80 707.4 193.6)"/><ellipse cx="708.0" cy="197.0" rx="2.9" ry="5.0" transform="rotate(79 708.0 197.0)"/><ellipse cx="708.7" cy="200.4" rx="2.9" ry="5.0" transform="rotate(79 708.7 200.4)"/><ellipse cx="709.3" cy="203.6" rx="2.9" ry="5.0" transform="rotate(78 709.3 203.6)"/><ellipse cx="710.0" cy="206.8" rx="2.9" ry="5.0" transform="rotate(77 710.0 206.8)"/><ellipse cx="710.8" cy="210.0" rx="2.9" ry="5.0" transform="rotate(77 710.8 210.0)"/><ellipse cx="711.5" cy="213.1" rx="2.9" ry="5.0" transform="rotate(76 711.5 213.1)"/><ellipse cx="712.2" cy="216.2" rx="2.9" ry="5.0" transform="rotate(76 712.2 216.2)"/><ellipse cx="713.0" cy="219.3" rx="2.9" ry="5.0" transform="rotate(76 713.0 219.3)"/><ellipse cx="713.7" cy="222.2" rx="2.9" ry="5.0" transform="rotate(76 713.7 222.2)"/><ellipse cx="714.4" cy="225.1" rx="2.9" ry="5.0" transform="rotate(76 714.4 225.1)"/><ellipse cx="715.1" cy="227.9" rx="2.9" ry="5.0" transform="rotate(77 715.1 227.9)"/><ellipse cx="715.7" cy="230.7" rx="2.9" ry="5.0" transform="rotate(78 715.7 230.7)"/><ellipse cx="716.3" cy="233.3" rx="2.9" ry="5.0" transform="rotate(79 716.3 233.3)"/><ellipse cx="716.8" cy="236.0" rx="2.9" ry="5.0" transform="rotate(79 716.8 236.0)"/><ellipse cx="717.3" cy="238.8" rx="2.9" ry="5.0" transform="rotate(80 717.3 238.8)"/><ellipse cx="717.8" cy="241.5" rx="2.9" ry="5.0" transform="rotate(80 717.8 241.5)"/><ellipse cx="718.2" cy="244.1" rx="2.9" ry="5.0" transform="rotate(81 718.2 244.1)"/><ellipse cx="718.8" cy="247.8" rx="2.9" ry="5.0" transform="rotate(81 718.8 247.8)"/><ellipse cx="719.4" cy="251.0" rx="2.9" ry="5.0" transform="rotate(81 719.4 251.0)"/><ellipse cx="719.8" cy="253.7" rx="2.9" ry="5.0" transform="rotate(81 719.8 253.7)"/></g>
<g fill="url(#cg2)" stroke="#8a8a8a" stroke-width="0.45" opacity="0.55"><ellipse cx="713.0" cy="125.0" rx="2.9" ry="5.0" transform="rotate(85 713.0 125.0)"/><ellipse cx="713.3" cy="128.1" rx="2.9" ry="5.0" transform="rotate(84 713.3 128.1)"/><ellipse cx="713.6" cy="130.8" rx="2.9" ry="5.0" transform="rotate(84 713.6 130.8)"/><ellipse cx="713.9" cy="133.9" rx="2.9" ry="5.0" transform="rotate(84 713.9 133.9)"/><ellipse cx="714.3" cy="137.3" rx="2.9" ry="5.0" transform="rotate(84 714.3 137.3)"/><ellipse cx="714.6" cy="141.0" rx="2.9" ry="5.0" transform="rotate(84 714.6 141.0)"/><ellipse cx="715.0" cy="144.7" rx="2.9" ry="5.0" transform="rotate(85 715.0 144.7)"/><ellipse cx="715.3" cy="148.4" rx="2.9" ry="5.0" transform="rotate(85 715.3 148.4)"/><ellipse cx="715.6" cy="152.0" rx="2.9" ry="5.0" transform="rotate(85 715.6 152.0)"/><ellipse cx="715.9" cy="155.4" rx="2.9" ry="5.0" transform="rotate(86 715.9 155.4)"/><ellipse cx="716.1" cy="158.5" rx="2.9" ry="5.0" transform="rotate(87 716.1 158.5)"/><ellipse cx="716.2" cy="161.6" rx="2.9" ry="5.0" transform="rotate(88 716.2 161.6)"/><ellipse cx="716.3" cy="164.6" rx="2.9" ry="5.0" transform="rotate(89 716.3 164.6)"/><ellipse cx="716.4" cy="167.6" rx="2.9" ry="5.0" transform="rotate(89 716.4 167.6)"/><ellipse cx="716.4" cy="170.5" rx="2.9" ry="5.0" transform="rotate(89 716.4 170.5)"/><ellipse cx="716.5" cy="173.5" rx="2.9" ry="5.0" transform="rotate(89 716.5 173.5)"/><ellipse cx="716.5" cy="176.4" rx="2.9" ry="5.0" transform="rotate(89 716.5 176.4)"/><ellipse cx="716.6" cy="179.4" rx="2.9" ry="5.0" transform="rotate(88 716.6 179.4)"/><ellipse cx="716.7" cy="182.4" rx="2.9" ry="5.0" transform="rotate(87 716.7 182.4)"/><ellipse cx="716.9" cy="185.5" rx="2.9" ry="5.0" transform="rotate(86 716.9 185.5)"/><ellipse cx="717.1" cy="188.6" rx="2.9" ry="5.0" transform="rotate(85 717.1 188.6)"/><ellipse cx="717.5" cy="192.0" rx="2.9" ry="5.0" transform="rotate(84 717.5 192.0)"/><ellipse cx="717.9" cy="195.6" rx="2.9" ry="5.0" transform="rotate(83 717.9 195.6)"/><ellipse cx="718.3" cy="199.3" rx="2.9" ry="5.0" transform="rotate(83 718.3 199.3)"/><ellipse cx="718.8" cy="203.0" rx="2.9" ry="5.0" transform="rotate(82 718.8 203.0)"/><ellipse cx="719.3" cy="206.7" rx="2.9" ry="5.0" transform="rotate(82 719.3 206.7)"/><ellipse cx="719.8" cy="210.1" rx="2.9" ry="5.0" transform="rotate(82 719.8 210.1)"/><ellipse cx="720.2" cy="213.2" rx="2.9" ry="5.0" transform="rotate(82 720.2 213.2)"/><ellipse cx="720.6" cy="215.9" rx="2.9" ry="5.0" transform="rotate(82 720.6 215.9)"/><ellipse cx="721.0" cy="219.0" rx="2.9" ry="5.0" transform="rotate(83 721.0 219.0)"/></g>
<g fill="url(#cg2)" stroke="#8a8a8a" stroke-width="0.45" opacity="0.55"><ellipse cx="652.0" cy="261.0" rx="2.9" ry="5.0" transform="rotate(25 652.0 261.0)"/><ellipse cx="655.0" cy="262.4" rx="2.9" ry="5.0" transform="rotate(26 655.0 262.4)"/><ellipse cx="658.1" cy="264.0" rx="2.9" ry="5.0" transform="rotate(26 658.1 264.0)"/><ellipse cx="661.6" cy="265.7" rx="2.9" ry="5.0" transform="rotate(26 661.6 265.7)"/><ellipse cx="664.1" cy="266.9" rx="2.9" ry="5.0" transform="rotate(25 664.1 266.9)"/><ellipse cx="666.7" cy="268.1" rx="2.9" ry="5.0" transform="rotate(24 666.7 268.1)"/><ellipse cx="669.2" cy="269.2" rx="2.9" ry="5.0" transform="rotate(23 669.2 269.2)"/><ellipse cx="671.7" cy="270.2" rx="2.9" ry="5.0" transform="rotate(21 671.7 270.2)"/><ellipse cx="675.1" cy="271.4" rx="2.9" ry="5.0" transform="rotate(18 675.1 271.4)"/><ellipse cx="678.8" cy="272.4" rx="2.9" ry="5.0" transform="rotate(15 678.8 272.4)"/><ellipse cx="681.3" cy="273.0" rx="2.9" ry="5.0" transform="rotate(13 681.3 273.0)"/><ellipse cx="683.9" cy="273.6" rx="2.9" ry="5.0" transform="rotate(12 683.9 273.6)"/><ellipse cx="687.6" cy="274.4" rx="2.9" ry="5.0" transform="rotate(11 687.6 274.4)"/><ellipse cx="691.0" cy="275.0" rx="2.9" ry="5.0" transform="rotate(11 691.0 275.0)"/><ellipse cx="693.9" cy="275.6" rx="2.9" ry="5.0" transform="rotate(11 693.9 275.6)"/></g>
<g fill="url(#cg2)" stroke="#8a8a8a" stroke-width="0.45" opacity="0.55"><ellipse cx="659.0" cy="281.0" rx="2.9" ry="5.0" transform="rotate(10 659.0 281.0)"/><ellipse cx="661.9" cy="281.6" rx="2.9" ry="5.0" transform="rotate(14 661.9 281.6)"/><ellipse cx="664.8" cy="282.4" rx="2.9" ry="5.0" transform="rotate(14 664.8 282.4)"/><ellipse cx="668.2" cy="283.2" rx="2.9" ry="5.0" transform="rotate(12 668.2 283.2)"/><ellipse cx="671.9" cy="283.9" rx="2.9" ry="5.0" transform="rotate(9 671.9 283.9)"/><ellipse cx="675.5" cy="284.2" rx="2.9" ry="5.0" transform="rotate(3 675.5 284.2)"/><ellipse cx="678.9" cy="284.2" rx="2.9" ry="5.0" transform="rotate(-7 678.9 284.2)"/><ellipse cx="682.1" cy="283.4" rx="2.9" ry="5.0" transform="rotate(-19 682.1 283.4)"/><ellipse cx="685.5" cy="282.0" rx="2.9" ry="5.0" transform="rotate(-26 685.5 282.0)"/><ellipse cx="687.9" cy="280.7" rx="2.9" ry="5.0" transform="rotate(-29 687.9 280.7)"/><ellipse cx="690.2" cy="279.4" rx="2.9" ry="5.0" transform="rotate(-31 690.2 279.4)"/><ellipse cx="692.4" cy="278.0" rx="2.9" ry="5.0" transform="rotate(-33 692.4 278.0)"/><ellipse cx="695.5" cy="275.9" rx="2.9" ry="5.0" transform="rotate(-34 695.5 275.9)"/><ellipse cx="698.1" cy="274.2" rx="2.9" ry="5.0" transform="rotate(-33 698.1 274.2)"/></g>
<g fill="url(#cg2)" stroke="#8a8a8a" stroke-width="0.45" opacity="0.55"><ellipse cx="614.0" cy="118.0" rx="2.9" ry="5.0" transform="rotate(-11 614.0 118.0)"/><ellipse cx="617.5" cy="117.3" rx="2.9" ry="5.0" transform="rotate(-12 617.5 117.3)"/><ellipse cx="621.2" cy="116.5" rx="2.9" ry="5.0" transform="rotate(-12 621.2 116.5)"/><ellipse cx="623.9" cy="116.0" rx="2.9" ry="5.0" transform="rotate(-11 623.9 116.0)"/><ellipse cx="626.9" cy="115.4" rx="2.9" ry="5.0" transform="rotate(-11 626.9 115.4)"/><ellipse cx="629.9" cy="114.8" rx="2.9" ry="5.0" transform="rotate(-11 629.9 114.8)"/><ellipse cx="632.9" cy="114.2" rx="2.9" ry="5.0" transform="rotate(-11 632.9 114.2)"/><ellipse cx="635.9" cy="113.7" rx="2.9" ry="5.0" transform="rotate(-10 635.9 113.7)"/><ellipse cx="638.7" cy="113.2" rx="2.9" ry="5.0" transform="rotate(-9 638.7 113.2)"/><ellipse cx="641.3" cy="112.8" rx="2.9" ry="5.0" transform="rotate(-9 641.3 112.8)"/><ellipse cx="645.1" cy="112.2" rx="2.9" ry="5.0" transform="rotate(-8 645.1 112.2)"/><ellipse cx="648.9" cy="111.7" rx="2.9" ry="5.0" transform="rotate(-7 648.9 111.7)"/><ellipse cx="652.8" cy="111.2" rx="2.9" ry="5.0" transform="rotate(-7 652.8 111.2)"/><ellipse cx="656.6" cy="110.8" rx="2.9" ry="5.0" transform="rotate(-6 656.6 110.8)"/><ellipse cx="659.2" cy="110.6" rx="2.9" ry="5.0" transform="rotate(-5 659.2 110.6)"/><ellipse cx="661.9" cy="110.3" rx="2.9" ry="5.0" transform="rotate(-5 661.9 110.3)"/><ellipse cx="664.6" cy="110.1" rx="2.9" ry="5.0" transform="rotate(-4 664.6 110.1)"/><ellipse cx="667.4" cy="109.9" rx="2.9" ry="5.0" transform="rotate(-3 667.4 109.9)"/><ellipse cx="670.3" cy="109.8" rx="2.9" ry="5.0" transform="rotate(-2 670.3 109.8)"/><ellipse cx="673.2" cy="109.7" rx="2.9" ry="5.0" transform="rotate(-1 673.2 109.7)"/><ellipse cx="676.2" cy="109.6" rx="2.9" ry="5.0" transform="rotate(-1 676.2 109.6)"/><ellipse cx="679.2" cy="109.6" rx="2.9" ry="5.0" transform="rotate(-1 679.2 109.6)"/><ellipse cx="682.3" cy="109.5" rx="2.9" ry="5.0" transform="rotate(-1 682.3 109.5)"/><ellipse cx="685.3" cy="109.5" rx="2.9" ry="5.0" transform="rotate(-1 685.3 109.5)"/><ellipse cx="688.4" cy="109.4" rx="2.9" ry="5.0" transform="rotate(-2 688.4 109.4)"/><ellipse cx="691.5" cy="109.3" rx="2.9" ry="5.0" transform="rotate(-3 691.5 109.3)"/><ellipse cx="694.5" cy="109.1" rx="2.9" ry="5.0" transform="rotate(-4 694.5 109.1)"/><ellipse cx="697.5" cy="108.9" rx="2.9" ry="5.0" transform="rotate(-5 697.5 108.9)"/><ellipse cx="700.8" cy="108.5" rx="2.9" ry="5.0" transform="rotate(-6 700.8 108.5)"/><ellipse cx="704.2" cy="108.1" rx="2.9" ry="5.0" transform="rotate(-7 704.2 108.1)"/><ellipse cx="707.7" cy="107.7" rx="2.9" ry="5.0" transform="rotate(-8 707.7 107.7)"/><ellipse cx="711.2" cy="107.2" rx="2.9" ry="5.0" transform="rotate(-8 711.2 107.2)"/><ellipse cx="714.5" cy="106.7" rx="2.9" ry="5.0" transform="rotate(-8 714.5 106.7)"/><ellipse cx="717.7" cy="106.2" rx="2.9" ry="5.0" transform="rotate(-9 717.7 106.2)"/><ellipse cx="720.6" cy="105.8" rx="2.9" ry="5.0" transform="rotate(-9 720.6 105.8)"/><ellipse cx="724.2" cy="105.3" rx="2.9" ry="5.0" transform="rotate(-8 724.2 105.3)"/></g>
<g fill="url(#cg2)" stroke="#8a8a8a" stroke-width="0.45" opacity="0.55"><ellipse cx="620.0" cy="133.0" rx="2.9" ry="5.0" transform="rotate(-12 620.0 133.0)"/><ellipse cx="623.2" cy="132.3" rx="2.9" ry="5.0" transform="rotate(-13 623.2 132.3)"/><ellipse cx="626.5" cy="131.5" rx="2.9" ry="5.0" transform="rotate(-13 626.5 131.5)"/><ellipse cx="630.4" cy="130.6" rx="2.9" ry="5.0" transform="rotate(-13 630.4 130.6)"/><ellipse cx="633.1" cy="130.0" rx="2.9" ry="5.0" transform="rotate(-12 633.1 130.0)"/><ellipse cx="635.9" cy="129.4" rx="2.9" ry="5.0" transform="rotate(-12 635.9 129.4)"/><ellipse cx="638.7" cy="128.9" rx="2.9" ry="5.0" transform="rotate(-11 638.7 128.9)"/><ellipse cx="641.4" cy="128.4" rx="2.9" ry="5.0" transform="rotate(-10 641.4 128.4)"/><ellipse cx="644.0" cy="128.0" rx="2.9" ry="5.0" transform="rotate(-8 644.0 128.0)"/><ellipse cx="647.8" cy="127.5" rx="2.9" ry="5.0" transform="rotate(-6 647.8 127.5)"/><ellipse cx="651.6" cy="127.2" rx="2.9" ry="5.0" transform="rotate(-5 651.6 127.2)"/><ellipse cx="655.4" cy="126.9" rx="2.9" ry="5.0" transform="rotate(-4 655.4 126.9)"/><ellipse cx="659.3" cy="126.7" rx="2.9" ry="5.0" transform="rotate(-3 659.3 126.7)"/><ellipse cx="661.9" cy="126.5" rx="2.9" ry="5.0" transform="rotate(-3 661.9 126.5)"/><ellipse cx="664.6" cy="126.4" rx="2.9" ry="5.0" transform="rotate(-3 664.6 126.4)"/><ellipse cx="667.3" cy="126.2" rx="2.9" ry="5.0" transform="rotate(-4 667.3 126.2)"/><ellipse cx="670.0" cy="126.0" rx="2.9" ry="5.0" transform="rotate(-4 670.0 126.0)"/><ellipse cx="672.8" cy="125.8" rx="2.9" ry="5.0" transform="rotate(-4 672.8 125.8)"/><ellipse cx="675.6" cy="125.6" rx="2.9" ry="5.0" transform="rotate(-4 675.6 125.6)"/><ellipse cx="678.5" cy="125.4" rx="2.9" ry="5.0" transform="rotate(-4 678.5 125.4)"/><ellipse cx="681.5" cy="125.2" rx="2.9" ry="5.0" transform="rotate(-4 681.5 125.2)"/><ellipse cx="684.4" cy="124.9" rx="2.9" ry="5.0" transform="rotate(-4 684.4 124.9)"/><ellipse cx="687.4" cy="124.7" rx="2.9" ry="5.0" transform="rotate(-4 687.4 124.7)"/><ellipse cx="690.4" cy="124.5" rx="2.9" ry="5.0" transform="rotate(-4 690.4 124.5)"/><ellipse cx="693.3" cy="124.3" rx="2.9" ry="5.0" transform="rotate(-4 693.3 124.3)"/><ellipse cx="696.2" cy="124.2" rx="2.9" ry="5.0" transform="rotate(-3 696.2 124.2)"/><ellipse cx="699.0" cy="124.0" rx="2.9" ry="5.0" transform="rotate(-3 699.0 124.0)"/><ellipse cx="701.9" cy="123.9" rx="2.9" ry="5.0" transform="rotate(-3 701.9 123.9)"/><ellipse cx="705.0" cy="123.7" rx="2.9" ry="5.0" transform="rotate(-2 705.0 123.7)"/><ellipse cx="708.1" cy="123.6" rx="2.9" ry="5.0" transform="rotate(-2 708.1 123.6)"/><ellipse cx="711.2" cy="123.5" rx="2.9" ry="5.0" transform="rotate(-2 711.2 123.5)"/><ellipse cx="714.3" cy="123.4" rx="2.9" ry="5.0" transform="rotate(-2 714.3 123.4)"/><ellipse cx="717.2" cy="123.3" rx="2.9" ry="5.0" transform="rotate(-2 717.2 123.3)"/><ellipse cx="719.9" cy="123.2" rx="2.9" ry="5.0" transform="rotate(-2 719.9 123.2)"/><ellipse cx="723.4" cy="123.1" rx="2.9" ry="5.0" transform="rotate(-2 723.4 123.1)"/></g>
<g fill="url(#cg2)" stroke="#8a8a8a" stroke-width="0.45" opacity="0.55"><ellipse cx="630.0" cy="97.0" rx="2.9" ry="5.0" transform="rotate(-11 630.0 97.0)"/><ellipse cx="633.5" cy="96.3" rx="2.9" ry="5.0" transform="rotate(-12 633.5 96.3)"/><ellipse cx="637.0" cy="95.5" rx="2.9" ry="5.0" transform="rotate(-12 637.0 95.5)"/><ellipse cx="639.7" cy="95.0" rx="2.9" ry="5.0" transform="rotate(-12 639.7 95.0)"/><ellipse cx="642.6" cy="94.4" rx="2.9" ry="5.0" transform="rotate(-11 642.6 94.4)"/><ellipse cx="645.6" cy="93.8" rx="2.9" ry="5.0" transform="rotate(-11 645.6 93.8)"/><ellipse cx="648.6" cy="93.2" rx="2.9" ry="5.0" transform="rotate(-10 648.6 93.2)"/><ellipse cx="651.6" cy="92.7" rx="2.9" ry="5.0" transform="rotate(-10 651.6 92.7)"/><ellipse cx="654.6" cy="92.2" rx="2.9" ry="5.0" transform="rotate(-9 654.6 92.2)"/><ellipse cx="657.4" cy="91.8" rx="2.9" ry="5.0" transform="rotate(-8 657.4 91.8)"/><ellipse cx="660.3" cy="91.4" rx="2.9" ry="5.0" transform="rotate(-7 660.3 91.4)"/><ellipse cx="663.2" cy="91.1" rx="2.9" ry="5.0" transform="rotate(-6 663.2 91.1)"/><ellipse cx="666.2" cy="90.8" rx="2.9" ry="5.0" transform="rotate(-6 666.2 90.8)"/><ellipse cx="669.2" cy="90.5" rx="2.9" ry="5.0" transform="rotate(-6 669.2 90.5)"/><ellipse cx="672.3" cy="90.2" rx="2.9" ry="5.0" transform="rotate(-5 672.3 90.2)"/><ellipse cx="675.3" cy="89.9" rx="2.9" ry="5.0" transform="rotate(-5 675.3 89.9)"/><ellipse cx="678.4" cy="89.6" rx="2.9" ry="5.0" transform="rotate(-5 678.4 89.6)"/><ellipse cx="681.5" cy="89.4" rx="2.9" ry="5.0" transform="rotate(-5 681.5 89.4)"/><ellipse cx="684.5" cy="89.1" rx="2.9" ry="5.0" transform="rotate(-5 684.5 89.1)"/><ellipse cx="687.5" cy="88.9" rx="2.9" ry="5.0" transform="rotate(-5 687.5 88.9)"/><ellipse cx="690.6" cy="88.6" rx="2.9" ry="5.0" transform="rotate(-6 690.6 88.6)"/><ellipse cx="693.7" cy="88.2" rx="2.9" ry="5.0" transform="rotate(-7 693.7 88.2)"/><ellipse cx="696.8" cy="87.8" rx="2.9" ry="5.0" transform="rotate(-7 696.8 87.8)"/><ellipse cx="699.9" cy="87.5" rx="2.9" ry="5.0" transform="rotate(-6 699.9 87.5)"/><ellipse cx="703.0" cy="87.2" rx="2.9" ry="5.0" transform="rotate(-5 703.0 87.2)"/><ellipse cx="706.0" cy="86.9" rx="2.9" ry="5.0" transform="rotate(-4 706.0 86.9)"/><ellipse cx="709.0" cy="86.8" rx="2.9" ry="5.0" transform="rotate(-2 709.0 86.8)"/><ellipse cx="711.9" cy="86.7" rx="2.9" ry="5.0" transform="rotate(1 711.9 86.7)"/><ellipse cx="714.7" cy="86.9" rx="2.9" ry="5.0" transform="rotate(4 714.7 86.9)"/><ellipse cx="717.3" cy="87.2" rx="2.9" ry="5.0" transform="rotate(9 717.3 87.2)"/><ellipse cx="720.0" cy="87.7" rx="2.9" ry="5.0" transform="rotate(14 720.0 87.7)"/><ellipse cx="722.8" cy="88.5" rx="2.9" ry="5.0" transform="rotate(17 722.8 88.5)"/><ellipse cx="725.5" cy="89.4" rx="2.9" ry="5.0" transform="rotate(20 725.5 89.4)"/><ellipse cx="728.1" cy="90.4" rx="2.9" ry="5.0" transform="rotate(21 728.1 90.4)"/><ellipse cx="730.6" cy="91.4" rx="2.9" ry="5.0" transform="rotate(23 730.6 91.4)"/><ellipse cx="734.0" cy="92.9" rx="2.9" ry="5.0" transform="rotate(24 734.0 92.9)"/><ellipse cx="736.9" cy="94.1" rx="2.9" ry="5.0" transform="rotate(23 736.9 94.1)"/></g>
<g fill="url(#cg2)" stroke="#8a8a8a" stroke-width="0.45" opacity="0.55"><ellipse cx="664.0" cy="77.0" rx="2.9" ry="5.0" transform="rotate(-6 664.0 77.0)"/><ellipse cx="666.9" cy="76.6" rx="2.9" ry="5.0" transform="rotate(-8 666.9 76.6)"/><ellipse cx="669.5" cy="76.2" rx="2.9" ry="5.0" transform="rotate(-9 669.5 76.2)"/><ellipse cx="672.4" cy="75.8" rx="2.9" ry="5.0" transform="rotate(-9 672.4 75.8)"/><ellipse cx="675.7" cy="75.3" rx="2.9" ry="5.0" transform="rotate(-8 675.7 75.3)"/><ellipse cx="679.1" cy="74.8" rx="2.9" ry="5.0" transform="rotate(-7 679.1 74.8)"/><ellipse cx="682.6" cy="74.4" rx="2.9" ry="5.0" transform="rotate(-6 682.6 74.4)"/><ellipse cx="686.1" cy="74.1" rx="2.9" ry="5.0" transform="rotate(-4 686.1 74.1)"/><ellipse cx="689.4" cy="73.9" rx="2.9" ry="5.0" transform="rotate(-2 689.4 73.9)"/><ellipse cx="692.6" cy="73.9" rx="2.9" ry="5.0" transform="rotate(2 692.6 73.9)"/><ellipse cx="695.4" cy="74.1" rx="2.9" ry="5.0" transform="rotate(6 695.4 74.1)"/><ellipse cx="698.4" cy="74.6" rx="2.9" ry="5.0" transform="rotate(10 698.4 74.6)"/><ellipse cx="701.4" cy="75.2" rx="2.9" ry="5.0" transform="rotate(13 701.4 75.2)"/><ellipse cx="704.4" cy="76.0" rx="2.9" ry="5.0" transform="rotate(15 704.4 76.0)"/><ellipse cx="707.4" cy="76.9" rx="2.9" ry="5.0" transform="rotate(17 707.4 76.9)"/><ellipse cx="710.3" cy="77.8" rx="2.9" ry="5.0" transform="rotate(18 710.3 77.8)"/><ellipse cx="713.0" cy="78.7" rx="2.9" ry="5.0" transform="rotate(19 713.0 78.7)"/><ellipse cx="716.5" cy="79.9" rx="2.9" ry="5.0" transform="rotate(19 716.5 79.9)"/><ellipse cx="719.3" cy="80.8" rx="2.9" ry="5.0" transform="rotate(17 719.3 80.8)"/></g>
<g fill="url(#cg2)" stroke="#8a8a8a" stroke-width="0.45" opacity="0.55"><ellipse cx="582.0" cy="82.0" rx="2.9" ry="5.0" transform="rotate(-58 582.0 82.0)"/><ellipse cx="583.7" cy="79.1" rx="2.9" ry="5.0" transform="rotate(-61 583.7 79.1)"/><ellipse cx="585.0" cy="76.7" rx="2.9" ry="5.0" transform="rotate(-60 585.0 76.7)"/><ellipse cx="586.5" cy="74.1" rx="2.9" ry="5.0" transform="rotate(-59 586.5 74.1)"/><ellipse cx="588.2" cy="71.5" rx="2.9" ry="5.0" transform="rotate(-55 588.2 71.5)"/><ellipse cx="590.1" cy="69.0" rx="2.9" ry="5.0" transform="rotate(-50 590.1 69.0)"/><ellipse cx="592.0" cy="67.0" rx="2.9" ry="5.0" transform="rotate(-42 592.0 67.0)"/><ellipse cx="594.0" cy="65.3" rx="2.9" ry="5.0" transform="rotate(-37 594.0 65.3)"/><ellipse cx="596.2" cy="63.8" rx="2.9" ry="5.0" transform="rotate(-32 596.2 63.8)"/><ellipse cx="598.6" cy="62.5" rx="2.9" ry="5.0" transform="rotate(-28 598.6 62.5)"/><ellipse cx="601.0" cy="61.3" rx="2.9" ry="5.0" transform="rotate(-24 601.0 61.3)"/><ellipse cx="603.6" cy="60.3" rx="2.9" ry="5.0" transform="rotate(-20 603.6 60.3)"/><ellipse cx="606.2" cy="59.4" rx="2.9" ry="5.0" transform="rotate(-15 606.2 59.4)"/><ellipse cx="608.9" cy="58.8" rx="2.9" ry="5.0" transform="rotate(-11 608.9 58.8)"/><ellipse cx="611.8" cy="58.4" rx="2.9" ry="5.0" transform="rotate(-7 611.8 58.4)"/><ellipse cx="614.9" cy="58.1" rx="2.9" ry="5.0" transform="rotate(-3 614.9 58.1)"/><ellipse cx="618.0" cy="58.0" rx="2.9" ry="5.0" transform="rotate(-0 618.0 58.0)"/><ellipse cx="621.1" cy="58.1" rx="2.9" ry="5.0" transform="rotate(3 621.1 58.1)"/><ellipse cx="624.2" cy="58.4" rx="2.9" ry="5.0" transform="rotate(7 624.2 58.4)"/><ellipse cx="627.1" cy="58.8" rx="2.9" ry="5.0" transform="rotate(11 627.1 58.8)"/><ellipse cx="629.8" cy="59.5" rx="2.9" ry="5.0" transform="rotate(18 629.8 59.5)"/><ellipse cx="632.7" cy="60.6" rx="2.9" ry="5.0" transform="rotate(24 632.7 60.6)"/><ellipse cx="635.5" cy="62.0" rx="2.9" ry="5.0" transform="rotate(28 635.5 62.0)"/><ellipse cx="638.1" cy="63.5" rx="2.9" ry="5.0" transform="rotate(30 638.1 63.5)"/><ellipse cx="640.5" cy="64.9" rx="2.9" ry="5.0" transform="rotate(31 640.5 64.9)"/><ellipse cx="643.1" cy="66.5" rx="2.9" ry="5.0" transform="rotate(30 643.1 66.5)"/></g>
<g fill="url(#cg2)" stroke="#8a8a8a" stroke-width="0.45" opacity="0.55"><ellipse cx="588.0" cy="95.0" rx="2.9" ry="5.0" transform="rotate(-37 588.0 95.0)"/><ellipse cx="590.1" cy="93.3" rx="2.9" ry="5.0" transform="rotate(-39 590.1 93.3)"/><ellipse cx="592.3" cy="91.5" rx="2.9" ry="5.0" transform="rotate(-39 592.3 91.5)"/><ellipse cx="594.9" cy="89.5" rx="2.9" ry="5.0" transform="rotate(-38 594.9 89.5)"/><ellipse cx="597.6" cy="87.4" rx="2.9" ry="5.0" transform="rotate(-37 597.6 87.4)"/><ellipse cx="600.4" cy="85.3" rx="2.9" ry="5.0" transform="rotate(-35 600.4 85.3)"/><ellipse cx="603.1" cy="83.5" rx="2.9" ry="5.0" transform="rotate(-32 603.1 83.5)"/><ellipse cx="605.7" cy="82.0" rx="2.9" ry="5.0" transform="rotate(-30 605.7 82.0)"/><ellipse cx="608.3" cy="80.5" rx="2.9" ry="5.0" transform="rotate(-30 608.3 80.5)"/><ellipse cx="611.0" cy="79.0" rx="2.9" ry="5.0" transform="rotate(-28 611.0 79.0)"/><ellipse cx="613.7" cy="77.7" rx="2.9" ry="5.0" transform="rotate(-25 613.7 77.7)"/><ellipse cx="616.4" cy="76.5" rx="2.9" ry="5.0" transform="rotate(-21 616.4 76.5)"/><ellipse cx="619.2" cy="75.6" rx="2.9" ry="5.0" transform="rotate(-16 619.2 75.6)"/><ellipse cx="622.0" cy="75.0" rx="2.9" ry="5.0" transform="rotate(-9 622.0 75.0)"/><ellipse cx="625.1" cy="74.8" rx="2.9" ry="5.0" transform="rotate(-0 625.1 74.8)"/><ellipse cx="628.5" cy="74.9" rx="2.9" ry="5.0" transform="rotate(5 628.5 74.9)"/><ellipse cx="632.0" cy="75.3" rx="2.9" ry="5.0" transform="rotate(8 632.0 75.3)"/><ellipse cx="635.3" cy="75.9" rx="2.9" ry="5.0" transform="rotate(10 635.3 75.9)"/><ellipse cx="638.4" cy="76.4" rx="2.9" ry="5.0" transform="rotate(10 638.4 76.4)"/><ellipse cx="641.4" cy="76.9" rx="2.9" ry="5.0" transform="rotate(8 641.4 76.9)"/></g>
<g fill="url(#cg2)" stroke="#8a8a8a" stroke-width="0.45" opacity="0.55"><ellipse cx="604.0" cy="107.0" rx="2.9" ry="5.0" transform="rotate(-46 604.0 107.0)"/><ellipse cx="606.0" cy="104.7" rx="2.9" ry="5.0" transform="rotate(-50 606.0 104.7)"/><ellipse cx="608.2" cy="102.0" rx="2.9" ry="5.0" transform="rotate(-49 608.2 102.0)"/><ellipse cx="610.2" cy="99.9" rx="2.9" ry="5.0" transform="rotate(-47 610.2 99.9)"/><ellipse cx="612.3" cy="97.8" rx="2.9" ry="5.0" transform="rotate(-42 612.3 97.8)"/><ellipse cx="614.5" cy="96.0" rx="2.9" ry="5.0" transform="rotate(-36 614.5 96.0)"/><ellipse cx="616.8" cy="94.6" rx="2.9" ry="5.0" transform="rotate(-28 616.8 94.6)"/><ellipse cx="619.2" cy="93.4" rx="2.9" ry="5.0" transform="rotate(-23 619.2 93.4)"/><ellipse cx="621.8" cy="92.4" rx="2.9" ry="5.0" transform="rotate(-19 621.8 92.4)"/><ellipse cx="624.5" cy="91.6" rx="2.9" ry="5.0" transform="rotate(-15 624.5 91.6)"/><ellipse cx="627.3" cy="90.9" rx="2.9" ry="5.0" transform="rotate(-12 627.3 90.9)"/><ellipse cx="630.2" cy="90.4" rx="2.9" ry="5.0" transform="rotate(-8 630.2 90.4)"/><ellipse cx="633.0" cy="90.1" rx="2.9" ry="5.0" transform="rotate(-4 633.0 90.1)"/><ellipse cx="636.0" cy="90.0" rx="2.9" ry="5.0" transform="rotate(2 636.0 90.0)"/><ellipse cx="639.3" cy="90.3" rx="2.9" ry="5.0" transform="rotate(7 639.3 90.3)"/><ellipse cx="642.8" cy="90.8" rx="2.9" ry="5.0" transform="rotate(10 642.8 90.8)"/><ellipse cx="646.2" cy="91.4" rx="2.9" ry="5.0" transform="rotate(11 646.2 91.4)"/><ellipse cx="649.4" cy="92.1" rx="2.9" ry="5.0" transform="rotate(12 649.4 92.1)"/><ellipse cx="652.1" cy="92.6" rx="2.9" ry="5.0" transform="rotate(12 652.1 92.6)"/></g>
<g fill="url(#cg2)" stroke="#8a8a8a" stroke-width="0.45" opacity="0.55"><ellipse cx="644.0" cy="143.0" rx="2.9" ry="5.0" transform="rotate(-7 644.0 143.0)"/><ellipse cx="647.4" cy="142.6" rx="2.9" ry="5.0" transform="rotate(-7 647.4 142.6)"/><ellipse cx="650.9" cy="142.1" rx="2.9" ry="5.0" transform="rotate(-7 650.9 142.1)"/><ellipse cx="653.5" cy="141.8" rx="2.9" ry="5.0" transform="rotate(-7 653.5 141.8)"/><ellipse cx="656.4" cy="141.4" rx="2.9" ry="5.0" transform="rotate(-7 656.4 141.4)"/><ellipse cx="659.3" cy="141.1" rx="2.9" ry="5.0" transform="rotate(-7 659.3 141.1)"/><ellipse cx="662.2" cy="140.8" rx="2.9" ry="5.0" transform="rotate(-7 662.2 140.8)"/><ellipse cx="665.0" cy="140.4" rx="2.9" ry="5.0" transform="rotate(-6 665.0 140.4)"/><ellipse cx="667.7" cy="140.1" rx="2.9" ry="5.0" transform="rotate(-6 667.7 140.1)"/><ellipse cx="671.5" cy="139.8" rx="2.9" ry="5.0" transform="rotate(-6 671.5 139.8)"/><ellipse cx="675.2" cy="139.4" rx="2.9" ry="5.0" transform="rotate(-5 675.2 139.4)"/><ellipse cx="679.0" cy="139.0" rx="2.9" ry="5.0" transform="rotate(-5 679.0 139.0)"/><ellipse cx="682.8" cy="138.7" rx="2.9" ry="5.0" transform="rotate(-5 682.8 138.7)"/><ellipse cx="686.5" cy="138.4" rx="2.9" ry="5.0" transform="rotate(-4 686.5 138.4)"/><ellipse cx="690.2" cy="138.2" rx="2.9" ry="5.0" transform="rotate(-3 690.2 138.2)"/><ellipse cx="694.0" cy="138.0" rx="2.9" ry="5.0" transform="rotate(-2 694.0 138.0)"/><ellipse cx="696.6" cy="137.9" rx="2.9" ry="5.0" transform="rotate(-1 696.6 137.9)"/><ellipse cx="699.4" cy="137.9" rx="2.9" ry="5.0" transform="rotate(-1 699.4 137.9)"/><ellipse cx="702.3" cy="137.9" rx="2.9" ry="5.0" transform="rotate(-0 702.3 137.9)"/><ellipse cx="705.2" cy="137.9" rx="2.9" ry="5.0" transform="rotate(0 705.2 137.9)"/><ellipse cx="708.1" cy="137.9" rx="2.9" ry="5.0" transform="rotate(1 708.1 137.9)"/><ellipse cx="710.8" cy="137.9" rx="2.9" ry="5.0" transform="rotate(1 710.8 137.9)"/><ellipse cx="714.5" cy="138.0" rx="2.9" ry="5.0" transform="rotate(1 714.5 138.0)"/><ellipse cx="717.5" cy="138.0" rx="2.9" ry="5.0" transform="rotate(1 717.5 138.0)"/></g>
<g fill="url(#cg2)" stroke="#7c7c7c" stroke-width="0.5" opacity="1"><ellipse cx="633.0" cy="150.0" rx="2.9" ry="5.5" transform="rotate(96 633.0 150.0)"/><ellipse cx="632.6" cy="152.9" rx="2.9" ry="5.5" transform="rotate(98 632.6 152.9)"/><ellipse cx="632.3" cy="155.4" rx="2.9" ry="5.5" transform="rotate(98 632.3 155.4)"/><ellipse cx="631.9" cy="158.3" rx="2.9" ry="5.5" transform="rotate(98 631.9 158.3)"/><ellipse cx="631.5" cy="161.5" rx="2.9" ry="5.5" transform="rotate(97 631.5 161.5)"/><ellipse cx="631.0" cy="164.8" rx="2.9" ry="5.5" transform="rotate(97 631.0 164.8)"/><ellipse cx="630.7" cy="168.3" rx="2.9" ry="5.5" transform="rotate(96 630.7 168.3)"/><ellipse cx="630.3" cy="171.8" rx="2.9" ry="5.5" transform="rotate(95 630.3 171.8)"/><ellipse cx="630.1" cy="175.2" rx="2.9" ry="5.5" transform="rotate(93 630.1 175.2)"/><ellipse cx="630.0" cy="178.5" rx="2.9" ry="5.5" transform="rotate(91 630.0 178.5)"/><ellipse cx="630.0" cy="181.5" rx="2.9" ry="5.5" transform="rotate(88 630.0 181.5)"/><ellipse cx="630.2" cy="184.5" rx="2.9" ry="5.5" transform="rotate(86 630.2 184.5)"/><ellipse cx="630.5" cy="187.5" rx="2.9" ry="5.5" transform="rotate(84 630.5 187.5)"/><ellipse cx="630.8" cy="190.5" rx="2.9" ry="5.5" transform="rotate(83 630.8 190.5)"/><ellipse cx="631.2" cy="193.5" rx="2.9" ry="5.5" transform="rotate(82 631.2 193.5)"/><ellipse cx="631.7" cy="196.5" rx="2.9" ry="5.5" transform="rotate(81 631.7 196.5)"/><ellipse cx="632.2" cy="199.5" rx="2.9" ry="5.5" transform="rotate(80 632.2 199.5)"/><ellipse cx="632.7" cy="202.5" rx="2.9" ry="5.5" transform="rotate(80 632.7 202.5)"/><ellipse cx="633.2" cy="205.5" rx="2.9" ry="5.5" transform="rotate(80 633.2 205.5)"/><ellipse cx="633.7" cy="208.5" rx="2.9" ry="5.5" transform="rotate(80 633.7 208.5)"/><ellipse cx="634.3" cy="211.5" rx="2.9" ry="5.5" transform="rotate(80 634.3 211.5)"/><ellipse cx="634.8" cy="214.5" rx="2.9" ry="5.5" transform="rotate(80 634.8 214.5)"/><ellipse cx="635.3" cy="217.5" rx="2.9" ry="5.5" transform="rotate(80 635.3 217.5)"/><ellipse cx="635.8" cy="220.4" rx="2.9" ry="5.5" transform="rotate(80 635.8 220.4)"/><ellipse cx="636.3" cy="223.4" rx="2.9" ry="5.5" transform="rotate(79 636.3 223.4)"/><ellipse cx="636.9" cy="226.4" rx="2.9" ry="5.5" transform="rotate(79 636.9 226.4)"/><ellipse cx="637.5" cy="229.4" rx="2.9" ry="5.5" transform="rotate(78 637.5 229.4)"/><ellipse cx="638.2" cy="232.4" rx="2.9" ry="5.5" transform="rotate(78 638.2 232.4)"/><ellipse cx="638.9" cy="235.4" rx="2.9" ry="5.5" transform="rotate(77 638.9 235.4)"/><ellipse cx="639.6" cy="238.5" rx="2.9" ry="5.5" transform="rotate(76 639.6 238.5)"/><ellipse cx="640.4" cy="241.6" rx="2.9" ry="5.5" transform="rotate(75 640.4 241.6)"/><ellipse cx="641.4" cy="245.0" rx="2.9" ry="5.5" transform="rotate(74 641.4 245.0)"/><ellipse cx="642.5" cy="248.6" rx="2.9" ry="5.5" transform="rotate(73 642.5 248.6)"/><ellipse cx="643.6" cy="252.3" rx="2.9" ry="5.5" transform="rotate(73 643.6 252.3)"/><ellipse cx="644.8" cy="256.0" rx="2.9" ry="5.5" transform="rotate(72 644.8 256.0)"/><ellipse cx="646.0" cy="259.7" rx="2.9" ry="5.5" transform="rotate(72 646.0 259.7)"/><ellipse cx="647.1" cy="263.1" rx="2.9" ry="5.5" transform="rotate(72 647.1 263.1)"/><ellipse cx="648.1" cy="266.2" rx="2.9" ry="5.5" transform="rotate(72 648.1 266.2)"/><ellipse cx="649.0" cy="268.9" rx="2.9" ry="5.5" transform="rotate(72 649.0 268.9)"/><ellipse cx="650.0" cy="272.0" rx="2.9" ry="5.5" transform="rotate(72 650.0 272.0)"/></g>
<g fill="url(#cg2)" stroke="#7c7c7c" stroke-width="0.5" opacity="1"><ellipse cx="646.0" cy="145.0" rx="2.9" ry="5.5" transform="rotate(85 646.0 145.0)"/><ellipse cx="646.3" cy="148.4" rx="2.9" ry="5.5" transform="rotate(85 646.3 148.4)"/><ellipse cx="646.5" cy="151.3" rx="2.9" ry="5.5" transform="rotate(85 646.5 151.3)"/><ellipse cx="646.8" cy="154.7" rx="2.9" ry="5.5" transform="rotate(85 646.8 154.7)"/><ellipse cx="647.1" cy="158.4" rx="2.9" ry="5.5" transform="rotate(85 647.1 158.4)"/><ellipse cx="647.4" cy="162.3" rx="2.9" ry="5.5" transform="rotate(85 647.4 162.3)"/><ellipse cx="647.8" cy="166.4" rx="2.9" ry="5.5" transform="rotate(85 647.8 166.4)"/><ellipse cx="648.1" cy="170.4" rx="2.9" ry="5.5" transform="rotate(85 648.1 170.4)"/><ellipse cx="648.5" cy="174.4" rx="2.9" ry="5.5" transform="rotate(85 648.5 174.4)"/><ellipse cx="648.8" cy="178.2" rx="2.9" ry="5.5" transform="rotate(84 648.8 178.2)"/><ellipse cx="649.2" cy="181.8" rx="2.9" ry="5.5" transform="rotate(84 649.2 181.8)"/><ellipse cx="649.5" cy="185.2" rx="2.9" ry="5.5" transform="rotate(85 649.5 185.2)"/><ellipse cx="649.8" cy="188.8" rx="2.9" ry="5.5" transform="rotate(85 649.8 188.8)"/><ellipse cx="650.2" cy="192.2" rx="2.9" ry="5.5" transform="rotate(85 650.2 192.2)"/><ellipse cx="650.5" cy="195.8" rx="2.9" ry="5.5" transform="rotate(84 650.5 195.8)"/><ellipse cx="650.9" cy="199.2" rx="2.9" ry="5.5" transform="rotate(84 650.9 199.2)"/><ellipse cx="651.3" cy="202.8" rx="2.9" ry="5.5" transform="rotate(83 651.3 202.8)"/><ellipse cx="651.7" cy="206.2" rx="2.9" ry="5.5" transform="rotate(83 651.7 206.2)"/><ellipse cx="652.2" cy="209.8" rx="2.9" ry="5.5" transform="rotate(82 652.2 209.8)"/><ellipse cx="652.7" cy="213.2" rx="2.9" ry="5.5" transform="rotate(81 652.7 213.2)"/><ellipse cx="653.3" cy="216.8" rx="2.9" ry="5.5" transform="rotate(80 653.3 216.8)"/><ellipse cx="654.0" cy="220.3" rx="2.9" ry="5.5" transform="rotate(79 654.0 220.3)"/><ellipse cx="654.7" cy="223.8" rx="2.9" ry="5.5" transform="rotate(78 654.7 223.8)"/><ellipse cx="655.5" cy="227.4" rx="2.9" ry="5.5" transform="rotate(77 655.5 227.4)"/><ellipse cx="656.3" cy="230.9" rx="2.9" ry="5.5" transform="rotate(77 656.3 230.9)"/><ellipse cx="657.2" cy="234.5" rx="2.9" ry="5.5" transform="rotate(76 657.2 234.5)"/><ellipse cx="658.0" cy="238.0" rx="2.9" ry="5.5" transform="rotate(76 658.0 238.0)"/><ellipse cx="658.9" cy="241.5" rx="2.9" ry="5.5" transform="rotate(76 658.9 241.5)"/><ellipse cx="659.8" cy="244.9" rx="2.9" ry="5.5" transform="rotate(76 659.8 244.9)"/><ellipse cx="660.6" cy="248.3" rx="2.9" ry="5.5" transform="rotate(76 660.6 248.3)"/><ellipse cx="661.4" cy="251.7" rx="2.9" ry="5.5" transform="rotate(76 661.4 251.7)"/><ellipse cx="662.3" cy="255.3" rx="2.9" ry="5.5" transform="rotate(76 662.3 255.3)"/><ellipse cx="663.2" cy="259.0" rx="2.9" ry="5.5" transform="rotate(76 663.2 259.0)"/><ellipse cx="664.1" cy="262.7" rx="2.9" ry="5.5" transform="rotate(76 664.1 262.7)"/><ellipse cx="665.0" cy="266.4" rx="2.9" ry="5.5" transform="rotate(76 665.0 266.4)"/><ellipse cx="665.9" cy="269.9" rx="2.9" ry="5.5" transform="rotate(76 665.9 269.9)"/><ellipse cx="666.8" cy="273.3" rx="2.9" ry="5.5" transform="rotate(76 666.8 273.3)"/><ellipse cx="667.6" cy="276.3" rx="2.9" ry="5.5" transform="rotate(76 667.6 276.3)"/><ellipse cx="668.2" cy="279.0" rx="2.9" ry="5.5" transform="rotate(76 668.2 279.0)"/><ellipse cx="669.0" cy="282.0" rx="2.9" ry="5.5" transform="rotate(76 669.0 282.0)"/></g>
<g fill="url(#cg2)" stroke="#7c7c7c" stroke-width="0.5" opacity="1"><ellipse cx="661.0" cy="140.0" rx="2.9" ry="5.5" transform="rotate(85 661.0 140.0)"/><ellipse cx="661.3" cy="143.4" rx="2.9" ry="5.5" transform="rotate(86 661.3 143.4)"/><ellipse cx="661.5" cy="146.3" rx="2.9" ry="5.5" transform="rotate(86 661.5 146.3)"/><ellipse cx="661.7" cy="149.7" rx="2.9" ry="5.5" transform="rotate(86 661.7 149.7)"/><ellipse cx="662.0" cy="153.4" rx="2.9" ry="5.5" transform="rotate(86 662.0 153.4)"/><ellipse cx="662.3" cy="157.3" rx="2.9" ry="5.5" transform="rotate(85 662.3 157.3)"/><ellipse cx="662.7" cy="161.4" rx="2.9" ry="5.5" transform="rotate(85 662.7 161.4)"/><ellipse cx="663.0" cy="165.4" rx="2.9" ry="5.5" transform="rotate(85 663.0 165.4)"/><ellipse cx="663.4" cy="169.4" rx="2.9" ry="5.5" transform="rotate(84 663.4 169.4)"/><ellipse cx="663.8" cy="173.2" rx="2.9" ry="5.5" transform="rotate(84 663.8 173.2)"/><ellipse cx="664.2" cy="176.8" rx="2.9" ry="5.5" transform="rotate(83 664.2 176.8)"/><ellipse cx="664.6" cy="180.2" rx="2.9" ry="5.5" transform="rotate(83 664.6 180.2)"/><ellipse cx="665.0" cy="183.8" rx="2.9" ry="5.5" transform="rotate(83 665.0 183.8)"/><ellipse cx="665.5" cy="187.2" rx="2.9" ry="5.5" transform="rotate(83 665.5 187.2)"/><ellipse cx="665.9" cy="190.8" rx="2.9" ry="5.5" transform="rotate(82 665.9 190.8)"/><ellipse cx="666.4" cy="194.2" rx="2.9" ry="5.5" transform="rotate(82 666.4 194.2)"/><ellipse cx="666.9" cy="197.8" rx="2.9" ry="5.5" transform="rotate(81 666.9 197.8)"/><ellipse cx="667.5" cy="201.2" rx="2.9" ry="5.5" transform="rotate(81 667.5 201.2)"/><ellipse cx="668.1" cy="204.8" rx="2.9" ry="5.5" transform="rotate(80 668.1 204.8)"/><ellipse cx="668.7" cy="208.2" rx="2.9" ry="5.5" transform="rotate(80 668.7 208.2)"/><ellipse cx="669.3" cy="211.8" rx="2.9" ry="5.5" transform="rotate(79 669.3 211.8)"/><ellipse cx="670.0" cy="215.3" rx="2.9" ry="5.5" transform="rotate(78 670.0 215.3)"/><ellipse cx="670.8" cy="218.8" rx="2.9" ry="5.5" transform="rotate(78 670.8 218.8)"/><ellipse cx="671.6" cy="222.3" rx="2.9" ry="5.5" transform="rotate(77 671.6 222.3)"/><ellipse cx="672.4" cy="225.9" rx="2.9" ry="5.5" transform="rotate(77 672.4 225.9)"/><ellipse cx="673.2" cy="229.4" rx="2.9" ry="5.5" transform="rotate(77 673.2 229.4)"/><ellipse cx="674.1" cy="232.9" rx="2.9" ry="5.5" transform="rotate(76 674.1 232.9)"/><ellipse cx="674.9" cy="236.4" rx="2.9" ry="5.5" transform="rotate(76 674.9 236.4)"/><ellipse cx="675.8" cy="239.9" rx="2.9" ry="5.5" transform="rotate(76 675.8 239.9)"/><ellipse cx="676.6" cy="243.3" rx="2.9" ry="5.5" transform="rotate(77 676.6 243.3)"/><ellipse cx="677.4" cy="246.7" rx="2.9" ry="5.5" transform="rotate(77 677.4 246.7)"/><ellipse cx="678.3" cy="250.4" rx="2.9" ry="5.5" transform="rotate(77 678.3 250.4)"/><ellipse cx="679.2" cy="254.2" rx="2.9" ry="5.5" transform="rotate(76 679.2 254.2)"/><ellipse cx="680.1" cy="258.0" rx="2.9" ry="5.5" transform="rotate(76 680.1 258.0)"/><ellipse cx="681.0" cy="261.8" rx="2.9" ry="5.5" transform="rotate(76 681.0 261.8)"/><ellipse cx="681.9" cy="265.5" rx="2.9" ry="5.5" transform="rotate(76 681.9 265.5)"/><ellipse cx="682.8" cy="269.0" rx="2.9" ry="5.5" transform="rotate(76 682.8 269.0)"/><ellipse cx="683.6" cy="272.1" rx="2.9" ry="5.5" transform="rotate(76 683.6 272.1)"/><ellipse cx="684.2" cy="274.9" rx="2.9" ry="5.5" transform="rotate(76 684.2 274.9)"/><ellipse cx="685.0" cy="278.0" rx="2.9" ry="5.5" transform="rotate(76 685.0 278.0)"/></g>
<g fill="url(#cg2)" stroke="#7c7c7c" stroke-width="0.5" opacity="1"><ellipse cx="677.0" cy="135.0" rx="2.9" ry="5.5" transform="rotate(84 677.0 135.0)"/><ellipse cx="677.4" cy="138.4" rx="2.9" ry="5.5" transform="rotate(84 677.4 138.4)"/><ellipse cx="677.7" cy="141.3" rx="2.9" ry="5.5" transform="rotate(84 677.7 141.3)"/><ellipse cx="678.0" cy="144.7" rx="2.9" ry="5.5" transform="rotate(84 678.0 144.7)"/><ellipse cx="678.4" cy="148.4" rx="2.9" ry="5.5" transform="rotate(84 678.4 148.4)"/><ellipse cx="678.8" cy="152.3" rx="2.9" ry="5.5" transform="rotate(84 678.8 152.3)"/><ellipse cx="679.3" cy="156.4" rx="2.9" ry="5.5" transform="rotate(84 679.3 156.4)"/><ellipse cx="679.8" cy="160.4" rx="2.9" ry="5.5" transform="rotate(83 679.8 160.4)"/><ellipse cx="680.3" cy="164.4" rx="2.9" ry="5.5" transform="rotate(83 680.3 164.4)"/><ellipse cx="680.8" cy="168.2" rx="2.9" ry="5.5" transform="rotate(82 680.8 168.2)"/><ellipse cx="681.3" cy="171.8" rx="2.9" ry="5.5" transform="rotate(82 681.3 171.8)"/><ellipse cx="681.8" cy="175.2" rx="2.9" ry="5.5" transform="rotate(81 681.8 175.2)"/><ellipse cx="682.3" cy="178.8" rx="2.9" ry="5.5" transform="rotate(81 682.3 178.8)"/><ellipse cx="682.9" cy="182.2" rx="2.9" ry="5.5" transform="rotate(81 682.9 182.2)"/><ellipse cx="683.5" cy="185.8" rx="2.9" ry="5.5" transform="rotate(80 683.5 185.8)"/><ellipse cx="684.1" cy="189.2" rx="2.9" ry="5.5" transform="rotate(80 684.1 189.2)"/><ellipse cx="684.7" cy="192.8" rx="2.9" ry="5.5" transform="rotate(80 684.7 192.8)"/><ellipse cx="685.3" cy="196.2" rx="2.9" ry="5.5" transform="rotate(79 685.3 196.2)"/><ellipse cx="686.0" cy="199.8" rx="2.9" ry="5.5" transform="rotate(79 686.0 199.8)"/><ellipse cx="686.7" cy="203.2" rx="2.9" ry="5.5" transform="rotate(79 686.7 203.2)"/><ellipse cx="687.4" cy="206.8" rx="2.9" ry="5.5" transform="rotate(78 687.4 206.8)"/><ellipse cx="688.1" cy="210.3" rx="2.9" ry="5.5" transform="rotate(77 688.1 210.3)"/><ellipse cx="689.0" cy="213.9" rx="2.9" ry="5.5" transform="rotate(77 689.0 213.9)"/><ellipse cx="689.8" cy="217.5" rx="2.9" ry="5.5" transform="rotate(76 689.8 217.5)"/><ellipse cx="690.7" cy="221.1" rx="2.9" ry="5.5" transform="rotate(76 690.7 221.1)"/><ellipse cx="691.6" cy="224.7" rx="2.9" ry="5.5" transform="rotate(76 691.6 224.7)"/><ellipse cx="692.4" cy="228.3" rx="2.9" ry="5.5" transform="rotate(77 692.4 228.3)"/><ellipse cx="693.2" cy="231.7" rx="2.9" ry="5.5" transform="rotate(77 693.2 231.7)"/><ellipse cx="694.0" cy="235.1" rx="2.9" ry="5.5" transform="rotate(78 694.0 235.1)"/><ellipse cx="694.7" cy="238.4" rx="2.9" ry="5.5" transform="rotate(79 694.7 238.4)"/><ellipse cx="695.3" cy="241.6" rx="2.9" ry="5.5" transform="rotate(80 695.3 241.6)"/><ellipse cx="695.9" cy="244.8" rx="2.9" ry="5.5" transform="rotate(81 695.9 244.8)"/><ellipse cx="696.4" cy="248.1" rx="2.9" ry="5.5" transform="rotate(81 696.4 248.1)"/><ellipse cx="696.9" cy="251.4" rx="2.9" ry="5.5" transform="rotate(82 696.9 251.4)"/><ellipse cx="697.3" cy="254.6" rx="2.9" ry="5.5" transform="rotate(82 697.3 254.6)"/><ellipse cx="697.7" cy="257.7" rx="2.9" ry="5.5" transform="rotate(83 697.7 257.7)"/><ellipse cx="698.1" cy="260.5" rx="2.9" ry="5.5" transform="rotate(83 698.1 260.5)"/><ellipse cx="698.4" cy="263.1" rx="2.9" ry="5.5" transform="rotate(83 698.4 263.1)"/><ellipse cx="698.8" cy="266.4" rx="2.9" ry="5.5" transform="rotate(83 698.8 266.4)"/></g>
<g fill="url(#cg2)" stroke="#7c7c7c" stroke-width="0.5" opacity="1"><ellipse cx="694.0" cy="135.0" rx="2.9" ry="5.5" transform="rotate(82 694.0 135.0)"/><ellipse cx="694.5" cy="138.4" rx="2.9" ry="5.5" transform="rotate(82 694.5 138.4)"/><ellipse cx="694.9" cy="141.3" rx="2.9" ry="5.5" transform="rotate(82 694.9 141.3)"/><ellipse cx="695.3" cy="144.7" rx="2.9" ry="5.5" transform="rotate(82 695.3 144.7)"/><ellipse cx="695.9" cy="148.4" rx="2.9" ry="5.5" transform="rotate(82 695.9 148.4)"/><ellipse cx="696.4" cy="152.3" rx="2.9" ry="5.5" transform="rotate(82 696.4 152.3)"/><ellipse cx="697.0" cy="156.4" rx="2.9" ry="5.5" transform="rotate(82 697.0 156.4)"/><ellipse cx="697.6" cy="160.4" rx="2.9" ry="5.5" transform="rotate(82 697.6 160.4)"/><ellipse cx="698.1" cy="164.4" rx="2.9" ry="5.5" transform="rotate(82 698.1 164.4)"/><ellipse cx="698.7" cy="168.2" rx="2.9" ry="5.5" transform="rotate(81 698.7 168.2)"/><ellipse cx="699.3" cy="171.8" rx="2.9" ry="5.5" transform="rotate(81 699.3 171.8)"/><ellipse cx="699.8" cy="175.3" rx="2.9" ry="5.5" transform="rotate(81 699.8 175.3)"/><ellipse cx="700.4" cy="178.9" rx="2.9" ry="5.5" transform="rotate(81 700.4 178.9)"/><ellipse cx="701.0" cy="182.4" rx="2.9" ry="5.5" transform="rotate(81 701.0 182.4)"/><ellipse cx="701.6" cy="186.0" rx="2.9" ry="5.5" transform="rotate(81 701.6 186.0)"/><ellipse cx="702.2" cy="189.6" rx="2.9" ry="5.5" transform="rotate(80 702.2 189.6)"/><ellipse cx="702.8" cy="193.1" rx="2.9" ry="5.5" transform="rotate(80 702.8 193.1)"/><ellipse cx="703.4" cy="196.6" rx="2.9" ry="5.5" transform="rotate(80 703.4 196.6)"/><ellipse cx="704.0" cy="200.0" rx="2.9" ry="5.5" transform="rotate(79 704.0 200.0)"/><ellipse cx="704.7" cy="203.4" rx="2.9" ry="5.5" transform="rotate(79 704.7 203.4)"/><ellipse cx="705.3" cy="206.6" rx="2.9" ry="5.5" transform="rotate(78 705.3 206.6)"/><ellipse cx="706.0" cy="209.8" rx="2.9" ry="5.5" transform="rotate(77 706.0 209.8)"/><ellipse cx="706.8" cy="213.0" rx="2.9" ry="5.5" transform="rotate(77 706.8 213.0)"/><ellipse cx="707.5" cy="216.1" rx="2.9" ry="5.5" transform="rotate(76 707.5 216.1)"/><ellipse cx="708.2" cy="219.2" rx="2.9" ry="5.5" transform="rotate(76 708.2 219.2)"/><ellipse cx="709.0" cy="222.3" rx="2.9" ry="5.5" transform="rotate(76 709.0 222.3)"/><ellipse cx="709.7" cy="225.2" rx="2.9" ry="5.5" transform="rotate(76 709.7 225.2)"/><ellipse cx="710.4" cy="228.1" rx="2.9" ry="5.5" transform="rotate(76 710.4 228.1)"/><ellipse cx="711.1" cy="230.9" rx="2.9" ry="5.5" transform="rotate(77 711.1 230.9)"/><ellipse cx="711.7" cy="233.7" rx="2.9" ry="5.5" transform="rotate(78 711.7 233.7)"/><ellipse cx="712.3" cy="236.3" rx="2.9" ry="5.5" transform="rotate(79 712.3 236.3)"/><ellipse cx="712.8" cy="239.0" rx="2.9" ry="5.5" transform="rotate(79 712.8 239.0)"/><ellipse cx="713.3" cy="241.8" rx="2.9" ry="5.5" transform="rotate(80 713.3 241.8)"/><ellipse cx="713.8" cy="244.5" rx="2.9" ry="5.5" transform="rotate(80 713.8 244.5)"/><ellipse cx="714.2" cy="247.1" rx="2.9" ry="5.5" transform="rotate(81 714.2 247.1)"/><ellipse cx="714.6" cy="249.6" rx="2.9" ry="5.5" transform="rotate(81 714.6 249.6)"/><ellipse cx="715.2" cy="253.0" rx="2.9" ry="5.5" transform="rotate(81 715.2 253.0)"/><ellipse cx="715.6" cy="255.9" rx="2.9" ry="5.5" transform="rotate(81 715.6 255.9)"/></g>
<g fill="url(#cg2)" stroke="#7c7c7c" stroke-width="0.5" opacity="1"><ellipse cx="709.0" cy="128.0" rx="2.9" ry="5.5" transform="rotate(85 709.0 128.0)"/><ellipse cx="709.3" cy="131.1" rx="2.9" ry="5.5" transform="rotate(84 709.3 131.1)"/><ellipse cx="709.6" cy="133.8" rx="2.9" ry="5.5" transform="rotate(84 709.6 133.8)"/><ellipse cx="709.9" cy="136.9" rx="2.9" ry="5.5" transform="rotate(84 709.9 136.9)"/><ellipse cx="710.3" cy="140.3" rx="2.9" ry="5.5" transform="rotate(84 710.3 140.3)"/><ellipse cx="710.6" cy="144.0" rx="2.9" ry="5.5" transform="rotate(84 710.6 144.0)"/><ellipse cx="711.0" cy="147.7" rx="2.9" ry="5.5" transform="rotate(85 711.0 147.7)"/><ellipse cx="711.3" cy="151.4" rx="2.9" ry="5.5" transform="rotate(85 711.3 151.4)"/><ellipse cx="711.6" cy="155.0" rx="2.9" ry="5.5" transform="rotate(85 711.6 155.0)"/><ellipse cx="711.9" cy="158.4" rx="2.9" ry="5.5" transform="rotate(86 711.9 158.4)"/><ellipse cx="712.1" cy="161.5" rx="2.9" ry="5.5" transform="rotate(87 712.1 161.5)"/><ellipse cx="712.2" cy="164.6" rx="2.9" ry="5.5" transform="rotate(88 712.2 164.6)"/><ellipse cx="712.3" cy="167.6" rx="2.9" ry="5.5" transform="rotate(89 712.3 167.6)"/><ellipse cx="712.4" cy="170.6" rx="2.9" ry="5.5" transform="rotate(89 712.4 170.6)"/><ellipse cx="712.4" cy="173.5" rx="2.9" ry="5.5" transform="rotate(89 712.4 173.5)"/><ellipse cx="712.5" cy="176.5" rx="2.9" ry="5.5" transform="rotate(89 712.5 176.5)"/><ellipse cx="712.5" cy="179.4" rx="2.9" ry="5.5" transform="rotate(89 712.5 179.4)"/><ellipse cx="712.6" cy="182.4" rx="2.9" ry="5.5" transform="rotate(88 712.6 182.4)"/><ellipse cx="712.7" cy="185.4" rx="2.9" ry="5.5" transform="rotate(87 712.7 185.4)"/><ellipse cx="712.9" cy="188.5" rx="2.9" ry="5.5" transform="rotate(86 712.9 188.5)"/><ellipse cx="713.1" cy="191.6" rx="2.9" ry="5.5" transform="rotate(85 713.1 191.6)"/><ellipse cx="713.5" cy="195.0" rx="2.9" ry="5.5" transform="rotate(84 713.5 195.0)"/><ellipse cx="713.9" cy="198.6" rx="2.9" ry="5.5" transform="rotate(83 713.9 198.6)"/><ellipse cx="714.3" cy="202.3" rx="2.9" ry="5.5" transform="rotate(83 714.3 202.3)"/><ellipse cx="714.8" cy="206.0" rx="2.9" ry="5.5" transform="rotate(82 714.8 206.0)"/><ellipse cx="715.3" cy="209.7" rx="2.9" ry="5.5" transform="rotate(82 715.3 209.7)"/><ellipse cx="715.8" cy="213.1" rx="2.9" ry="5.5" transform="rotate(82 715.8 213.1)"/><ellipse cx="716.2" cy="216.2" rx="2.9" ry="5.5" transform="rotate(82 716.2 216.2)"/><ellipse cx="716.6" cy="218.9" rx="2.9" ry="5.5" transform="rotate(82 716.6 218.9)"/><ellipse cx="717.0" cy="222.0" rx="2.9" ry="5.5" transform="rotate(83 717.0 222.0)"/></g>
<g fill="url(#cg2)" stroke="#7c7c7c" stroke-width="0.5" opacity="1"><ellipse cx="648.0" cy="264.0" rx="2.9" ry="5.5" transform="rotate(25 648.0 264.0)"/><ellipse cx="651.0" cy="265.4" rx="2.9" ry="5.5" transform="rotate(26 651.0 265.4)"/><ellipse cx="654.1" cy="267.0" rx="2.9" ry="5.5" transform="rotate(26 654.1 267.0)"/><ellipse cx="656.4" cy="268.1" rx="2.9" ry="5.5" transform="rotate(26 656.4 268.1)"/><ellipse cx="658.9" cy="269.3" rx="2.9" ry="5.5" transform="rotate(25 658.9 269.3)"/><ellipse cx="661.4" cy="270.5" rx="2.9" ry="5.5" transform="rotate(25 661.4 270.5)"/><ellipse cx="664.0" cy="271.6" rx="2.9" ry="5.5" transform="rotate(24 664.0 271.6)"/><ellipse cx="666.5" cy="272.7" rx="2.9" ry="5.5" transform="rotate(22 666.5 272.7)"/><ellipse cx="668.9" cy="273.6" rx="2.9" ry="5.5" transform="rotate(20 668.9 273.6)"/><ellipse cx="672.3" cy="274.7" rx="2.9" ry="5.5" transform="rotate(16 672.3 274.7)"/><ellipse cx="674.8" cy="275.4" rx="2.9" ry="5.5" transform="rotate(15 674.8 275.4)"/><ellipse cx="677.3" cy="276.0" rx="2.9" ry="5.5" transform="rotate(13 677.3 276.0)"/><ellipse cx="679.9" cy="276.6" rx="2.9" ry="5.5" transform="rotate(12 679.9 276.6)"/><ellipse cx="682.4" cy="277.1" rx="2.9" ry="5.5" transform="rotate(11 682.4 277.1)"/><ellipse cx="684.8" cy="277.6" rx="2.9" ry="5.5" transform="rotate(11 684.8 277.6)"/><ellipse cx="688.0" cy="278.2" rx="2.9" ry="5.5" transform="rotate(11 688.0 278.2)"/><ellipse cx="690.7" cy="278.7" rx="2.9" ry="5.5" transform="rotate(11 690.7 278.7)"/></g>
<g fill="url(#cg2)" stroke="#7c7c7c" stroke-width="0.5" opacity="1"><ellipse cx="655.0" cy="284.0" rx="2.9" ry="5.5" transform="rotate(10 655.0 284.0)"/><ellipse cx="657.9" cy="284.6" rx="2.9" ry="5.5" transform="rotate(14 657.9 284.6)"/><ellipse cx="660.8" cy="285.4" rx="2.9" ry="5.5" transform="rotate(14 660.8 285.4)"/><ellipse cx="664.2" cy="286.2" rx="2.9" ry="5.5" transform="rotate(12 664.2 286.2)"/><ellipse cx="666.7" cy="286.7" rx="2.9" ry="5.5" transform="rotate(10 666.7 286.7)"/><ellipse cx="669.1" cy="287.0" rx="2.9" ry="5.5" transform="rotate(7 669.1 287.0)"/><ellipse cx="671.5" cy="287.2" rx="2.9" ry="5.5" transform="rotate(3 671.5 287.2)"/><ellipse cx="674.9" cy="287.2" rx="2.9" ry="5.5" transform="rotate(-7 674.9 287.2)"/><ellipse cx="678.1" cy="286.4" rx="2.9" ry="5.5" transform="rotate(-19 678.1 286.4)"/><ellipse cx="680.4" cy="285.5" rx="2.9" ry="5.5" transform="rotate(-24 680.4 285.5)"/><ellipse cx="682.7" cy="284.4" rx="2.9" ry="5.5" transform="rotate(-28 682.7 284.4)"/><ellipse cx="685.0" cy="283.1" rx="2.9" ry="5.5" transform="rotate(-30 685.0 283.1)"/><ellipse cx="687.3" cy="281.7" rx="2.9" ry="5.5" transform="rotate(-32 687.3 281.7)"/><ellipse cx="689.5" cy="280.3" rx="2.9" ry="5.5" transform="rotate(-33 689.5 280.3)"/><ellipse cx="691.5" cy="278.9" rx="2.9" ry="5.5" transform="rotate(-34 691.5 278.9)"/><ellipse cx="694.1" cy="277.2" rx="2.9" ry="5.5" transform="rotate(-33 694.1 277.2)"/></g>
<g fill="url(#cg2)" stroke="#7c7c7c" stroke-width="0.5" opacity="1"><ellipse cx="610.0" cy="121.0" rx="2.9" ry="5.5" transform="rotate(-11 610.0 121.0)"/><ellipse cx="612.5" cy="120.5" rx="2.9" ry="5.5" transform="rotate(-12 612.5 120.5)"/><ellipse cx="615.9" cy="119.8" rx="2.9" ry="5.5" transform="rotate(-12 615.9 119.8)"/><ellipse cx="618.5" cy="119.3" rx="2.9" ry="5.5" transform="rotate(-12 618.5 119.3)"/><ellipse cx="621.4" cy="118.7" rx="2.9" ry="5.5" transform="rotate(-11 621.4 118.7)"/><ellipse cx="624.4" cy="118.1" rx="2.9" ry="5.5" transform="rotate(-11 624.4 118.1)"/><ellipse cx="627.4" cy="117.5" rx="2.9" ry="5.5" transform="rotate(-11 627.4 117.5)"/><ellipse cx="630.4" cy="117.0" rx="2.9" ry="5.5" transform="rotate(-10 630.4 117.0)"/><ellipse cx="633.3" cy="116.4" rx="2.9" ry="5.5" transform="rotate(-10 633.3 116.4)"/><ellipse cx="636.0" cy="116.0" rx="2.9" ry="5.5" transform="rotate(-9 636.0 116.0)"/><ellipse cx="638.6" cy="115.6" rx="2.9" ry="5.5" transform="rotate(-8 638.6 115.6)"/><ellipse cx="641.1" cy="115.2" rx="2.9" ry="5.5" transform="rotate(-8 641.1 115.2)"/><ellipse cx="643.7" cy="114.9" rx="2.9" ry="5.5" transform="rotate(-8 643.7 114.9)"/><ellipse cx="646.2" cy="114.6" rx="2.9" ry="5.5" transform="rotate(-7 646.2 114.6)"/><ellipse cx="648.8" cy="114.2" rx="2.9" ry="5.5" transform="rotate(-7 648.8 114.2)"/><ellipse cx="651.3" cy="114.0" rx="2.9" ry="5.5" transform="rotate(-6 651.3 114.0)"/><ellipse cx="653.9" cy="113.7" rx="2.9" ry="5.5" transform="rotate(-6 653.9 113.7)"/><ellipse cx="656.5" cy="113.4" rx="2.9" ry="5.5" transform="rotate(-5 656.5 113.4)"/><ellipse cx="659.2" cy="113.2" rx="2.9" ry="5.5" transform="rotate(-5 659.2 113.2)"/><ellipse cx="662.0" cy="113.0" rx="2.9" ry="5.5" transform="rotate(-4 662.0 113.0)"/><ellipse cx="664.8" cy="112.8" rx="2.9" ry="5.5" transform="rotate(-3 664.8 112.8)"/><ellipse cx="667.7" cy="112.7" rx="2.9" ry="5.5" transform="rotate(-2 667.7 112.7)"/><ellipse cx="670.7" cy="112.6" rx="2.9" ry="5.5" transform="rotate(-1 670.7 112.6)"/><ellipse cx="673.7" cy="112.6" rx="2.9" ry="5.5" transform="rotate(-1 673.7 112.6)"/><ellipse cx="676.8" cy="112.6" rx="2.9" ry="5.5" transform="rotate(-1 676.8 112.6)"/><ellipse cx="679.8" cy="112.5" rx="2.9" ry="5.5" transform="rotate(-1 679.8 112.5)"/><ellipse cx="682.9" cy="112.5" rx="2.9" ry="5.5" transform="rotate(-1 682.9 112.5)"/><ellipse cx="685.9" cy="112.4" rx="2.9" ry="5.5" transform="rotate(-2 685.9 112.4)"/><ellipse cx="689.0" cy="112.2" rx="2.9" ry="5.5" transform="rotate(-3 689.0 112.2)"/><ellipse cx="692.0" cy="112.0" rx="2.9" ry="5.5" transform="rotate(-5 692.0 112.0)"/><ellipse cx="695.1" cy="111.7" rx="2.9" ry="5.5" transform="rotate(-6 695.1 111.7)"/><ellipse cx="698.5" cy="111.3" rx="2.9" ry="5.5" transform="rotate(-7 698.5 111.3)"/><ellipse cx="701.9" cy="110.9" rx="2.9" ry="5.5" transform="rotate(-7 701.9 110.9)"/><ellipse cx="705.4" cy="110.4" rx="2.9" ry="5.5" transform="rotate(-8 705.4 110.4)"/><ellipse cx="708.9" cy="109.9" rx="2.9" ry="5.5" transform="rotate(-8 708.9 109.9)"/><ellipse cx="712.2" cy="109.5" rx="2.9" ry="5.5" transform="rotate(-8 712.2 109.5)"/><ellipse cx="715.2" cy="109.0" rx="2.9" ry="5.5" transform="rotate(-9 715.2 109.0)"/><ellipse cx="717.9" cy="108.6" rx="2.9" ry="5.5" transform="rotate(-9 717.9 108.6)"/><ellipse cx="721.2" cy="108.1" rx="2.9" ry="5.5" transform="rotate(-8 721.2 108.1)"/></g>
<g fill="url(#cg2)" stroke="#7c7c7c" stroke-width="0.5" opacity="1"><ellipse cx="616.0" cy="136.0" rx="2.9" ry="5.5" transform="rotate(-12 616.0 136.0)"/><ellipse cx="619.2" cy="135.3" rx="2.9" ry="5.5" transform="rotate(-13 619.2 135.3)"/><ellipse cx="622.5" cy="134.5" rx="2.9" ry="5.5" transform="rotate(-13 622.5 134.5)"/><ellipse cx="625.1" cy="133.9" rx="2.9" ry="5.5" transform="rotate(-13 625.1 133.9)"/><ellipse cx="627.7" cy="133.3" rx="2.9" ry="5.5" transform="rotate(-12 627.7 133.3)"/><ellipse cx="630.5" cy="132.7" rx="2.9" ry="5.5" transform="rotate(-12 630.5 132.7)"/><ellipse cx="633.3" cy="132.2" rx="2.9" ry="5.5" transform="rotate(-11 633.3 132.2)"/><ellipse cx="636.1" cy="131.6" rx="2.9" ry="5.5" transform="rotate(-10 636.1 131.6)"/><ellipse cx="638.7" cy="131.2" rx="2.9" ry="5.5" transform="rotate(-9 638.7 131.2)"/><ellipse cx="641.3" cy="130.8" rx="2.9" ry="5.5" transform="rotate(-7 641.3 130.8)"/><ellipse cx="643.8" cy="130.5" rx="2.9" ry="5.5" transform="rotate(-6 643.8 130.5)"/><ellipse cx="646.3" cy="130.3" rx="2.9" ry="5.5" transform="rotate(-5 646.3 130.3)"/><ellipse cx="648.8" cy="130.1" rx="2.9" ry="5.5" transform="rotate(-4 648.8 130.1)"/><ellipse cx="651.4" cy="129.9" rx="2.9" ry="5.5" transform="rotate(-4 651.4 129.9)"/><ellipse cx="654.0" cy="129.7" rx="2.9" ry="5.5" transform="rotate(-3 654.0 129.7)"/><ellipse cx="656.6" cy="129.6" rx="2.9" ry="5.5" transform="rotate(-3 656.6 129.6)"/><ellipse cx="659.2" cy="129.4" rx="2.9" ry="5.5" transform="rotate(-3 659.2 129.4)"/><ellipse cx="661.9" cy="129.3" rx="2.9" ry="5.5" transform="rotate(-4 661.9 129.3)"/><ellipse cx="664.6" cy="129.1" rx="2.9" ry="5.5" transform="rotate(-4 664.6 129.1)"/><ellipse cx="667.4" cy="128.9" rx="2.9" ry="5.5" transform="rotate(-4 667.4 128.9)"/><ellipse cx="670.2" cy="128.7" rx="2.9" ry="5.5" transform="rotate(-4 670.2 128.7)"/><ellipse cx="673.1" cy="128.5" rx="2.9" ry="5.5" transform="rotate(-4 673.1 128.5)"/><ellipse cx="676.0" cy="128.3" rx="2.9" ry="5.5" transform="rotate(-4 676.0 128.3)"/><ellipse cx="679.0" cy="128.0" rx="2.9" ry="5.5" transform="rotate(-4 679.0 128.0)"/><ellipse cx="681.9" cy="127.8" rx="2.9" ry="5.5" transform="rotate(-4 681.9 127.8)"/><ellipse cx="684.9" cy="127.6" rx="2.9" ry="5.5" transform="rotate(-4 684.9 127.6)"/><ellipse cx="687.8" cy="127.4" rx="2.9" ry="5.5" transform="rotate(-4 687.8 127.4)"/><ellipse cx="690.7" cy="127.2" rx="2.9" ry="5.5" transform="rotate(-3 690.7 127.2)"/><ellipse cx="693.6" cy="127.1" rx="2.9" ry="5.5" transform="rotate(-3 693.6 127.1)"/><ellipse cx="696.4" cy="126.9" rx="2.9" ry="5.5" transform="rotate(-3 696.4 126.9)"/><ellipse cx="699.4" cy="126.8" rx="2.9" ry="5.5" transform="rotate(-3 699.4 126.8)"/><ellipse cx="702.5" cy="126.7" rx="2.9" ry="5.5" transform="rotate(-2 702.5 126.7)"/><ellipse cx="705.7" cy="126.5" rx="2.9" ry="5.5" transform="rotate(-2 705.7 126.5)"/><ellipse cx="708.8" cy="126.4" rx="2.9" ry="5.5" transform="rotate(-2 708.8 126.4)"/><ellipse cx="711.8" cy="126.3" rx="2.9" ry="5.5" transform="rotate(-2 711.8 126.3)"/><ellipse cx="714.6" cy="126.2" rx="2.9" ry="5.5" transform="rotate(-2 714.6 126.2)"/><ellipse cx="717.2" cy="126.2" rx="2.9" ry="5.5" transform="rotate(-2 717.2 126.2)"/><ellipse cx="720.4" cy="126.1" rx="2.9" ry="5.5" transform="rotate(-2 720.4 126.1)"/></g>
<g fill="url(#cg2)" stroke="#7c7c7c" stroke-width="0.5" opacity="1"><ellipse cx="626.0" cy="100.0" rx="2.9" ry="5.5" transform="rotate(-11 626.0 100.0)"/><ellipse cx="628.5" cy="99.5" rx="2.9" ry="5.5" transform="rotate(-12 628.5 99.5)"/><ellipse cx="631.8" cy="98.8" rx="2.9" ry="5.5" transform="rotate(-12 631.8 98.8)"/><ellipse cx="634.3" cy="98.3" rx="2.9" ry="5.5" transform="rotate(-12 634.3 98.3)"/><ellipse cx="637.1" cy="97.7" rx="2.9" ry="5.5" transform="rotate(-12 637.1 97.7)"/><ellipse cx="640.1" cy="97.1" rx="2.9" ry="5.5" transform="rotate(-11 640.1 97.1)"/><ellipse cx="643.1" cy="96.5" rx="2.9" ry="5.5" transform="rotate(-11 643.1 96.5)"/><ellipse cx="646.1" cy="96.0" rx="2.9" ry="5.5" transform="rotate(-10 646.1 96.0)"/><ellipse cx="649.1" cy="95.4" rx="2.9" ry="5.5" transform="rotate(-9 649.1 95.4)"/><ellipse cx="652.0" cy="95.0" rx="2.9" ry="5.5" transform="rotate(-8 652.0 95.0)"/><ellipse cx="654.8" cy="94.6" rx="2.9" ry="5.5" transform="rotate(-7 654.8 94.6)"/><ellipse cx="657.7" cy="94.3" rx="2.9" ry="5.5" transform="rotate(-7 657.7 94.3)"/><ellipse cx="660.7" cy="93.9" rx="2.9" ry="5.5" transform="rotate(-6 660.7 93.9)"/><ellipse cx="663.7" cy="93.6" rx="2.9" ry="5.5" transform="rotate(-6 663.7 93.6)"/><ellipse cx="666.8" cy="93.3" rx="2.9" ry="5.5" transform="rotate(-5 666.8 93.3)"/><ellipse cx="669.8" cy="93.0" rx="2.9" ry="5.5" transform="rotate(-5 669.8 93.0)"/><ellipse cx="672.9" cy="92.8" rx="2.9" ry="5.5" transform="rotate(-5 672.9 92.8)"/><ellipse cx="675.9" cy="92.5" rx="2.9" ry="5.5" transform="rotate(-5 675.9 92.5)"/><ellipse cx="679.0" cy="92.3" rx="2.9" ry="5.5" transform="rotate(-5 679.0 92.3)"/><ellipse cx="682.0" cy="92.0" rx="2.9" ry="5.5" transform="rotate(-5 682.0 92.0)"/><ellipse cx="685.0" cy="91.7" rx="2.9" ry="5.5" transform="rotate(-6 685.0 91.7)"/><ellipse cx="688.1" cy="91.4" rx="2.9" ry="5.5" transform="rotate(-7 688.1 91.4)"/><ellipse cx="691.2" cy="91.0" rx="2.9" ry="5.5" transform="rotate(-7 691.2 91.0)"/><ellipse cx="694.3" cy="90.6" rx="2.9" ry="5.5" transform="rotate(-6 694.3 90.6)"/><ellipse cx="697.4" cy="90.3" rx="2.9" ry="5.5" transform="rotate(-6 697.4 90.3)"/><ellipse cx="700.5" cy="90.0" rx="2.9" ry="5.5" transform="rotate(-5 700.5 90.0)"/><ellipse cx="703.5" cy="89.8" rx="2.9" ry="5.5" transform="rotate(-3 703.5 89.8)"/><ellipse cx="706.4" cy="89.7" rx="2.9" ry="5.5" transform="rotate(-0 706.4 89.7)"/><ellipse cx="709.3" cy="89.8" rx="2.9" ry="5.5" transform="rotate(3 709.3 89.8)"/><ellipse cx="712.0" cy="90.0" rx="2.9" ry="5.5" transform="rotate(7 712.0 90.0)"/><ellipse cx="714.7" cy="90.4" rx="2.9" ry="5.5" transform="rotate(11 714.7 90.4)"/><ellipse cx="717.4" cy="91.1" rx="2.9" ry="5.5" transform="rotate(15 717.4 91.1)"/><ellipse cx="720.1" cy="91.9" rx="2.9" ry="5.5" transform="rotate(18 720.1 91.9)"/><ellipse cx="722.8" cy="92.9" rx="2.9" ry="5.5" transform="rotate(21 722.8 92.9)"/><ellipse cx="725.4" cy="93.9" rx="2.9" ry="5.5" transform="rotate(22 725.4 93.9)"/><ellipse cx="727.8" cy="94.9" rx="2.9" ry="5.5" transform="rotate(23 727.8 94.9)"/><ellipse cx="730.0" cy="95.9" rx="2.9" ry="5.5" transform="rotate(24 730.0 95.9)"/><ellipse cx="732.9" cy="97.1" rx="2.9" ry="5.5" transform="rotate(23 732.9 97.1)"/></g>
<g fill="url(#cg2)" stroke="#7c7c7c" stroke-width="0.5" opacity="1"><ellipse cx="660.0" cy="80.0" rx="2.9" ry="5.5" transform="rotate(-6 660.0 80.0)"/><ellipse cx="662.9" cy="79.6" rx="2.9" ry="5.5" transform="rotate(-8 662.9 79.6)"/><ellipse cx="665.5" cy="79.2" rx="2.9" ry="5.5" transform="rotate(-9 665.5 79.2)"/><ellipse cx="668.4" cy="78.8" rx="2.9" ry="5.5" transform="rotate(-9 668.4 78.8)"/><ellipse cx="671.7" cy="78.3" rx="2.9" ry="5.5" transform="rotate(-8 671.7 78.3)"/><ellipse cx="675.1" cy="77.8" rx="2.9" ry="5.5" transform="rotate(-7 675.1 77.8)"/><ellipse cx="678.6" cy="77.4" rx="2.9" ry="5.5" transform="rotate(-6 678.6 77.4)"/><ellipse cx="682.1" cy="77.1" rx="2.9" ry="5.5" transform="rotate(-4 682.1 77.1)"/><ellipse cx="685.4" cy="76.9" rx="2.9" ry="5.5" transform="rotate(-2 685.4 76.9)"/><ellipse cx="688.6" cy="76.9" rx="2.9" ry="5.5" transform="rotate(2 688.6 76.9)"/><ellipse cx="691.4" cy="77.1" rx="2.9" ry="5.5" transform="rotate(6 691.4 77.1)"/><ellipse cx="694.4" cy="77.6" rx="2.9" ry="5.5" transform="rotate(10 694.4 77.6)"/><ellipse cx="697.4" cy="78.2" rx="2.9" ry="5.5" transform="rotate(13 697.4 78.2)"/><ellipse cx="700.4" cy="79.0" rx="2.9" ry="5.5" transform="rotate(15 700.4 79.0)"/><ellipse cx="703.4" cy="79.9" rx="2.9" ry="5.5" transform="rotate(17 703.4 79.9)"/><ellipse cx="706.3" cy="80.8" rx="2.9" ry="5.5" transform="rotate(18 706.3 80.8)"/><ellipse cx="709.0" cy="81.7" rx="2.9" ry="5.5" transform="rotate(19 709.0 81.7)"/><ellipse cx="711.4" cy="82.5" rx="2.9" ry="5.5" transform="rotate(19 711.4 82.5)"/><ellipse cx="714.5" cy="83.5" rx="2.9" ry="5.5" transform="rotate(18 714.5 83.5)"/></g>
<g fill="url(#cg2)" stroke="#7c7c7c" stroke-width="0.5" opacity="1"><ellipse cx="578.0" cy="85.0" rx="2.9" ry="5.5" transform="rotate(-58 578.0 85.0)"/><ellipse cx="579.3" cy="82.8" rx="2.9" ry="5.5" transform="rotate(-61 579.3 82.8)"/><ellipse cx="580.5" cy="80.6" rx="2.9" ry="5.5" transform="rotate(-61 580.5 80.6)"/><ellipse cx="582.0" cy="78.0" rx="2.9" ry="5.5" transform="rotate(-59 582.0 78.0)"/><ellipse cx="583.7" cy="75.3" rx="2.9" ry="5.5" transform="rotate(-57 583.7 75.3)"/><ellipse cx="585.5" cy="72.8" rx="2.9" ry="5.5" transform="rotate(-52 585.5 72.8)"/><ellipse cx="587.4" cy="70.6" rx="2.9" ry="5.5" transform="rotate(-45 587.4 70.6)"/><ellipse cx="589.3" cy="68.9" rx="2.9" ry="5.5" transform="rotate(-38 589.3 68.9)"/><ellipse cx="591.5" cy="67.3" rx="2.9" ry="5.5" transform="rotate(-34 591.5 67.3)"/><ellipse cx="593.8" cy="65.9" rx="2.9" ry="5.5" transform="rotate(-29 593.8 65.9)"/><ellipse cx="596.2" cy="64.7" rx="2.9" ry="5.5" transform="rotate(-25 596.2 64.7)"/><ellipse cx="598.7" cy="63.6" rx="2.9" ry="5.5" transform="rotate(-21 598.7 63.6)"/><ellipse cx="601.3" cy="62.7" rx="2.9" ry="5.5" transform="rotate(-17 601.3 62.7)"/><ellipse cx="604.0" cy="62.0" rx="2.9" ry="5.5" transform="rotate(-12 604.0 62.0)"/><ellipse cx="606.8" cy="61.5" rx="2.9" ry="5.5" transform="rotate(-8 606.8 61.5)"/><ellipse cx="609.8" cy="61.2" rx="2.9" ry="5.5" transform="rotate(-4 609.8 61.2)"/><ellipse cx="613.0" cy="61.0" rx="2.9" ry="5.5" transform="rotate(-1 613.0 61.0)"/><ellipse cx="616.1" cy="61.0" rx="2.9" ry="5.5" transform="rotate(2 616.1 61.0)"/><ellipse cx="619.2" cy="61.2" rx="2.9" ry="5.5" transform="rotate(6 619.2 61.2)"/><ellipse cx="622.1" cy="61.6" rx="2.9" ry="5.5" transform="rotate(10 622.1 61.6)"/><ellipse cx="624.9" cy="62.2" rx="2.9" ry="5.5" transform="rotate(16 624.9 62.2)"/><ellipse cx="627.7" cy="63.2" rx="2.9" ry="5.5" transform="rotate(23 627.7 63.2)"/><ellipse cx="630.5" cy="64.5" rx="2.9" ry="5.5" transform="rotate(27 630.5 64.5)"/><ellipse cx="633.2" cy="66.0" rx="2.9" ry="5.5" transform="rotate(30 633.2 66.0)"/><ellipse cx="635.7" cy="67.5" rx="2.9" ry="5.5" transform="rotate(31 635.7 67.5)"/><ellipse cx="637.9" cy="68.8" rx="2.9" ry="5.5" transform="rotate(31 637.9 68.8)"/><ellipse cx="640.0" cy="70.0" rx="2.9" ry="5.5" transform="rotate(28 640.0 70.0)"/></g>
<g fill="url(#cg2)" stroke="#7c7c7c" stroke-width="0.5" opacity="1"><ellipse cx="584.0" cy="98.0" rx="2.9" ry="5.5" transform="rotate(-37 584.0 98.0)"/><ellipse cx="586.1" cy="96.3" rx="2.9" ry="5.5" transform="rotate(-39 586.1 96.3)"/><ellipse cx="588.3" cy="94.5" rx="2.9" ry="5.5" transform="rotate(-39 588.3 94.5)"/><ellipse cx="590.9" cy="92.5" rx="2.9" ry="5.5" transform="rotate(-38 590.9 92.5)"/><ellipse cx="593.6" cy="90.4" rx="2.9" ry="5.5" transform="rotate(-37 593.6 90.4)"/><ellipse cx="596.4" cy="88.3" rx="2.9" ry="5.5" transform="rotate(-35 596.4 88.3)"/><ellipse cx="599.1" cy="86.5" rx="2.9" ry="5.5" transform="rotate(-32 599.1 86.5)"/><ellipse cx="601.7" cy="85.0" rx="2.9" ry="5.5" transform="rotate(-30 601.7 85.0)"/><ellipse cx="604.3" cy="83.5" rx="2.9" ry="5.5" transform="rotate(-30 604.3 83.5)"/><ellipse cx="607.0" cy="82.0" rx="2.9" ry="5.5" transform="rotate(-28 607.0 82.0)"/><ellipse cx="609.7" cy="80.7" rx="2.9" ry="5.5" transform="rotate(-25 609.7 80.7)"/><ellipse cx="612.4" cy="79.5" rx="2.9" ry="5.5" transform="rotate(-21 612.4 79.5)"/><ellipse cx="615.2" cy="78.6" rx="2.9" ry="5.5" transform="rotate(-16 615.2 78.6)"/><ellipse cx="618.0" cy="78.0" rx="2.9" ry="5.5" transform="rotate(-9 618.0 78.0)"/><ellipse cx="621.1" cy="77.8" rx="2.9" ry="5.5" transform="rotate(-0 621.1 77.8)"/><ellipse cx="624.5" cy="77.9" rx="2.9" ry="5.5" transform="rotate(5 624.5 77.9)"/><ellipse cx="628.0" cy="78.3" rx="2.9" ry="5.5" transform="rotate(8 628.0 78.3)"/><ellipse cx="631.3" cy="78.9" rx="2.9" ry="5.5" transform="rotate(10 631.3 78.9)"/><ellipse cx="634.4" cy="79.4" rx="2.9" ry="5.5" transform="rotate(10 634.4 79.4)"/><ellipse cx="636.8" cy="79.8" rx="2.9" ry="5.5" transform="rotate(9 636.8 79.8)"/></g>
<g fill="url(#cg2)" stroke="#7c7c7c" stroke-width="0.5" opacity="1"><ellipse cx="600.0" cy="110.0" rx="2.9" ry="5.5" transform="rotate(-46 600.0 110.0)"/><ellipse cx="602.0" cy="107.7" rx="2.9" ry="5.5" transform="rotate(-50 602.0 107.7)"/><ellipse cx="603.6" cy="105.7" rx="2.9" ry="5.5" transform="rotate(-50 603.6 105.7)"/><ellipse cx="605.5" cy="103.6" rx="2.9" ry="5.5" transform="rotate(-48 605.5 103.6)"/><ellipse cx="607.6" cy="101.5" rx="2.9" ry="5.5" transform="rotate(-44 607.6 101.5)"/><ellipse cx="609.8" cy="99.5" rx="2.9" ry="5.5" transform="rotate(-38 609.8 99.5)"/><ellipse cx="612.0" cy="98.0" rx="2.9" ry="5.5" transform="rotate(-30 612.0 98.0)"/><ellipse cx="614.4" cy="96.8" rx="2.9" ry="5.5" transform="rotate(-25 614.4 96.8)"/><ellipse cx="616.9" cy="95.7" rx="2.9" ry="5.5" transform="rotate(-21 616.9 95.7)"/><ellipse cx="619.6" cy="94.8" rx="2.9" ry="5.5" transform="rotate(-17 619.6 94.8)"/><ellipse cx="622.4" cy="94.1" rx="2.9" ry="5.5" transform="rotate(-13 622.4 94.1)"/><ellipse cx="625.2" cy="93.5" rx="2.9" ry="5.5" transform="rotate(-9 625.2 93.5)"/><ellipse cx="628.1" cy="93.1" rx="2.9" ry="5.5" transform="rotate(-6 628.1 93.1)"/><ellipse cx="631.0" cy="93.0" rx="2.9" ry="5.5" transform="rotate(-0 631.0 93.0)"/><ellipse cx="634.2" cy="93.1" rx="2.9" ry="5.5" transform="rotate(5 634.2 93.1)"/><ellipse cx="637.6" cy="93.6" rx="2.9" ry="5.5" transform="rotate(9 637.6 93.6)"/><ellipse cx="641.1" cy="94.2" rx="2.9" ry="5.5" transform="rotate(11 641.1 94.2)"/><ellipse cx="644.4" cy="94.9" rx="2.9" ry="5.5" transform="rotate(12 644.4 94.9)"/><ellipse cx="647.2" cy="95.5" rx="2.9" ry="5.5" transform="rotate(12 647.2 95.5)"/><ellipse cx="650.0" cy="96.0" rx="2.9" ry="5.5" transform="rotate(9 650.0 96.0)"/></g>
<g fill="url(#cg2)" stroke="#7c7c7c" stroke-width="0.5" opacity="1"><ellipse cx="640.0" cy="146.0" rx="2.9" ry="5.5" transform="rotate(-7 640.0 146.0)"/><ellipse cx="642.4" cy="145.7" rx="2.9" ry="5.5" transform="rotate(-7 642.4 145.7)"/><ellipse cx="645.7" cy="145.3" rx="2.9" ry="5.5" transform="rotate(-7 645.7 145.3)"/><ellipse cx="648.2" cy="145.0" rx="2.9" ry="5.5" transform="rotate(-7 648.2 145.0)"/><ellipse cx="650.9" cy="144.6" rx="2.9" ry="5.5" transform="rotate(-7 650.9 144.6)"/><ellipse cx="653.8" cy="144.3" rx="2.9" ry="5.5" transform="rotate(-7 653.8 144.3)"/><ellipse cx="656.7" cy="143.9" rx="2.9" ry="5.5" transform="rotate(-7 656.7 143.9)"/><ellipse cx="659.6" cy="143.6" rx="2.9" ry="5.5" transform="rotate(-7 659.6 143.6)"/><ellipse cx="662.4" cy="143.3" rx="2.9" ry="5.5" transform="rotate(-6 662.4 143.3)"/><ellipse cx="665.0" cy="143.0" rx="2.9" ry="5.5" transform="rotate(-6 665.0 143.0)"/><ellipse cx="667.5" cy="142.8" rx="2.9" ry="5.5" transform="rotate(-6 667.5 142.8)"/><ellipse cx="670.0" cy="142.5" rx="2.9" ry="5.5" transform="rotate(-6 670.0 142.5)"/><ellipse cx="672.5" cy="142.3" rx="2.9" ry="5.5" transform="rotate(-5 672.5 142.3)"/><ellipse cx="675.0" cy="142.0" rx="2.9" ry="5.5" transform="rotate(-5 675.0 142.0)"/><ellipse cx="677.5" cy="141.8" rx="2.9" ry="5.5" transform="rotate(-5 677.5 141.8)"/><ellipse cx="680.0" cy="141.6" rx="2.9" ry="5.5" transform="rotate(-4 680.0 141.6)"/><ellipse cx="682.5" cy="141.4" rx="2.9" ry="5.5" transform="rotate(-4 682.5 141.4)"/><ellipse cx="685.0" cy="141.3" rx="2.9" ry="5.5" transform="rotate(-4 685.0 141.3)"/><ellipse cx="687.5" cy="141.1" rx="2.9" ry="5.5" transform="rotate(-3 687.5 141.1)"/><ellipse cx="690.0" cy="141.0" rx="2.9" ry="5.5" transform="rotate(-2 690.0 141.0)"/><ellipse cx="692.6" cy="140.9" rx="2.9" ry="5.5" transform="rotate(-1 692.6 140.9)"/><ellipse cx="695.4" cy="140.9" rx="2.9" ry="5.5" transform="rotate(-1 695.4 140.9)"/><ellipse cx="698.3" cy="140.9" rx="2.9" ry="5.5" transform="rotate(-0 698.3 140.9)"/><ellipse cx="701.2" cy="140.9" rx="2.9" ry="5.5" transform="rotate(0 701.2 140.9)"/><ellipse cx="704.1" cy="140.9" rx="2.9" ry="5.5" transform="rotate(1 704.1 140.9)"/><ellipse cx="706.8" cy="140.9" rx="2.9" ry="5.5" transform="rotate(1 706.8 140.9)"/><ellipse cx="709.3" cy="140.9" rx="2.9" ry="5.5" transform="rotate(1 709.3 140.9)"/><ellipse cx="712.6" cy="141.0" rx="2.9" ry="5.5" transform="rotate(1 712.6 141.0)"/></g>
<ellipse cx="602" cy="82" rx="36" ry="32" fill="url(#rgw)"/>
<path d="M679.0,147.0 C679.7,144.5 684.5,143.2 686.0,145.0 C687.5,146.8 688.7,155.5 688.0,158.0 C687.3,160.5 683.5,161.8 682.0,160.0 C680.5,158.2 678.3,149.5 679.0,147.0 Z" fill="#fff" opacity="0.92"/>
<path d="M683.0,177.0 C683.5,173.0 686.8,172.3 688.0,176.0 C689.2,179.7 690.5,195.0 690.0,199.0 C689.5,203.0 686.2,203.7 685.0,200.0 C683.8,196.3 682.5,181.0 683.0,177.0 Z" fill="#fff" opacity="0.92"/>
<path d="M652.0,179.0 C652.2,176.0 654.2,175.3 655.0,178.0 C655.8,180.7 657.2,192.0 657.0,195.0 C656.8,198.0 654.8,198.7 654.0,196.0 C653.2,193.3 651.8,182.0 652.0,179.0 Z" fill="#fff" opacity="0.92"/>
</g>
<path d="M573.0,60.0 C574.7,56.2 577.5,53.7 581.0,52.0 C584.5,50.3 589.8,50.0 594.0,50.0 C598.2,50.0 601.5,50.3 606.0,52.0 C610.5,53.7 616.0,57.0 621.0,60.0 C626.0,63.0 631.8,67.3 636.0,70.0 C640.2,72.7 643.5,74.0 646.0,76.0 C648.5,78.0 649.3,80.5 651.0,82.0 C652.7,83.5 654.0,86.2 656.0,85.0 C658.0,83.8 659.7,77.5 663.0,75.0 C666.3,72.5 670.5,70.8 676.0,70.0 C681.5,69.2 690.2,68.3 696.0,70.0 C701.8,71.7 706.0,77.5 711.0,80.0 C716.0,82.5 721.7,82.2 726.0,85.0 C730.3,87.8 736.2,93.7 737.0,97.0 C737.8,100.3 733.7,102.0 731.0,105.0 C728.3,108.0 722.8,111.7 721.0,115.0 C719.2,118.3 720.0,120.8 720.0,125.0 C720.0,129.2 721.7,135.8 721.0,140.0 C720.3,144.2 718.0,146.7 716.0,150.0 C714.0,153.3 710.3,155.8 709.0,160.0 C707.7,164.2 707.8,170.3 708.0,175.0 C708.2,179.7 708.8,181.3 710.0,188.0 C711.2,194.7 713.3,207.2 715.0,215.0 C716.7,222.8 718.8,229.2 720.0,235.0 C721.2,240.8 722.5,245.8 722.0,250.0 C721.5,254.2 720.7,258.0 717.0,260.0 C713.3,262.0 703.3,260.0 700.0,262.0 C696.7,264.0 699.5,269.0 697.0,272.0 C694.5,275.0 690.3,277.8 685.0,280.0 C679.7,282.2 670.5,284.7 665.0,285.0 C659.5,285.3 654.5,283.7 652.0,282.0 C649.5,280.3 650.8,278.3 650.0,275.0 C649.2,271.7 647.8,265.3 647.0,262.0 C646.2,258.7 647.5,257.5 645.0,255.0 C642.5,252.5 633.7,249.5 632.0,247.0 C630.3,244.5 635.3,242.8 635.0,240.0 C634.7,237.2 630.0,234.2 630.0,230.0 C630.0,225.8 634.7,220.0 635.0,215.0 C635.3,210.0 633.7,203.3 632.0,200.0 C630.3,196.7 626.0,199.2 625.0,195.0 C624.0,190.8 624.3,180.0 626.0,175.0 C627.7,170.0 634.2,168.8 635.0,165.0 C635.8,161.2 632.5,154.8 631.0,152.0 C629.5,149.2 627.7,150.8 626.0,148.0 C624.3,145.2 624.0,139.7 621.0,135.0 C618.0,130.3 611.3,124.7 608.0,120.0 C604.7,115.3 604.7,110.3 601.0,107.0 C597.3,103.7 590.2,102.8 586.0,100.0 C581.8,97.2 578.5,94.2 576.0,90.0 C573.5,85.8 571.5,80.0 571.0,75.0 C570.5,70.0 571.3,63.8 573.0,60.0 Z" fill="none" stroke="#9a9a9a" stroke-width="0.7"/>
<path d="M557.0,81.0 C554.2,77.2 555.0,70.2 556.0,65.0 C557.0,59.8 560.2,53.8 563.0,50.0 C565.8,46.2 568.5,44.8 573.0,42.0 C577.5,39.2 585.3,36.2 590.0,33.0 C594.7,29.8 596.0,25.3 601.0,23.0 C606.0,20.7 613.5,19.0 620.0,19.0 C626.5,19.0 634.0,21.3 640.0,23.0 C646.0,24.7 652.2,25.8 656.0,29.0 C659.8,32.2 661.2,37.5 663.0,42.0 C664.8,46.5 668.2,52.7 667.0,56.0 C665.8,59.3 658.7,60.2 656.0,62.0 C653.3,63.8 652.7,64.7 651.0,67.0 C649.3,69.3 648.5,76.2 646.0,76.0 C643.5,75.8 640.2,69.5 636.0,66.0 C631.8,62.5 626.0,57.8 621.0,55.0 C616.0,52.2 610.7,50.0 606.0,49.0 C601.3,48.0 597.2,48.5 593.0,49.0 C588.8,49.5 584.3,50.2 581.0,52.0 C577.7,53.8 574.8,56.2 573.0,60.0 C571.2,63.8 570.0,70.3 570.0,75.0 C570.0,79.7 575.2,87.0 573.0,88.0 C570.8,89.0 559.8,84.8 557.0,81.0 Z" fill="#dca8df" opacity="0.6"/>
<path d="M566.0,84.0 C567.7,86.3 572.7,93.8 576.0,98.0 C579.3,102.2 582.8,105.7 586.0,109.0 C589.2,112.3 593.5,116.5 595.0,118.0" fill="none" stroke="#b474b4" stroke-width="5.3" opacity="0.9" stroke-linecap="round"/>
<path d="M566.0,84.0 C567.7,86.3 572.7,93.8 576.0,98.0 C579.3,102.2 582.8,105.7 586.0,109.0 C589.2,112.3 593.5,116.5 595.0,118.0" fill="none" stroke="#e2b2e2" stroke-width="3.5" opacity="0.9" stroke-linecap="round"/>
<g fill="none" stroke="#c27ac6" stroke-width="0.55" opacity="0.95"><ellipse cx="557.0" cy="86.0" rx="2.0" ry="6.0" transform="rotate(-88 557.0 86.0)"/><ellipse cx="557.0" cy="84.2" rx="2.0" ry="6.0" transform="rotate(-89 557.0 84.2)"/><ellipse cx="557.1" cy="82.7" rx="2.0" ry="6.0" transform="rotate(-90 557.1 82.7)"/><ellipse cx="557.1" cy="80.9" rx="2.0" ry="6.0" transform="rotate(-89 557.1 80.9)"/><ellipse cx="557.1" cy="78.9" rx="2.0" ry="6.0" transform="rotate(-89 557.1 78.9)"/><ellipse cx="557.2" cy="76.8" rx="2.0" ry="6.0" transform="rotate(-88 557.2 76.8)"/><ellipse cx="557.2" cy="74.7" rx="2.0" ry="6.0" transform="rotate(-87 557.2 74.7)"/><ellipse cx="557.4" cy="72.6" rx="2.0" ry="6.0" transform="rotate(-85 557.4 72.6)"/><ellipse cx="557.6" cy="70.7" rx="2.0" ry="6.0" transform="rotate(-83 557.6 70.7)"/><ellipse cx="557.8" cy="68.8" rx="2.0" ry="6.0" transform="rotate(-80 557.8 68.8)"/><ellipse cx="558.2" cy="67.2" rx="2.0" ry="6.0" transform="rotate(-76 558.2 67.2)"/><ellipse cx="558.6" cy="65.6" rx="2.0" ry="6.0" transform="rotate(-74 558.6 65.6)"/><ellipse cx="559.1" cy="64.1" rx="2.0" ry="6.0" transform="rotate(-72 559.1 64.1)"/><ellipse cx="559.6" cy="62.6" rx="2.0" ry="6.0" transform="rotate(-69 559.6 62.6)"/><ellipse cx="560.2" cy="61.1" rx="2.0" ry="6.0" transform="rotate(-67 560.2 61.1)"/><ellipse cx="560.8" cy="59.7" rx="2.0" ry="6.0" transform="rotate(-65 560.8 59.7)"/><ellipse cx="561.5" cy="58.4" rx="2.0" ry="6.0" transform="rotate(-63 561.5 58.4)"/><ellipse cx="562.5" cy="56.4" rx="2.0" ry="6.0" transform="rotate(-60 562.5 56.4)"/><ellipse cx="563.6" cy="54.6" rx="2.0" ry="6.0" transform="rotate(-58 563.6 54.6)"/><ellipse cx="564.8" cy="52.9" rx="2.0" ry="6.0" transform="rotate(-54 564.8 52.9)"/><ellipse cx="566.1" cy="51.2" rx="2.0" ry="6.0" transform="rotate(-50 566.1 51.2)"/><ellipse cx="567.4" cy="49.7" rx="2.0" ry="6.0" transform="rotate(-47 567.4 49.7)"/><ellipse cx="568.9" cy="48.2" rx="2.0" ry="6.0" transform="rotate(-43 568.9 48.2)"/><ellipse cx="570.3" cy="47.0" rx="2.0" ry="6.0" transform="rotate(-40 570.3 47.0)"/><ellipse cx="571.7" cy="45.9" rx="2.0" ry="6.0" transform="rotate(-36 571.7 45.9)"/><ellipse cx="573.0" cy="45.0" rx="2.0" ry="6.0" transform="rotate(-30 573.0 45.0)"/><ellipse cx="574.8" cy="44.3" rx="2.0" ry="6.0" transform="rotate(-15 574.8 44.3)"/><ellipse cx="576.7" cy="44.0" rx="2.0" ry="6.0" transform="rotate(-4 576.7 44.0)"/><ellipse cx="578.4" cy="43.9" rx="2.0" ry="6.0" transform="rotate(1 578.4 43.9)"/><ellipse cx="579.9" cy="44.0" rx="2.0" ry="6.0" transform="rotate(2 579.9 44.0)"/></g>
<path d="M552.0,86.0 C552.2,82.7 551.7,72.0 553.0,66.0 C554.3,60.0 557.0,54.3 560.0,50.0 C563.0,45.7 567.7,41.8 571.0,40.0 C574.3,38.2 578.5,39.2 580.0,39.0" fill="none" stroke="#b070b4" stroke-width="0.9" opacity="0.9" stroke-linecap="round"/>
<path d="M562.0,86.0 C562.2,83.3 562.0,74.7 563.0,70.0 C564.0,65.3 565.8,61.3 568.0,58.0 C570.2,54.7 573.5,51.5 576.0,50.0 C578.5,48.5 581.8,49.2 583.0,49.0" fill="none" stroke="#b070b4" stroke-width="0.9" opacity="0.9" stroke-linecap="round"/>
<path d="M576.0,39.0 C576.7,38.7 578.8,36.5 580.0,37.0 C581.2,37.5 582.7,40.2 583.0,42.0 C583.3,43.8 582.2,47.0 582.0,48.0" fill="none" stroke="#8a3a8e" stroke-width="1.6" opacity="0.9" stroke-linecap="round"/>
<path d="M601.5,27.0L600.5,21.0M603.4,26.6L602.2,20.7M605.0,26.2L603.7,20.4M606.8,25.8L605.6,20.0M608.8,25.4L607.6,19.5M610.9,25.0L609.8,19.1M613.0,24.6L612.0,18.7M615.1,24.3L614.4,18.4M617.2,24.1L616.7,18.1M619.0,24.0L619.0,18.0M620.8,24.0L621.1,18.0M622.7,24.2L623.3,18.2M624.6,24.4L625.5,18.5M626.6,24.8L627.7,18.9M628.7,25.1L629.9,19.3M630.7,25.6L632.0,19.8M632.7,26.1L634.1,20.3M634.6,26.6L636.2,20.8M636.5,27.1L638.1,21.3M638.3,27.6L640.0,21.9M640.0,28.1L641.7,22.4M641.7,28.6L643.3,22.8M643.2,29.1L645.0,23.3M644.7,29.5L646.5,23.8M646.1,30.0L648.1,24.3M647.4,30.5L649.6,24.9M648.6,31.0L651.1,25.6M649.7,31.6L652.6,26.3M650.7,32.2L654.0,27.2M651.6,32.9L655.4,28.2M652.4,33.6L656.7,29.4M653.1,34.4L657.8,30.7M653.8,35.4L658.8,32.1M654.5,36.5L659.7,33.6M655.1,37.7L660.5,35.1M655.7,39.0L661.2,36.6M656.3,40.4L661.8,38.1M656.8,41.8L662.4,39.5M657.4,43.2L663.0,40.9M658.0,44.5L663.5,42.2M658.5,45.8L664.0,43.5M659.0,47.0L664.6,44.9M659.5,48.3L665.1,46.4M659.9,49.7L665.6,47.8M660.4,51.0L666.1,49.2M660.8,52.3L666.5,50.6M661.1,53.6L666.9,51.9M661.6,55.2L667.4,53.5M662.0,56.6L667.8,54.8" fill="none" stroke="#c07cc4" stroke-width="0.55" opacity="0.95"/>
<path d="M601.0,21.0 C604.2,20.5 613.5,17.8 620.0,18.0 C626.5,18.2 634.0,20.3 640.0,22.0 C646.0,23.7 652.0,24.7 656.0,28.0 C660.0,31.3 662.0,37.5 664.0,42.0 C666.0,46.5 667.3,52.8 668.0,55.0" fill="none" stroke="#b070b4" stroke-width="0.8" opacity="0.9" stroke-linecap="round"/>
<path d="M589.8,39.9L588.2,34.1M591.4,39.4L589.6,33.7M592.7,39.0L590.9,33.3M594.2,38.6L592.5,32.8M595.9,38.1L594.1,32.3M597.6,37.6L596.0,31.8M599.4,37.1L597.9,31.3M601.1,36.7L599.8,30.8M602.9,36.3L601.8,30.4M604.5,36.1L603.8,30.1M606.1,35.9L605.6,29.9M607.7,35.8L607.5,29.8M609.4,35.8L609.3,29.8M611.2,35.8L611.2,29.8M612.9,35.8L613.1,29.8M614.7,35.9L615.1,29.9M616.4,36.1L617.0,30.1M618.2,36.3L618.9,30.3M619.9,36.5L620.8,30.6M621.6,36.8L622.7,30.9M623.2,37.1L624.5,31.3M624.9,37.5L626.4,31.7M626.7,38.0L628.3,32.2M628.4,38.5L630.2,32.7M630.1,39.0L632.0,33.4M631.8,39.6L633.9,34.0M633.4,40.3L635.6,34.7M635.0,40.9L637.4,35.4M636.5,41.6L639.1,36.2M637.9,42.3L640.7,37.0M639.2,43.0L642.2,37.8M640.4,43.7L643.6,38.6M641.4,44.4L644.9,39.6M642.5,45.2L646.2,40.5M643.5,46.0L647.4,41.4M644.4,46.9L648.5,42.4M645.4,47.8L649.5,43.4M646.4,48.7L650.5,44.4M647.4,49.7L651.6,45.4M648.4,50.7L652.6,46.3M649.4,51.7L653.6,47.4M650.5,52.7L654.8,48.6M651.6,53.9L656.0,49.8M652.7,55.2L657.2,51.1M653.9,56.4L658.4,52.4M655.0,57.7L659.5,53.7M656.0,58.9L660.5,54.9M657.0,59.9L661.5,56.0M657.8,60.9L662.3,57.0M658.8,62.0L663.2,58.0" fill="none" stroke="#c484c8" stroke-width="0.55" opacity="0.95"/>
<path d="M598.0,40.0 C600.8,39.5 609.3,37.2 615.0,37.0 C620.7,36.8 626.8,37.5 632.0,39.0 C637.2,40.5 642.2,43.3 646.0,46.0 C649.8,48.7 653.5,53.5 655.0,55.0" fill="none" stroke="#b070b4" stroke-width="6.8" opacity="0.9" stroke-linecap="round"/>
<path d="M598.0,40.0 C600.8,39.5 609.3,37.2 615.0,37.0 C620.7,36.8 626.8,37.5 632.0,39.0 C637.2,40.5 642.2,43.3 646.0,46.0 C649.8,48.7 653.5,53.5 655.0,55.0" fill="none" stroke="#ecc0ec" stroke-width="5" opacity="0.9" stroke-linecap="round"/>
<path d="M592.7,47.4L591.3,42.6M594.3,46.9L592.6,42.2M595.5,46.4L593.8,41.7M597.0,45.9L595.2,41.2M598.5,45.3L596.8,40.6M600.1,44.8L598.6,40.0M601.7,44.3L600.4,39.5M603.4,43.9L602.3,39.0M604.9,43.6L604.2,38.7M606.3,43.5L606.1,38.5M607.6,43.5L608.0,38.5M609.0,43.7L609.7,38.7M610.5,43.9L611.5,39.1M612.0,44.3L613.2,39.5M613.5,44.7L615.0,40.0M615.0,45.3L616.7,40.6M616.6,45.8L618.4,41.2M618.1,46.5L620.1,41.9M619.7,47.2L621.7,42.6M621.1,47.9L623.3,43.4M622.6,48.6L624.9,44.2M624.0,49.4L626.5,45.0M625.4,50.2L628.1,46.0M626.8,51.1L629.6,47.0M628.2,52.1L631.1,48.0M629.6,53.1L632.6,49.1M630.9,54.1L634.0,50.2M632.2,55.2L635.4,51.3M633.5,56.2L636.8,52.4M634.7,57.3L638.1,53.6M635.9,58.4L639.3,54.8M637.0,59.5L640.6,56.1M638.1,60.8L641.9,57.5M639.3,62.1L643.1,58.9M640.4,63.5L644.3,60.4M641.4,64.8L645.4,61.8M642.4,66.1L646.4,63.1M643.3,67.3L647.3,64.3M644.4,68.8L648.4,65.7" fill="none" stroke="#c484c8" stroke-width="0.55" opacity="0.9"/>
<path d="M590.0,49.0 C592.8,48.3 601.7,44.8 607.0,45.0 C612.3,45.2 617.3,47.5 622.0,50.0 C626.7,52.5 631.2,56.3 635.0,60.0 C638.8,63.7 643.3,70.0 645.0,72.0" fill="none" stroke="#a868ac" stroke-width="1.0" opacity="0.9" stroke-linecap="round"/>
<path d="M574.0,42.0 C575.3,41.0 579.3,37.5 582.0,36.0 C584.7,34.5 588.7,33.5 590.0,33.0" fill="none" stroke="#a05aa4" stroke-width="1.4" opacity="0.9" stroke-linecap="round"/>
<path d="M657.0,33.0 C657.5,32.5 659.0,29.7 660.0,30.0 C661.0,30.3 662.5,34.2 663.0,35.0" fill="none" stroke="#8a3a8e" stroke-width="1.4" opacity="0.9" stroke-linecap="round"/>
<path d="M663,75 C670,68 690,66 705,72 C712,76 718,80 726,85 C712,82 695,77 665,80 Z" fill="#dcaedc" opacity="0.85"/>
<path d="M663.0,75.0 C665.2,74.0 670.5,70.0 676.0,69.0 C681.5,68.0 690.0,67.7 696.0,69.0 C702.0,70.3 707.0,74.3 712.0,77.0 C717.0,79.7 723.7,83.7 726.0,85.0" fill="none" stroke="#b078b0" stroke-width="1.0" opacity="0.9" stroke-linecap="round"/>
<path d="M650.0,84.0 C650.5,83.0 651.8,78.7 653.0,78.0 C654.2,77.3 656.3,79.7 657.0,80.0" fill="none" stroke="#c080c4" stroke-width="1.5" opacity="0.8" stroke-linecap="round"/>
<path d="M553.5,102.5L558.5,97.5M554.9,103.8L559.8,98.8M556.5,105.4L561.4,100.4M557.9,106.7L562.9,101.8M559.1,108.1L564.2,103.3M560.3,109.4L565.6,104.7M561.7,110.9L567.0,106.4M563.0,112.5L568.4,108.0M564.2,114.0L569.6,109.5" fill="none" stroke="#999" stroke-width="0.5" opacity="0.8"/>
<text x="406.7" y="265.6" font-size="15.5" text-anchor="start" font-weight="normal" font-style="normal" fill="#000" textLength="48" lengthAdjust="spacingAndGlyphs">Linear</text>
<text x="590.9" y="265.3" font-size="15.5" text-anchor="start" font-weight="normal" font-style="normal" fill="#000" textLength="40.7" lengthAdjust="spacingAndGlyphs">NOLB</text>
<text x="8" y="367.5" font-size="18.5" text-anchor="start" font-weight="bold" font-style="normal" fill="#000">C</text>
<line x1="61.5" y1="655.95" x2="371.5" y2="379.0" stroke="#bbb" stroke-width="1" stroke-dasharray="3,3"/>
<path d="M78.3,560.8000000000001 L82.6,568.0150000000001 L74.0,568.0150000000001 Z" fill="none" stroke="#a6a6a6" stroke-width="1.2" stroke-linejoin="miter"/>
<path d="M101.7,568.3000000000001 L106.0,575.5150000000001 L97.4,575.5150000000001 Z" fill="none" stroke="#222222" stroke-width="1.2" stroke-linejoin="miter"/>
<path d="M104.2,572.4 L108.5,579.615 L99.9,579.615 Z" fill="none" stroke="#505050" stroke-width="1.2" stroke-linejoin="miter"/>
<path d="M93.7,584.1 L98.0,591.315 L89.4,591.315 Z" fill="none" stroke="#505050" stroke-width="1.2" stroke-linejoin="miter"/>
<path d="M94.2,585.8000000000001 L98.5,593.0150000000001 L89.9,593.0150000000001 Z" fill="none" stroke="#7c7c7c" stroke-width="1.2" stroke-linejoin="miter"/>
<path d="M72.2,591.6 L76.5,598.815 L67.9,598.815 Z" fill="none" stroke="#505050" stroke-width="1.2" stroke-linejoin="miter"/>
<path d="M90.0,599.1 L94.3,606.315 L85.7,606.315 Z" fill="none" stroke="#222222" stroke-width="1.2" stroke-linejoin="miter"/>
<path d="M83.3,605.8000000000001 L87.6,613.0150000000001 L79.0,613.0150000000001 Z" fill="none" stroke="#222222" stroke-width="1.2" stroke-linejoin="miter"/>
<path d="M98.3,606.6 L102.6,613.815 L94.0,613.815 Z" fill="none" stroke="#7c7c7c" stroke-width="1.2" stroke-linejoin="miter"/>
<path d="M92.5,614.1 L96.8,621.315 L88.2,621.315 Z" fill="none" stroke="#7c7c7c" stroke-width="1.2" stroke-linejoin="miter"/>
<path d="M100.0,617.4 L104.3,624.615 L95.7,624.615 Z" fill="none" stroke="#505050" stroke-width="1.2" stroke-linejoin="miter"/>
<path d="M150.8,559.1 L155.10000000000002,566.315 L146.5,566.315 Z" fill="none" stroke="#222222" stroke-width="1.2" stroke-linejoin="miter"/>
<path d="M167.5,563.3000000000001 L171.8,570.5150000000001 L163.2,570.5150000000001 Z" fill="none" stroke="#505050" stroke-width="1.2" stroke-linejoin="miter"/>
<path d="M139.2,576.6 L143.5,583.815 L134.89999999999998,583.815 Z" fill="none" stroke="#505050" stroke-width="1.2" stroke-linejoin="miter"/>
<path d="M128.3,587.4 L132.60000000000002,594.615 L124.00000000000001,594.615 Z" fill="none" stroke="#a6a6a6" stroke-width="1.2" stroke-linejoin="miter"/>
<path d="M133.3,583.3000000000001 L137.60000000000002,590.5150000000001 L129.0,590.5150000000001 Z" fill="none" stroke="#a6a6a6" stroke-width="1.2" stroke-linejoin="miter"/>
<path d="M125.8,592.4 L130.1,599.615 L121.5,599.615 Z" fill="none" stroke="#222222" stroke-width="1.2" stroke-linejoin="miter"/>
<path d="M73.3,641.6 L77.6,648.815 L69.0,648.815 Z" fill="none" stroke="#7c7c7c" stroke-width="1.2" stroke-linejoin="miter"/>
<path d="M64.2,650.8000000000001 L68.5,658.0150000000001 L59.900000000000006,658.0150000000001 Z" fill="none" stroke="#505050" stroke-width="1.2" stroke-linejoin="miter"/>
<path d="M68.3,646.6 L72.6,653.815 L64.0,653.815 Z" fill="none" stroke="#505050" stroke-width="1.2" stroke-linejoin="miter"/>
<circle cx="135.5" cy="556.0" r="3.2" fill="none" stroke="#4065b2" stroke-width="1.25"/>
<circle cx="143.8" cy="551.3" r="3.2" fill="none" stroke="#4065b2" stroke-width="1.25"/>
<circle cx="152.8" cy="560.5" r="3.2" fill="none" stroke="#4065b2" stroke-width="1.25"/>
<circle cx="141.3" cy="575.2" r="3.2" fill="none" stroke="#4065b2" stroke-width="1.25"/>
<circle cx="153.7" cy="573.0" r="3.2" fill="none" stroke="#9ebde3" stroke-width="1.25"/>
<circle cx="133.3" cy="583.3" r="3.2" fill="none" stroke="#9ebde3" stroke-width="1.25"/>
<circle cx="124.7" cy="599.7" r="3.2" fill="none" stroke="#6b90cf" stroke-width="1.25"/>
<circle cx="103.3" cy="581.0" r="3.2" fill="none" stroke="#4065b2" stroke-width="1.25"/>
<circle cx="107.0" cy="587.5" r="3.2" fill="none" stroke="#6b90cf" stroke-width="1.25"/>
<circle cx="111.7" cy="592.5" r="3.2" fill="none" stroke="#9ebde3" stroke-width="1.25"/>
<circle cx="114.7" cy="579.2" r="3.2" fill="none" stroke="#6b90cf" stroke-width="1.25"/>
<circle cx="120.0" cy="576.3" r="3.2" fill="none" stroke="#9ebde3" stroke-width="1.25"/>
<circle cx="81.3" cy="606.3" r="3.2" fill="none" stroke="#6b90cf" stroke-width="1.25"/>
<circle cx="92.5" cy="604.7" r="3.2" fill="none" stroke="#9ebde3" stroke-width="1.25"/>
<circle cx="97.8" cy="612.2" r="3.2" fill="none" stroke="#4065b2" stroke-width="1.25"/>
<circle cx="98.3" cy="616.3" r="3.2" fill="none" stroke="#6b90cf" stroke-width="1.25"/>
<circle cx="99.2" cy="620.5" r="3.2" fill="none" stroke="#6b90cf" stroke-width="1.25"/>
<circle cx="92.5" cy="626.3" r="3.2" fill="none" stroke="#9ebde3" stroke-width="1.25"/>
<circle cx="86.3" cy="633.5" r="3.2" fill="none" stroke="#6b90cf" stroke-width="1.25"/>
<circle cx="101.2" cy="638.0" r="3.2" fill="none" stroke="#9ebde3" stroke-width="1.25"/>
<circle cx="170.0" cy="556.3" r="3.2" fill="none" stroke="#9ebde3" stroke-width="1.25"/>
<circle cx="70.8" cy="648.0" r="3.2" fill="none" stroke="#6b90cf" stroke-width="1.25"/>
<circle cx="65.8" cy="653.0" r="3.2" fill="none" stroke="#4065b2" stroke-width="1.25"/>
<path d="M89.5,621.8 L93.5,625.8 L89.5,629.8 L85.5,625.8 Z" fill="none" stroke="#dc7a33" stroke-width="1.25"/>
<path d="M70.8,643.5 L74.8,647.5 L70.8,651.5 L66.8,647.5 Z" fill="none" stroke="#dc7a33" stroke-width="1.25"/>
<path d="M64.2,649.8 L68.2,653.8 L64.2,657.8 L60.2,653.8 Z" fill="none" stroke="#dc7a33" stroke-width="1.25"/>
<path d="M168.7,555.7 L172.7,559.7 L168.7,563.7 L164.7,559.7 Z" fill="none" stroke="#dc7a33" stroke-width="1.25"/>
<path d="M175.3,545.1 L179.3,549.1 L175.3,553.1 L171.3,549.1 Z" fill="none" stroke="#e9a35a" stroke-width="1.25"/>
<circle cx="125.3" cy="475.7" r="3.2" fill="none" stroke="#6b90cf" stroke-width="1.25"/>
<path d="M139.5,472.6 L143.8,479.815 L135.2,479.815 Z" fill="none" stroke="#505050" stroke-width="1.2" stroke-linejoin="miter"/>
<path d="M156.7,475.1 L161.0,482.315 L152.39999999999998,482.315 Z" fill="none" stroke="#222222" stroke-width="1.2" stroke-linejoin="miter"/>
<path d="M157.5,477.0 L161.5,481.0 L157.5,485.0 L153.5,481.0 Z" fill="none" stroke="#dc7a33" stroke-width="1.25"/>
<path d="M160.0,480.6 L164.3,487.815 L155.7,487.815 Z" fill="none" stroke="#222222" stroke-width="1.2" stroke-linejoin="miter"/>
<circle cx="164.2" cy="472.0" r="3.2" fill="none" stroke="#4065b2" stroke-width="1.25"/>
<circle cx="164.7" cy="495.7" r="3.2" fill="none" stroke="#9ebde3" stroke-width="1.25"/>
<circle cx="168.3" cy="499.0" r="3.2" fill="none" stroke="#6b90cf" stroke-width="1.25"/>
<circle cx="169.7" cy="497.8" r="3.2" fill="none" stroke="#9ebde3" stroke-width="1.25"/>
<circle cx="103.3" cy="511.0" r="3.2" fill="none" stroke="#6b90cf" stroke-width="1.25"/>
<path d="M146.2,516.3000000000001 L150.5,523.5150000000001 L141.89999999999998,523.5150000000001 Z" fill="none" stroke="#7c7c7c" stroke-width="1.2" stroke-linejoin="miter"/>
<circle cx="151.3" cy="526.0" r="3.2" fill="none" stroke="#4065b2" stroke-width="1.25"/>
<circle cx="171.2" cy="521.5" r="3.2" fill="none" stroke="#4065b2" stroke-width="1.25"/>
<circle cx="154.7" cy="535.3" r="3.2" fill="none" stroke="#9ebde3" stroke-width="1.25"/>
<circle cx="163.3" cy="534.3" r="3.2" fill="none" stroke="#4065b2" stroke-width="1.25"/>
<path d="M163.7,535.0 L167.7,539.0 L163.7,543.0 L159.7,539.0 Z" fill="none" stroke="#b9551f" stroke-width="1.25"/>
<circle cx="137.2" cy="537.3" r="3.2" fill="none" stroke="#6b90cf" stroke-width="1.25"/>
<path d="M78.0,537.6 L82.3,544.815 L73.7,544.815 Z" fill="none" stroke="#222222" stroke-width="1.2" stroke-linejoin="miter"/>
<path d="M146.3,538.4 L150.60000000000002,545.615 L142.0,545.615 Z" fill="none" stroke="#7c7c7c" stroke-width="1.2" stroke-linejoin="miter"/>
<path d="M150.3,543.8000000000001 L154.60000000000002,551.0150000000001 L146.0,551.0150000000001 Z" fill="none" stroke="#505050" stroke-width="1.2" stroke-linejoin="miter"/>
<circle cx="148.3" cy="545.7" r="3.2" fill="none" stroke="#6b90cf" stroke-width="1.25"/>
<circle cx="155.8" cy="544.8" r="3.2" fill="none" stroke="#6b90cf" stroke-width="1.25"/>
<circle cx="160.0" cy="542.3" r="3.2" fill="none" stroke="#6b90cf" stroke-width="1.25"/>
<circle cx="176.3" cy="551.9" r="3.2" fill="none" stroke="#9ebde3" stroke-width="1.25"/>
<circle cx="226.2" cy="432.7" r="3.2" fill="none" stroke="#6b90cf" stroke-width="1.25"/>
<path d="M224.0,435.0 L228.0,439.0 L224.0,443.0 L220.0,439.0 Z" fill="none" stroke="#e9a35a" stroke-width="1.25"/>
<circle cx="257.3" cy="435.3" r="3.2" fill="none" stroke="#9ebde3" stroke-width="1.25"/>
<circle cx="245.2" cy="444.0" r="3.2" fill="none" stroke="#9ebde3" stroke-width="1.25"/>
<path d="M259.8,445.3 L263.8,449.3 L259.8,453.3 L255.8,449.3 Z" fill="none" stroke="#b9551f" stroke-width="1.25"/>
<path d="M283.2,438.3 L287.2,442.3 L283.2,446.3 L279.2,442.3 Z" fill="none" stroke="#8e3414" stroke-width="1.25"/>
<circle cx="278.2" cy="444.8" r="3.2" fill="none" stroke="#6b90cf" stroke-width="1.25"/>
<circle cx="285.3" cy="443.7" r="3.2" fill="none" stroke="#6b90cf" stroke-width="1.25"/>
<path d="M231.0,454.5 L235.0,458.5 L231.0,462.5 L227.0,458.5 Z" fill="none" stroke="#8e3414" stroke-width="1.25"/>
<circle cx="235.7" cy="457.0" r="3.2" fill="none" stroke="#6b90cf" stroke-width="1.25"/>
<path d="M232.3,464.7 L236.3,468.7 L232.3,472.7 L228.3,468.7 Z" fill="none" stroke="#8e3414" stroke-width="1.25"/>
<path d="M223.5,472.5 L227.5,476.5 L223.5,480.5 L219.5,476.5 Z" fill="none" stroke="#b9551f" stroke-width="1.25"/>
<circle cx="226.2" cy="475.7" r="3.2" fill="none" stroke="#9ebde3" stroke-width="1.25"/>
<path d="M246.2,466.7 L250.2,470.7 L246.2,474.7 L242.2,470.7 Z" fill="none" stroke="#e9a35a" stroke-width="1.25"/>
<path d="M246.2,474.7 L250.2,478.7 L246.2,482.7 L242.2,478.7 Z" fill="none" stroke="#e9a35a" stroke-width="1.25"/>
<circle cx="273.2" cy="452.3" r="3.2" fill="none" stroke="#9ebde3" stroke-width="1.25"/>
<path d="M270.7,452.5 L274.7,456.5 L270.7,460.5 L266.7,456.5 Z" fill="none" stroke="#e9a35a" stroke-width="1.25"/>
<circle cx="273.2" cy="457.7" r="3.2" fill="none" stroke="#4065b2" stroke-width="1.25"/>
<path d="M269.8,456.7 L273.8,460.7 L269.8,464.7 L265.8,460.7 Z" fill="none" stroke="#b9551f" stroke-width="1.25"/>
<circle cx="265.3" cy="467.0" r="3.2" fill="none" stroke="#9ebde3" stroke-width="1.25"/>
<path d="M268.2,463.3 L272.2,467.3 L268.2,471.3 L264.2,467.3 Z" fill="none" stroke="#b9551f" stroke-width="1.25"/>
<path d="M280.3,466.3 L284.3,470.3 L280.3,474.3 L276.3,470.3 Z" fill="none" stroke="#dc7a33" stroke-width="1.25"/>
<circle cx="208.5" cy="485.2" r="3.2" fill="none" stroke="#9ebde3" stroke-width="1.25"/>
<path d="M177.7,483.3 L181.7,487.3 L177.7,491.3 L173.7,487.3 Z" fill="none" stroke="#dc7a33" stroke-width="1.25"/>
<circle cx="232.3" cy="485.2" r="3.2" fill="none" stroke="#6b90cf" stroke-width="1.25"/>
<path d="M239.0,483.0 L243.0,487.0 L239.0,491.0 L235.0,487.0 Z" fill="none" stroke="#b9551f" stroke-width="1.25"/>
<circle cx="242.3" cy="485.3" r="3.2" fill="none" stroke="#6b90cf" stroke-width="1.25"/>
<circle cx="251.2" cy="484.0" r="3.2" fill="none" stroke="#9ebde3" stroke-width="1.25"/>
<path d="M248.2,485.3 L252.2,489.3 L248.2,493.3 L244.2,489.3 Z" fill="none" stroke="#e9a35a" stroke-width="1.25"/>
<path d="M249.3,488.3 L253.3,492.3 L249.3,496.3 L245.3,492.3 Z" fill="none" stroke="#dc7a33" stroke-width="1.25"/>
<circle cx="241.5" cy="492.3" r="3.2" fill="none" stroke="#6b90cf" stroke-width="1.25"/>
<circle cx="227.3" cy="495.2" r="3.2" fill="none" stroke="#9ebde3" stroke-width="1.25"/>
<circle cx="239.0" cy="498.2" r="3.2" fill="none" stroke="#9ebde3" stroke-width="1.25"/>
<circle cx="232.3" cy="502.3" r="3.2" fill="none" stroke="#9ebde3" stroke-width="1.25"/>
<circle cx="227.7" cy="503.2" r="3.2" fill="none" stroke="#6b90cf" stroke-width="1.25"/>
<circle cx="228.5" cy="506.0" r="3.2" fill="none" stroke="#9ebde3" stroke-width="1.25"/>
<circle cx="193.7" cy="502.0" r="3.2" fill="none" stroke="#6b90cf" stroke-width="1.25"/>
<path d="M197.3,503.90000000000003 L201.60000000000002,511.115 L193.0,511.115 Z" fill="none" stroke="#7c7c7c" stroke-width="1.2" stroke-linejoin="miter"/>
<circle cx="189.0" cy="511.0" r="3.2" fill="none" stroke="#6b90cf" stroke-width="1.25"/>
<circle cx="195.2" cy="511.5" r="3.2" fill="none" stroke="#6b90cf" stroke-width="1.25"/>
<path d="M208.2,498.3 L212.2,502.3 L208.2,506.3 L204.2,502.3 Z" fill="none" stroke="#dc7a33" stroke-width="1.25"/>
<circle cx="221.5" cy="512.0" r="3.2" fill="none" stroke="#4065b2" stroke-width="1.25"/>
<path d="M208.5,513.3 L212.5,517.3 L208.5,521.3 L204.5,517.3 Z" fill="none" stroke="#e9a35a" stroke-width="1.25"/>
<circle cx="199.3" cy="519.0" r="3.2" fill="none" stroke="#6b90cf" stroke-width="1.25"/>
<path d="M208.2,525.0 L212.2,529.0 L208.2,533.0 L204.2,529.0 Z" fill="none" stroke="#dc7a33" stroke-width="1.25"/>
<circle cx="193.2" cy="529.5" r="3.2" fill="none" stroke="#6b90cf" stroke-width="1.25"/>
<circle cx="200.7" cy="529.5" r="3.2" fill="none" stroke="#9ebde3" stroke-width="1.25"/>
<circle cx="199.8" cy="535.7" r="3.2" fill="none" stroke="#9ebde3" stroke-width="1.25"/>
<path d="M179.8,523.4 L184.10000000000002,530.615 L175.5,530.615 Z" fill="none" stroke="#505050" stroke-width="1.2" stroke-linejoin="miter"/>
<path d="M179.3,522.5 L183.3,526.5 L179.3,530.5 L175.3,526.5 Z" fill="none" stroke="#dc7a33" stroke-width="1.25"/>
<path d="M317.0,395.0 L321.0,399.0 L317.0,403.0 L313.0,399.0 Z" fill="none" stroke="#b9551f" stroke-width="1.25"/>
<path d="M335.1,397.3 L339.1,401.3 L335.1,405.3 L331.1,401.3 Z" fill="none" stroke="#8e3414" stroke-width="1.25"/>
<path d="M299.3,399.5 L303.3,403.5 L299.3,407.5 L295.3,403.5 Z" fill="none" stroke="#8e3414" stroke-width="1.25"/>
<path d="M306.5,404.0 L310.5,408.0 L306.5,412.0 L302.5,408.0 Z" fill="none" stroke="#8e3414" stroke-width="1.25"/>
<path d="M314.0,403.3 L318.0,407.3 L314.0,411.3 L310.0,407.3 Z" fill="none" stroke="#b9551f" stroke-width="1.25"/>
<path d="M319.3,403.3 L323.3,407.3 L319.3,411.3 L315.3,407.3 Z" fill="none" stroke="#e9a35a" stroke-width="1.25"/>
<path d="M307.7,409.3 L311.7,413.3 L307.7,417.3 L303.7,413.3 Z" fill="none" stroke="#8e3414" stroke-width="1.25"/>
<path d="M317.8,410.0 L321.8,414.0 L317.8,418.0 L313.8,414.0 Z" fill="none" stroke="#b9551f" stroke-width="1.25"/>
<path d="M317.8,413.8 L321.8,417.8 L317.8,421.8 L313.8,417.8 Z" fill="none" stroke="#8e3414" stroke-width="1.25"/>
<path d="M314.0,417.5 L318.0,421.5 L314.0,425.5 L310.0,421.5 Z" fill="none" stroke="#8e3414" stroke-width="1.25"/>
<path d="M323.8,419.8 L327.8,423.8 L323.8,427.8 L319.8,423.8 Z" fill="none" stroke="#dc7a33" stroke-width="1.25"/>
<path d="M321.6,414.5 L325.6,418.5 L321.6,422.5 L317.6,418.5 Z" fill="none" stroke="#dc7a33" stroke-width="1.25"/>
<path d="M292.3,413.0 L296.3,417.0 L292.3,421.0 L288.3,417.0 Z" fill="none" stroke="#b9551f" stroke-width="1.25"/>
<circle cx="287.0" cy="421.5" r="3.2" fill="none" stroke="#4065b2" stroke-width="1.25"/>
<circle cx="304.3" cy="424.5" r="3.2" fill="none" stroke="#6b90cf" stroke-width="1.25"/>
<path d="M306.5,423.5 L310.5,427.5 L306.5,431.5 L302.5,427.5 Z" fill="none" stroke="#b9551f" stroke-width="1.25"/>
<path d="M308.8,425.8 L312.8,429.8 L308.8,433.8 L304.8,429.8 Z" fill="none" stroke="#b9551f" stroke-width="1.25"/>
<path d="M310.0,424.0 L314.0,428.0 L310.0,432.0 L306.0,428.0 Z" fill="none" stroke="#dc7a33" stroke-width="1.25"/>
<circle cx="314.8" cy="432.0" r="3.2" fill="none" stroke="#6b90cf" stroke-width="1.25"/>
<path d="M296.8,425.0 L300.8,429.0 L296.8,433.0 L292.8,429.0 Z" fill="none" stroke="#dc7a33" stroke-width="1.25"/>
<circle cx="303.5" cy="429.0" r="3.2" fill="none" stroke="#6b90cf" stroke-width="1.25"/>
<circle cx="300.5" cy="438.8" r="3.2" fill="none" stroke="#6b90cf" stroke-width="1.25"/>
<path d="M299.0,440.0 L303.0,444.0 L299.0,448.0 L295.0,444.0 Z" fill="none" stroke="#b9551f" stroke-width="1.25"/>
<path d="M297.5,442.3 L301.5,446.3 L297.5,450.3 L293.5,446.3 Z" fill="none" stroke="#b9551f" stroke-width="1.25"/>
<circle cx="278.0" cy="444.0" r="3.2" fill="none" stroke="#9ebde3" stroke-width="1.25"/>
<circle cx="273.5" cy="451.6" r="3.2" fill="none" stroke="#9ebde3" stroke-width="1.25"/>
<circle cx="174.5" cy="420.3" r="3.2" fill="none" stroke="#4065b2" stroke-width="1.25"/>
<path d="M307.5,426.5 L311.5,430.5 L307.5,434.5 L303.5,430.5 Z" fill="none" stroke="#b9551f" stroke-width="1.25"/>
<path d="M309.5,428.0 L313.5,432.0 L309.5,436.0 L305.5,432.0 Z" fill="none" stroke="#dc7a33" stroke-width="1.25"/>
<path d="M305.5,425.0 L309.5,429.0 L305.5,433.0 L301.5,429.0 Z" fill="none" stroke="#b9551f" stroke-width="1.25"/>
<path d="M311.0,423.5 L315.0,427.5 L311.0,431.5 L307.0,427.5 Z" fill="none" stroke="#8e3414" stroke-width="1.25"/>
<path d="M308.0,429.5 L312.0,433.5 L308.0,437.5 L304.0,433.5 Z" fill="none" stroke="#dc7a33" stroke-width="1.25"/>
<rect x="49.5" y="377.8" width="323.5" height="289.6" fill="none" stroke="#555" stroke-width="1.2"/>
<line x1="43.5" y1="656.75" x2="49.5" y2="656.75" stroke="#555" stroke-width="1"/>
<text x="35.7" y="656.75" font-size="12.5" text-anchor="middle" font-weight="normal" font-style="normal" fill="#000" transform="rotate(-90 35.7 656.75)">0.0</text>
<line x1="61.5" y1="667.4" x2="61.5" y2="673.5" stroke="#555" stroke-width="1"/>
<text x="61.5" y="687.6" font-size="12.5" text-anchor="middle" font-weight="normal" font-style="normal" fill="#000">0.0</text>
<line x1="43.5" y1="597.25" x2="49.5" y2="597.25" stroke="#555" stroke-width="1"/>
<text x="35.7" y="597.25" font-size="12.5" text-anchor="middle" font-weight="normal" font-style="normal" fill="#000" transform="rotate(-90 35.7 597.25)">0.2</text>
<line x1="128.1" y1="667.4" x2="128.1" y2="673.5" stroke="#555" stroke-width="1"/>
<text x="128.1" y="687.6" font-size="12.5" text-anchor="middle" font-weight="normal" font-style="normal" fill="#000">0.2</text>
<line x1="43.5" y1="537.75" x2="49.5" y2="537.75" stroke="#555" stroke-width="1"/>
<text x="35.7" y="537.75" font-size="12.5" text-anchor="middle" font-weight="normal" font-style="normal" fill="#000" transform="rotate(-90 35.7 537.75)">0.4</text>
<line x1="194.7" y1="667.4" x2="194.7" y2="673.5" stroke="#555" stroke-width="1"/>
<text x="194.7" y="687.6" font-size="12.5" text-anchor="middle" font-weight="normal" font-style="normal" fill="#000">0.4</text>
<line x1="43.5" y1="478.25" x2="49.5" y2="478.25" stroke="#555" stroke-width="1"/>
<text x="35.7" y="478.25" font-size="12.5" text-anchor="middle" font-weight="normal" font-style="normal" fill="#000" transform="rotate(-90 35.7 478.25)">0.6</text>
<line x1="261.3" y1="667.4" x2="261.3" y2="673.5" stroke="#555" stroke-width="1"/>
<text x="261.3" y="687.6" font-size="12.5" text-anchor="middle" font-weight="normal" font-style="normal" fill="#000">0.6</text>
<line x1="43.5" y1="418.75" x2="49.5" y2="418.75" stroke="#555" stroke-width="1"/>
<text x="35.7" y="418.75" font-size="12.5" text-anchor="middle" font-weight="normal" font-style="normal" fill="#000" transform="rotate(-90 35.7 418.75)">0.8</text>
<line x1="327.9" y1="667.4" x2="327.9" y2="673.5" stroke="#555" stroke-width="1"/>
<text x="327.9" y="687.6" font-size="12.5" text-anchor="middle" font-weight="normal" font-style="normal" fill="#000">0.8</text>
<text x="207" y="705.75" font-size="14.6" text-anchor="middle" font-weight="normal" font-style="normal" fill="#000" textLength="265" lengthAdjust="spacingAndGlyphs">Transition coverage with linear modes</text>
<text x="21.3" y="529.7" font-size="15.5" text-anchor="middle" font-weight="normal" font-style="normal" fill="#000" transform="rotate(-90 21.3 529.7)" textLength="266" lengthAdjust="spacingAndGlyphs">Transition coverage with NOLB modes</text>
<defs>
<linearGradient id="gbr" x1="0" y1="0" x2="0" y2="1"><stop offset="0" stop-color="#561a08"/><stop offset="0.4" stop-color="#a4441a"/><stop offset="0.75" stop-color="#d47c32"/><stop offset="1" stop-color="#f2b468"/></linearGradient>
<linearGradient id="gbl" x1="0" y1="0" x2="0" y2="1"><stop offset="0" stop-color="#b4cbe4"/><stop offset="0.5" stop-color="#7f9fd3"/><stop offset="1" stop-color="#3b5bae"/></linearGradient>
<linearGradient id="ggr" x1="0" y1="0" x2="0" y2="1"><stop offset="0" stop-color="#939393"/><stop offset="1" stop-color="#030303"/></linearGradient>
</defs>
<rect x="328" y="532.3" width="10" height="30.1" fill="url(#gbr)" stroke="none" stroke-width="1"/>
<rect x="328" y="562.3" width="10" height="60" fill="url(#gbl)" stroke="none" stroke-width="1"/>
<rect x="328" y="622.2" width="10" height="29.5" fill="url(#ggr)" stroke="none" stroke-width="1"/>
<text x="330" y="519.3" font-size="12.5" text-anchor="middle" font-weight="normal" font-style="normal" fill="#000" textLength="64" lengthAdjust="spacingAndGlyphs">Collectivity</text>
<text x="322.9" y="536.6" font-size="12" text-anchor="end" font-weight="normal" font-style="normal" fill="#000">0.8</text>
<text x="322.9" y="566.6" font-size="12" text-anchor="end" font-weight="normal" font-style="normal" fill="#000">0.6</text>
<text x="322.9" y="596.6" font-size="12" text-anchor="end" font-weight="normal" font-style="normal" fill="#000">0.4</text>
<text x="322.9" y="626.5" font-size="12" text-anchor="end" font-weight="normal" font-style="normal" fill="#000">0.2</text>
<text x="322.9" y="656.1" font-size="12" text-anchor="end" font-weight="normal" font-style="normal" fill="#000">0</text>
<path d="M348.4,544.5 L352.6,548.7 L348.4,552.9 L344.2,548.7 Z" fill="none" stroke="#000" stroke-width="1.2"/>
<circle cx="347.3" cy="592.8" r="2.9" fill="none" stroke="#000" stroke-width="1.2"/>
<path d="M348.4,635.9 L352.6,643 L344.2,643 Z" fill="none" stroke="#000" stroke-width="1.2"/>
<text x="392.5" y="368" font-size="18.5" text-anchor="start" font-weight="bold" font-style="normal" fill="#000">D</text>
<path d="M458.75,563.60 L492.05,563.60 L492.05,447.60 L524.45,447.60 L524.45,494.00 L492.05,494.00 L492.05,563.60 L458.75,563.60 Z" fill="#dddddd"/>
<path d="M526.25,494.00 L558.65,494.00 L558.65,517.20 L591.95,517.20 L591.95,401.20 L625.25,401.20 L625.25,494.00 L657.65,494.00 L657.65,505.60 L625.25,505.60 L625.25,436.00 L591.95,436.00 L591.95,540.40 L558.65,540.40 L558.65,517.20 L526.25,517.20 Z" fill="#dddddd"/>
<path d="M659.45,436.00 L691.85,436.00 L691.85,459.20 L725.15,459.20 L725.15,459.20 L691.85,459.20 L691.85,459.20 L659.45,459.20 Z" fill="#dddddd"/>
<path d="M458.75,563.60 L492.05,563.60 L492.05,494.00 L524.45,494.00 L524.45,656.40 L492.05,656.40 L492.05,668.00 L458.75,668.00 Z" fill="#9b9b9b"/>
<path d="M526.25,517.20 L558.65,517.20 L558.65,540.40 L591.95,540.40 L591.95,436.00 L625.25,436.00 L625.25,505.60 L657.65,505.60 L657.65,644.80 L625.25,644.80 L625.25,586.80 L591.95,586.80 L591.95,668.00 L558.65,668.00 L558.65,644.80 L526.25,644.80 Z" fill="#9b9b9b"/>
<path d="M659.45,459.20 L691.85,459.20 L691.85,459.20 L725.15,459.20 L725.15,598.40 L691.85,598.40 L691.85,610.00 L659.45,610.00 Z" fill="#9b9b9b"/>
<path d="M458.75,668.00 L492.05,668.00 L492.05,656.40 L524.45,656.40 L524.45,668.00 L492.05,668.00 L492.05,668.00 L458.75,668.00 Z" fill="#3c3c3c"/>
<path d="M526.25,644.80 L558.65,644.80 L558.65,668.00 L591.95,668.00 L591.95,586.80 L625.25,586.80 L625.25,644.80 L657.65,644.80 L657.65,668.00 L625.25,668.00 L625.25,668.00 L591.95,668.00 L591.95,668.00 L558.65,668.00 L558.65,668.00 L526.25,668.00 Z" fill="#3c3c3c"/>
<path d="M659.45,610.00 L691.85,610.00 L691.85,598.40 L725.15,598.40 L725.15,668.00 L691.85,668.00 L691.85,668.00 L659.45,668.00 Z" fill="#3c3c3c"/>
<line x1="446.5" y1="668.5" x2="446.5" y2="378.0" stroke="#444" stroke-width="1"/>
<line x1="440.5" y1="668.0" x2="446.5" y2="668.0" stroke="#444" stroke-width="1"/>
<text x="433.7" y="668.0" font-size="13" text-anchor="middle" font-weight="normal" font-style="normal" fill="#000" transform="rotate(-90 433.7 668.0)">0</text>
<line x1="440.5" y1="610.0" x2="446.5" y2="610.0" stroke="#444" stroke-width="1"/>
<text x="433.7" y="610.0" font-size="13" text-anchor="middle" font-weight="normal" font-style="normal" fill="#000" transform="rotate(-90 433.7 610.0)">5</text>
<line x1="440.5" y1="552.0" x2="446.5" y2="552.0" stroke="#444" stroke-width="1"/>
<text x="433.7" y="552.0" font-size="13" text-anchor="middle" font-weight="normal" font-style="normal" fill="#000" transform="rotate(-90 433.7 552.0)">10</text>
<line x1="440.5" y1="494.0" x2="446.5" y2="494.0" stroke="#444" stroke-width="1"/>
<text x="433.7" y="494.0" font-size="13" text-anchor="middle" font-weight="normal" font-style="normal" fill="#000" transform="rotate(-90 433.7 494.0)">15</text>
<line x1="440.5" y1="436.0" x2="446.5" y2="436.0" stroke="#444" stroke-width="1"/>
<text x="433.7" y="436.0" font-size="13" text-anchor="middle" font-weight="normal" font-style="normal" fill="#000" transform="rotate(-90 433.7 436.0)">20</text>
<line x1="440.5" y1="378.0" x2="446.5" y2="378.0" stroke="#444" stroke-width="1"/>
<text x="433.7" y="378.0" font-size="13" text-anchor="middle" font-weight="normal" font-style="normal" fill="#000" transform="rotate(-90 433.7 378.0)">25</text>
<line x1="458.75" y1="668" x2="725.15" y2="668" stroke="#555" stroke-width="1"/>
<line x1="458.75" y1="668" x2="458.75" y2="674" stroke="#555" stroke-width="1"/>
<text x="458.75" y="688.75" font-size="12.5" text-anchor="middle" font-weight="normal" font-style="normal" fill="#000">0</text>
<line x1="492.05" y1="668" x2="492.05" y2="674" stroke="#555" stroke-width="1"/>
<text x="492.05" y="688.75" font-size="12.5" text-anchor="middle" font-weight="normal" font-style="normal" fill="#000">0.1</text>
<line x1="525.35" y1="668" x2="525.35" y2="674" stroke="#555" stroke-width="1"/>
<text x="525.35" y="688.75" font-size="12.5" text-anchor="middle" font-weight="normal" font-style="normal" fill="#000">0.2</text>
<line x1="558.65" y1="668" x2="558.65" y2="674" stroke="#555" stroke-width="1"/>
<text x="558.65" y="688.75" font-size="12.5" text-anchor="middle" font-weight="normal" font-style="normal" fill="#000">0.3</text>
<line x1="591.95" y1="668" x2="591.95" y2="674" stroke="#555" stroke-width="1"/>
<text x="591.95" y="688.75" font-size="12.5" text-anchor="middle" font-weight="normal" font-style="normal" fill="#000">0.4</text>
<line x1="625.25" y1="668" x2="625.25" y2="674" stroke="#555" stroke-width="1"/>
<text x="625.25" y="688.75" font-size="12.5" text-anchor="middle" font-weight="normal" font-style="normal" fill="#000">0.5</text>
<line x1="658.55" y1="668" x2="658.55" y2="674" stroke="#555" stroke-width="1"/>
<text x="658.55" y="688.75" font-size="12.5" text-anchor="middle" font-weight="normal" font-style="normal" fill="#000">0.6</text>
<line x1="691.85" y1="668" x2="691.85" y2="674" stroke="#555" stroke-width="1"/>
<text x="691.85" y="688.75" font-size="12.5" text-anchor="middle" font-weight="normal" font-style="normal" fill="#000">0.7</text>
<line x1="725.15" y1="668" x2="725.15" y2="674" stroke="#555" stroke-width="1"/>
<text x="725.15" y="688.75" font-size="12.5" text-anchor="middle" font-weight="normal" font-style="normal" fill="#000">0.8</text>
<text x="485.6" y="708" font-size="13" text-anchor="middle" font-weight="normal" font-style="italic" fill="#000" textLength="57.75" lengthAdjust="spacingAndGlyphs">Localized</text>
<text x="574" y="708" font-size="13" text-anchor="middle" font-weight="normal" font-style="italic" fill="#000" textLength="59.5" lengthAdjust="spacingAndGlyphs">Collective</text>
<text x="693.6" y="708" font-size="13" text-anchor="middle" font-weight="normal" font-style="italic" fill="#000" textLength="101.25" lengthAdjust="spacingAndGlyphs">Highly collective</text>
<text x="420" y="519" font-size="15.6" text-anchor="middle" font-weight="normal" font-style="normal" fill="#000" transform="rotate(-90 420 519)" textLength="152" lengthAdjust="spacingAndGlyphs">Number of transitions</text>
<rect x="457.6" y="374.6" width="10.8" height="10.4" fill="#3c3c3c" stroke="none" stroke-width="1"/>
<text x="473.8" y="383.7" font-size="13.2" text-anchor="start" font-weight="normal" font-style="normal" fill="#000" textLength="77.9" lengthAdjust="spacingAndGlyphs">open-closed</text>
<rect x="457.6" y="388.2" width="10.8" height="10.4" fill="#9b9b9b" stroke="none" stroke-width="1"/>
<text x="473.8" y="396.9" font-size="13.2" text-anchor="start" font-weight="normal" font-style="normal" fill="#000" textLength="102.3" lengthAdjust="spacingAndGlyphs">unbound-bound</text>
<rect x="457.6" y="401.6" width="10.8" height="10.4" fill="#dddddd" stroke="none" stroke-width="1"/>
<text x="473.8" y="410.3" font-size="13.2" text-anchor="start" font-weight="normal" font-style="normal" fill="#000" textLength="99.7" lengthAdjust="spacingAndGlyphs">crystal-solution</text>
</svg></body></html>
